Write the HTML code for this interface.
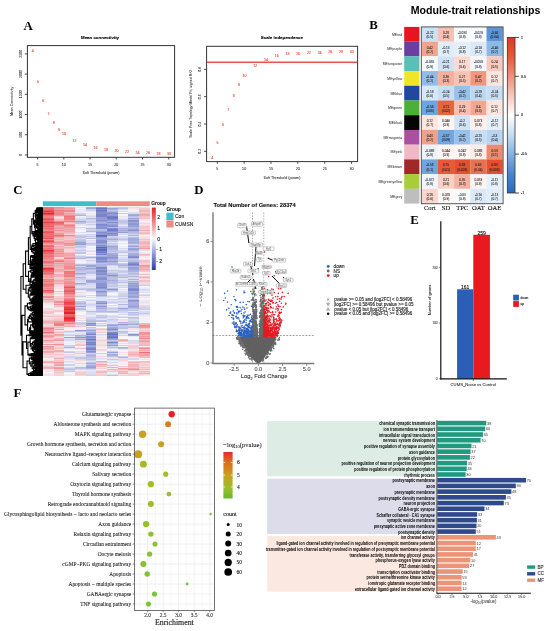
<!DOCTYPE html>
<html><head><meta charset="utf-8"><style>
html,body{margin:0;padding:0;background:#fff;}
body{width:550px;height:631px;overflow:hidden;position:relative;}
svg{position:absolute;left:0;top:0;will-change:transform;}
.s{font-family:"Liberation Sans", sans-serif;}
.r{font-family:"Liberation Serif", serif;}
</style></head><body>
<svg width="550" height="631" viewBox="0 0 550 631">
<text class="r" x="23.40" y="29.70" font-size="12.8" font-weight="bold">A</text>
<text class="r" x="369.20" y="28.90" font-size="12.8" font-weight="bold">B</text>
<text class="r" x="13.20" y="193.90" font-size="12.8" font-weight="bold">C</text>
<text class="r" x="194.20" y="194.20" font-size="12.8" font-weight="bold">D</text>
<text class="r" x="410.30" y="224.20" font-size="12.8" font-weight="bold">E</text>
<text class="r" x="13.60" y="396.70" font-size="12.8" font-weight="bold">F</text>
<rect x="27.4" y="45.6" width="147.2" height="111.70000000000002" fill="none" stroke="#333" stroke-width="1.0"/>
<line x1="37.60" y1="157.30" x2="37.60" y2="159.50" stroke="#222" stroke-width="0.8"/>
<text class="s" x="37.60" y="165.80" font-size="3.7" text-anchor="middle" fill="#222" stroke="#222" stroke-width="0.04">5</text>
<line x1="63.83" y1="157.30" x2="63.83" y2="159.50" stroke="#222" stroke-width="0.8"/>
<text class="s" x="63.83" y="165.80" font-size="3.7" text-anchor="middle" fill="#222" stroke="#222" stroke-width="0.04">10</text>
<line x1="90.05" y1="157.30" x2="90.05" y2="159.50" stroke="#222" stroke-width="0.8"/>
<text class="s" x="90.05" y="165.80" font-size="3.7" text-anchor="middle" fill="#222" stroke="#222" stroke-width="0.04">15</text>
<line x1="116.28" y1="157.30" x2="116.28" y2="159.50" stroke="#222" stroke-width="0.8"/>
<text class="s" x="116.28" y="165.80" font-size="3.7" text-anchor="middle" fill="#222" stroke="#222" stroke-width="0.04">20</text>
<line x1="142.50" y1="157.30" x2="142.50" y2="159.50" stroke="#222" stroke-width="0.8"/>
<text class="s" x="142.50" y="165.80" font-size="3.7" text-anchor="middle" fill="#222" stroke="#222" stroke-width="0.04">25</text>
<line x1="168.72" y1="157.30" x2="168.72" y2="159.50" stroke="#222" stroke-width="0.8"/>
<text class="s" x="168.72" y="165.80" font-size="3.7" text-anchor="middle" fill="#222" stroke="#222" stroke-width="0.04">30</text>
<line x1="27.40" y1="154.90" x2="24.80" y2="154.90" stroke="#222" stroke-width="0.8"/>
<text class="s" x="21.60" y="154.90" font-size="3.5" text-anchor="middle" fill="#222" transform="rotate(-90 21.60 154.90)" stroke="#222" stroke-width="0.04">0</text>
<line x1="27.40" y1="134.70" x2="24.80" y2="134.70" stroke="#222" stroke-width="0.8"/>
<text class="s" x="21.60" y="134.70" font-size="3.5" text-anchor="middle" fill="#222" transform="rotate(-90 21.60 134.70)" stroke="#222" stroke-width="0.04">500</text>
<line x1="27.40" y1="114.50" x2="24.80" y2="114.50" stroke="#222" stroke-width="0.8"/>
<text class="s" x="21.60" y="114.50" font-size="3.5" text-anchor="middle" fill="#222" transform="rotate(-90 21.60 114.50)" stroke="#222" stroke-width="0.04">1000</text>
<line x1="27.40" y1="94.30" x2="24.80" y2="94.30" stroke="#222" stroke-width="0.8"/>
<text class="s" x="21.60" y="94.30" font-size="3.5" text-anchor="middle" fill="#222" transform="rotate(-90 21.60 94.30)" stroke="#222" stroke-width="0.04">1500</text>
<line x1="27.40" y1="74.10" x2="24.80" y2="74.10" stroke="#222" stroke-width="0.8"/>
<text class="s" x="21.60" y="74.10" font-size="3.5" text-anchor="middle" fill="#222" transform="rotate(-90 21.60 74.10)" stroke="#222" stroke-width="0.04">2000</text>
<line x1="27.40" y1="53.90" x2="24.80" y2="53.90" stroke="#222" stroke-width="0.8"/>
<text class="s" x="21.60" y="53.90" font-size="3.5" text-anchor="middle" fill="#222" transform="rotate(-90 21.60 53.90)" stroke="#222" stroke-width="0.04">2500</text>
<text class="s" x="101.00" y="174.30" font-size="3.65" text-anchor="middle" fill="#222" stroke="#222" stroke-width="0.04">Soft Threshold (power)</text>
<text class="s" x="12.60" y="101.45" font-size="3.57" text-anchor="middle" fill="#222" transform="rotate(-90 12.60 101.45)" stroke="#222" stroke-width="0.04">Mean Connectivity</text>
<text class="s" x="100.00" y="38.50" font-size="4.4" text-anchor="middle" font-weight="bold" stroke="#000" stroke-width="0.12">Mean connectivity</text>
<text class="s" x="32.66" y="51.94" font-size="3.6" text-anchor="middle" fill="#ea5040" stroke="#ea5040" stroke-width="0.12">4</text>
<text class="s" x="37.90" y="82.57" font-size="3.6" text-anchor="middle" fill="#ea5040" stroke="#ea5040" stroke-width="0.12">5</text>
<text class="s" x="43.14" y="101.76" font-size="3.6" text-anchor="middle" fill="#ea5040" stroke="#ea5040" stroke-width="0.12">6</text>
<text class="s" x="48.39" y="114.52" font-size="3.6" text-anchor="middle" fill="#ea5040" stroke="#ea5040" stroke-width="0.12">7</text>
<text class="s" x="53.63" y="124.18" font-size="3.6" text-anchor="middle" fill="#ea5040" stroke="#ea5040" stroke-width="0.12">8</text>
<text class="s" x="58.88" y="130.64" font-size="3.6" text-anchor="middle" fill="#ea5040" stroke="#ea5040" stroke-width="0.12">9</text>
<text class="s" x="64.12" y="135.13" font-size="3.6" text-anchor="middle" fill="#ea5040" stroke="#ea5040" stroke-width="0.12">10</text>
<text class="s" x="74.61" y="141.99" font-size="3.6" text-anchor="middle" fill="#ea5040" stroke="#ea5040" stroke-width="0.12">12</text>
<text class="s" x="85.11" y="145.75" font-size="3.6" text-anchor="middle" fill="#ea5040" stroke="#ea5040" stroke-width="0.12">14</text>
<text class="s" x="95.59" y="148.82" font-size="3.6" text-anchor="middle" fill="#ea5040" stroke="#ea5040" stroke-width="0.12">16</text>
<text class="s" x="106.08" y="150.64" font-size="3.6" text-anchor="middle" fill="#ea5040" stroke="#ea5040" stroke-width="0.12">18</text>
<text class="s" x="116.58" y="152.01" font-size="3.6" text-anchor="middle" fill="#ea5040" stroke="#ea5040" stroke-width="0.12">20</text>
<text class="s" x="127.07" y="153.02" font-size="3.6" text-anchor="middle" fill="#ea5040" stroke="#ea5040" stroke-width="0.12">22</text>
<text class="s" x="137.56" y="153.71" font-size="3.6" text-anchor="middle" fill="#ea5040" stroke="#ea5040" stroke-width="0.12">24</text>
<text class="s" x="148.05" y="154.20" font-size="3.6" text-anchor="middle" fill="#ea5040" stroke="#ea5040" stroke-width="0.12">26</text>
<text class="s" x="158.54" y="154.68" font-size="3.6" text-anchor="middle" fill="#ea5040" stroke="#ea5040" stroke-width="0.12">28</text>
<text class="s" x="169.03" y="155.00" font-size="3.6" text-anchor="middle" fill="#ea5040" stroke="#ea5040" stroke-width="0.12">30</text>
<rect x="206.6" y="46.3" width="151.00000000000003" height="115.3" fill="none" stroke="#333" stroke-width="1.0"/>
<line x1="217.30" y1="161.60" x2="217.30" y2="163.80" stroke="#222" stroke-width="0.8"/>
<text class="s" x="217.30" y="170.10" font-size="3.7" text-anchor="middle" fill="#222" stroke="#222" stroke-width="0.04">5</text>
<line x1="244.15" y1="161.60" x2="244.15" y2="163.80" stroke="#222" stroke-width="0.8"/>
<text class="s" x="244.15" y="170.10" font-size="3.7" text-anchor="middle" fill="#222" stroke="#222" stroke-width="0.04">10</text>
<line x1="271.00" y1="161.60" x2="271.00" y2="163.80" stroke="#222" stroke-width="0.8"/>
<text class="s" x="271.00" y="170.10" font-size="3.7" text-anchor="middle" fill="#222" stroke="#222" stroke-width="0.04">15</text>
<line x1="297.85" y1="161.60" x2="297.85" y2="163.80" stroke="#222" stroke-width="0.8"/>
<text class="s" x="297.85" y="170.10" font-size="3.7" text-anchor="middle" fill="#222" stroke="#222" stroke-width="0.04">20</text>
<line x1="324.70" y1="161.60" x2="324.70" y2="163.80" stroke="#222" stroke-width="0.8"/>
<text class="s" x="324.70" y="170.10" font-size="3.7" text-anchor="middle" fill="#222" stroke="#222" stroke-width="0.04">25</text>
<line x1="351.55" y1="161.60" x2="351.55" y2="163.80" stroke="#222" stroke-width="0.8"/>
<text class="s" x="351.55" y="170.10" font-size="3.7" text-anchor="middle" fill="#222" stroke="#222" stroke-width="0.04">30</text>
<line x1="206.60" y1="151.30" x2="204.00" y2="151.30" stroke="#222" stroke-width="0.8"/>
<text class="s" x="200.80" y="151.30" font-size="3.5" text-anchor="middle" fill="#222" transform="rotate(-90 200.80 151.30)" stroke="#222" stroke-width="0.04">0.2</text>
<line x1="206.60" y1="124.00" x2="204.00" y2="124.00" stroke="#222" stroke-width="0.8"/>
<text class="s" x="200.80" y="124.00" font-size="3.5" text-anchor="middle" fill="#222" transform="rotate(-90 200.80 124.00)" stroke="#222" stroke-width="0.04">0.4</text>
<line x1="206.60" y1="96.70" x2="204.00" y2="96.70" stroke="#222" stroke-width="0.8"/>
<text class="s" x="200.80" y="96.70" font-size="3.5" text-anchor="middle" fill="#222" transform="rotate(-90 200.80 96.70)" stroke="#222" stroke-width="0.04">0.6</text>
<line x1="206.60" y1="69.40" x2="204.00" y2="69.40" stroke="#222" stroke-width="0.8"/>
<text class="s" x="200.80" y="69.40" font-size="3.5" text-anchor="middle" fill="#222" transform="rotate(-90 200.80 69.40)" stroke="#222" stroke-width="0.04">0.8</text>
<text class="s" x="282.10" y="178.60" font-size="3.65" text-anchor="middle" fill="#222" stroke="#222" stroke-width="0.04">Soft Threshold (power)</text>
<text class="s" x="192.00" y="103.95" font-size="3.57" text-anchor="middle" fill="#222" transform="rotate(-90 192.00 103.95)" stroke="#222" stroke-width="0.04">Scale Free Topology Model Fit, signed R^2</text>
<text class="s" x="281.90" y="38.50" font-size="4.4" text-anchor="middle" font-weight="bold" stroke="#000" stroke-width="0.12">Scale independence</text>
<line x1="207.10" y1="62.20" x2="357.10" y2="62.20" stroke="#f05050" stroke-width="1.5"/>
<text class="s" x="212.23" y="159.11" font-size="3.6" text-anchor="middle" fill="#ea5040" stroke="#ea5040" stroke-width="0.12">4</text>
<text class="s" x="217.60" y="144.36" font-size="3.6" text-anchor="middle" fill="#ea5040" stroke="#ea5040" stroke-width="0.12">5</text>
<text class="s" x="222.97" y="125.80" font-size="3.6" text-anchor="middle" fill="#ea5040" stroke="#ea5040" stroke-width="0.12">6</text>
<text class="s" x="228.34" y="111.19" font-size="3.6" text-anchor="middle" fill="#ea5040" stroke="#ea5040" stroke-width="0.12">7</text>
<text class="s" x="233.71" y="97.41" font-size="3.6" text-anchor="middle" fill="#ea5040" stroke="#ea5040" stroke-width="0.12">8</text>
<text class="s" x="239.08" y="86.35" font-size="3.6" text-anchor="middle" fill="#ea5040" stroke="#ea5040" stroke-width="0.12">9</text>
<text class="s" x="244.45" y="76.93" font-size="3.6" text-anchor="middle" fill="#ea5040" stroke="#ea5040" stroke-width="0.12">10</text>
<text class="s" x="255.19" y="66.70" font-size="3.6" text-anchor="middle" fill="#ea5040" stroke="#ea5040" stroke-width="0.12">12</text>
<text class="s" x="265.93" y="60.55" font-size="3.6" text-anchor="middle" fill="#ea5040" stroke="#ea5040" stroke-width="0.12">14</text>
<text class="s" x="276.67" y="57.00" font-size="3.6" text-anchor="middle" fill="#ea5040" stroke="#ea5040" stroke-width="0.12">16</text>
<text class="s" x="287.41" y="55.37" font-size="3.6" text-anchor="middle" fill="#ea5040" stroke="#ea5040" stroke-width="0.12">18</text>
<text class="s" x="298.15" y="54.68" font-size="3.6" text-anchor="middle" fill="#ea5040" stroke="#ea5040" stroke-width="0.12">20</text>
<text class="s" x="308.89" y="54.27" font-size="3.6" text-anchor="middle" fill="#ea5040" stroke="#ea5040" stroke-width="0.12">22</text>
<text class="s" x="319.63" y="53.59" font-size="3.6" text-anchor="middle" fill="#ea5040" stroke="#ea5040" stroke-width="0.12">24</text>
<text class="s" x="330.37" y="53.46" font-size="3.6" text-anchor="middle" fill="#ea5040" stroke="#ea5040" stroke-width="0.12">26</text>
<text class="s" x="341.11" y="53.46" font-size="3.6" text-anchor="middle" fill="#ea5040" stroke="#ea5040" stroke-width="0.12">28</text>
<text class="s" x="351.85" y="53.46" font-size="3.6" text-anchor="middle" fill="#ea5040" stroke="#ea5040" stroke-width="0.12">30</text>
<text class="s" x="410.80" y="13.90" font-size="10.6" font-weight="bold">Module-trait relationships</text>
<rect x="404.20" y="26.90" width="15.20" height="14.77" fill="#e8141e"/>
<rect x="421.70" y="26.90" width="16.25" height="14.77" fill="#cde1f4"/>
<rect x="437.90" y="26.90" width="16.25" height="14.77" fill="#f6c1b2"/>
<rect x="454.10" y="26.90" width="16.25" height="14.77" fill="#f7fbfd"/>
<rect x="470.30" y="26.90" width="16.25" height="14.77" fill="#f8fbfd"/>
<rect x="486.50" y="26.90" width="16.25" height="14.77" fill="#5d96d6"/>
<rect x="404.20" y="41.62" width="15.20" height="14.77" fill="#6b3fa0"/>
<rect x="421.70" y="41.62" width="16.25" height="14.77" fill="#f1a38d"/>
<rect x="437.90" y="41.62" width="16.25" height="14.77" fill="#e1edf8"/>
<rect x="454.10" y="41.62" width="16.25" height="14.77" fill="#e4eff9"/>
<rect x="470.30" y="41.62" width="16.25" height="14.77" fill="#dbe9f7"/>
<rect x="486.50" y="41.62" width="16.25" height="14.77" fill="#8db9e6"/>
<rect x="404.20" y="56.34" width="15.20" height="14.77" fill="#5bbfb8"/>
<rect x="421.70" y="56.34" width="16.25" height="14.77" fill="#f2f8fc"/>
<rect x="437.90" y="56.34" width="16.25" height="14.77" fill="#cfe2f4"/>
<rect x="454.10" y="56.34" width="16.25" height="14.77" fill="#fadad0"/>
<rect x="470.30" y="56.34" width="16.25" height="14.77" fill="#f2f7fc"/>
<rect x="486.50" y="56.34" width="16.25" height="14.77" fill="#f7cabd"/>
<rect x="404.20" y="71.06" width="15.20" height="14.77" fill="#f0e628"/>
<rect x="421.70" y="71.06" width="16.25" height="14.77" fill="#92bce7"/>
<rect x="437.90" y="71.06" width="16.25" height="14.77" fill="#f3b09d"/>
<rect x="454.10" y="71.06" width="16.25" height="14.77" fill="#f6c4b5"/>
<rect x="470.30" y="71.06" width="16.25" height="14.77" fill="#ef9880"/>
<rect x="486.50" y="71.06" width="16.25" height="14.77" fill="#fbe5de"/>
<rect x="404.20" y="85.78" width="15.20" height="14.77" fill="#1f48a0"/>
<rect x="421.70" y="85.78" width="16.25" height="14.77" fill="#d6e7f6"/>
<rect x="437.90" y="85.78" width="16.25" height="14.77" fill="#c8def3"/>
<rect x="454.10" y="85.78" width="16.25" height="14.77" fill="#98c0e8"/>
<rect x="470.30" y="85.78" width="16.25" height="14.77" fill="#bed8f0"/>
<rect x="486.50" y="85.78" width="16.25" height="14.77" fill="#c8def3"/>
<rect x="404.20" y="100.50" width="15.20" height="14.77" fill="#4daf3a"/>
<rect x="421.70" y="100.50" width="16.25" height="14.77" fill="#6fa4dd"/>
<rect x="437.90" y="100.50" width="16.25" height="14.77" fill="#e76341"/>
<rect x="454.10" y="100.50" width="16.25" height="14.77" fill="#f6bfaf"/>
<rect x="470.30" y="100.50" width="16.25" height="14.77" fill="#f2a792"/>
<rect x="486.50" y="100.50" width="16.25" height="14.77" fill="#fbe5de"/>
<rect x="404.20" y="115.22" width="15.20" height="14.77" fill="#050505"/>
<rect x="421.70" y="115.22" width="16.25" height="14.77" fill="#fbe5de"/>
<rect x="437.90" y="115.22" width="16.25" height="14.77" fill="#fef5f2"/>
<rect x="454.10" y="115.22" width="16.25" height="14.77" fill="#d1e4f5"/>
<rect x="470.30" y="115.22" width="16.25" height="14.77" fill="#fdefeb"/>
<rect x="486.50" y="115.22" width="16.25" height="14.77" fill="#e4eff9"/>
<rect x="404.20" y="129.94" width="15.20" height="14.77" fill="#a851a0"/>
<rect x="421.70" y="129.94" width="16.25" height="14.77" fill="#f1a08a"/>
<rect x="437.90" y="129.94" width="16.25" height="14.77" fill="#72a6de"/>
<rect x="454.10" y="129.94" width="16.25" height="14.77" fill="#9ac1e9"/>
<rect x="470.30" y="129.94" width="16.25" height="14.77" fill="#c6ddf2"/>
<rect x="486.50" y="129.94" width="16.25" height="14.77" fill="#b8d4ef"/>
<rect x="404.20" y="144.66" width="15.20" height="14.77" fill="#f2b8c6"/>
<rect x="421.70" y="144.66" width="16.25" height="14.77" fill="#ebf3fa"/>
<rect x="437.90" y="144.66" width="16.25" height="14.77" fill="#fef5f3"/>
<rect x="454.10" y="144.66" width="16.25" height="14.77" fill="#fef6f3"/>
<rect x="470.30" y="144.66" width="16.25" height="14.77" fill="#fcece7"/>
<rect x="486.50" y="144.66" width="16.25" height="14.77" fill="#ed8a70"/>
<rect x="404.20" y="159.38" width="15.20" height="14.77" fill="#a02828"/>
<rect x="421.70" y="159.38" width="16.25" height="14.77" fill="#6fa4dd"/>
<rect x="437.90" y="159.38" width="16.25" height="14.77" fill="#e65a37"/>
<rect x="454.10" y="159.38" width="16.25" height="14.77" fill="#e34f2f"/>
<rect x="470.30" y="159.38" width="16.25" height="14.77" fill="#e97051"/>
<rect x="486.50" y="159.38" width="16.25" height="14.77" fill="#e34f2f"/>
<rect x="404.20" y="174.10" width="15.20" height="14.77" fill="#a8cc3a"/>
<rect x="421.70" y="174.10" width="16.25" height="14.77" fill="#eff5fb"/>
<rect x="437.90" y="174.10" width="16.25" height="14.77" fill="#f8d1c5"/>
<rect x="454.10" y="174.10" width="16.25" height="14.77" fill="#f3b2a0"/>
<rect x="470.30" y="174.10" width="16.25" height="14.77" fill="#fdf3f0"/>
<rect x="486.50" y="174.10" width="16.25" height="14.77" fill="#e6f0f9"/>
<rect x="404.20" y="188.82" width="15.20" height="14.77" fill="#bebebe"/>
<rect x="421.70" y="188.82" width="16.25" height="14.77" fill="#f9d5cb"/>
<rect x="437.90" y="188.82" width="16.25" height="14.77" fill="#fef9f7"/>
<rect x="454.10" y="188.82" width="16.25" height="14.77" fill="#f8fbfd"/>
<rect x="470.30" y="188.82" width="16.25" height="14.77" fill="#dbe9f7"/>
<rect x="486.50" y="188.82" width="16.25" height="14.77" fill="#e1edf8"/>
<g class="s" font-size="4.15" fill="#1e1e1e" text-anchor="end" transform="scale(0.84 1)"><text x="478.81" y="35.66">MEred</text><text x="478.81" y="50.38">MEpurple</text><text x="478.81" y="65.10">MEturquoise</text><text x="478.81" y="79.82">MEyellow</text><text x="478.81" y="94.54">MEblue</text><text x="478.81" y="109.26">MEgreen</text><text x="478.81" y="123.98">MEblack</text><text x="478.81" y="138.70">MEmagenta</text><text x="478.81" y="153.42">MEpink</text><text x="478.81" y="168.14">MEbrown</text><text x="478.81" y="182.86">MEgreenyellow</text><text x="478.81" y="197.58">MEgrey</text></g>
<g class="s" font-size="4.1" fill="#1e1e1e" stroke="#1e1e1e" stroke-width="0.07" text-anchor="middle" transform="scale(0.78 1)"><text x="551.03" y="33.96">-0.22</text><text x="551.03" y="38.11">(0.5)</text><text x="571.79" y="33.96">0.28</text><text x="571.79" y="38.11">(0.4)</text><text x="592.56" y="33.96">-0.033</text><text x="592.56" y="38.11">(0.9)</text><text x="613.33" y="33.96">-0.029</text><text x="613.33" y="38.11">(0.9)</text><text x="634.10" y="33.96">-0.66</text><text x="634.10" y="38.11">(0.04)</text><text x="551.03" y="48.68">0.42</text><text x="551.03" y="52.83">(0.2)</text><text x="571.79" y="48.68">-0.13</text><text x="571.79" y="52.83">(0.7)</text><text x="592.56" y="48.68">-0.12</text><text x="592.56" y="52.83">(0.8)</text><text x="613.33" y="48.68">-0.16</text><text x="613.33" y="52.83">(0.7)</text><text x="634.10" y="48.68">-0.46</text><text x="634.10" y="52.83">(0.2)</text><text x="551.03" y="63.40">-0.055</text><text x="551.03" y="67.55">(0.9)</text><text x="571.79" y="63.40">-0.21</text><text x="571.79" y="67.55">(0.6)</text><text x="592.56" y="63.40">0.17</text><text x="592.56" y="67.55">(0.6)</text><text x="613.33" y="63.40">-0.058</text><text x="613.33" y="67.55">(0.9)</text><text x="634.10" y="63.40">0.24</text><text x="634.10" y="67.55">(0.5)</text><text x="551.03" y="78.12">-0.44</text><text x="551.03" y="82.27">(0.2)</text><text x="571.79" y="78.12">0.36</text><text x="571.79" y="82.27">(0.3)</text><text x="592.56" y="78.12">0.27</text><text x="592.56" y="82.27">(0.5)</text><text x="613.33" y="78.12">0.47</text><text x="613.33" y="82.27">(0.2)</text><text x="634.10" y="78.12">0.12</text><text x="634.10" y="82.27">(0.7)</text><text x="551.03" y="92.84">-0.18</text><text x="551.03" y="96.99">(0.6)</text><text x="571.79" y="92.84">-0.24</text><text x="571.79" y="96.99">(0.5)</text><text x="592.56" y="92.84">-0.42</text><text x="592.56" y="96.99">(0.2)</text><text x="613.33" y="92.84">-0.28</text><text x="613.33" y="96.99">(0.4)</text><text x="634.10" y="92.84">-0.24</text><text x="634.10" y="96.99">(0.5)</text><text x="551.03" y="107.56">-0.58</text><text x="551.03" y="111.71">(0.08)</text><text x="571.79" y="107.56">0.71</text><text x="571.79" y="111.71">(0.02)</text><text x="592.56" y="107.56">0.29</text><text x="592.56" y="111.71">(0.4)</text><text x="613.33" y="107.56">0.4</text><text x="613.33" y="111.71">(0.3)</text><text x="634.10" y="107.56">0.12</text><text x="634.10" y="111.71">(0.7)</text><text x="551.03" y="122.28">0.12</text><text x="551.03" y="126.43">(0.7)</text><text x="571.79" y="122.28">0.046</text><text x="571.79" y="126.43">(0.9)</text><text x="592.56" y="122.28">-0.2</text><text x="592.56" y="126.43">(0.6)</text><text x="613.33" y="122.28">0.073</text><text x="613.33" y="126.43">(0.8)</text><text x="634.10" y="122.28">-0.12</text><text x="634.10" y="126.43">(0.7)</text><text x="551.03" y="137.00">0.43</text><text x="551.03" y="141.15">(0.2)</text><text x="571.79" y="137.00">-0.57</text><text x="571.79" y="141.15">(0.09)</text><text x="592.56" y="137.00">-0.41</text><text x="592.56" y="141.15">(0.2)</text><text x="613.33" y="137.00">-0.25</text><text x="613.33" y="141.15">(0.5)</text><text x="634.10" y="137.00">-0.3</text><text x="634.10" y="141.15">(0.4)</text><text x="551.03" y="151.72">-0.088</text><text x="551.03" y="155.87">(0.8)</text><text x="571.79" y="151.72">0.044</text><text x="571.79" y="155.87">(0.9)</text><text x="592.56" y="151.72">0.042</text><text x="592.56" y="155.87">(0.9)</text><text x="613.33" y="151.72">0.088</text><text x="613.33" y="155.87">(0.8)</text><text x="634.10" y="151.72">0.53</text><text x="634.10" y="155.87">(0.1)</text><text x="551.03" y="166.44">-0.58</text><text x="551.03" y="170.59">(0.1)</text><text x="571.79" y="166.44">0.75</text><text x="571.79" y="170.59">(0.01)</text><text x="592.56" y="166.44">0.83</text><text x="592.56" y="170.59">(0.003)</text><text x="613.33" y="166.44">0.65</text><text x="613.33" y="170.59">(0.04)</text><text x="634.10" y="166.44">0.83</text><text x="634.10" y="170.59">(0.003)</text><text x="551.03" y="181.16">-0.072</text><text x="551.03" y="185.31">(0.8)</text><text x="571.79" y="181.16">0.21</text><text x="571.79" y="185.31">(0.6)</text><text x="592.56" y="181.16">0.35</text><text x="592.56" y="185.31">(0.3)</text><text x="613.33" y="181.16">0.053</text><text x="613.33" y="185.31">(0.9)</text><text x="634.10" y="181.16">-0.11</text><text x="634.10" y="185.31">(0.8)</text><text x="551.03" y="195.88">0.19</text><text x="551.03" y="200.03">(0.6)</text><text x="571.79" y="195.88">0.028</text><text x="571.79" y="200.03">(0.9)</text><text x="592.56" y="195.88">-0.03</text><text x="592.56" y="200.03">(0.9)</text><text x="613.33" y="195.88">-0.16</text><text x="613.33" y="200.03">(0.7)</text><text x="634.10" y="195.88">-0.13</text><text x="634.10" y="200.03">(0.7)</text></g>
<rect x="421.3" y="26.9" width="81.8" height="176.84" fill="none" stroke="#444" stroke-width="0.9"/>
<text class="r" x="429.80" y="209.80" font-size="6.6" text-anchor="middle" fill="#111" stroke="#111" stroke-width="0.12">Cort</text>
<text class="r" x="446.00" y="209.80" font-size="6.6" text-anchor="middle" fill="#111" stroke="#111" stroke-width="0.12">SD</text>
<text class="r" x="462.20" y="209.80" font-size="6.6" text-anchor="middle" fill="#111" stroke="#111" stroke-width="0.12">TPC</text>
<text class="r" x="478.40" y="209.80" font-size="6.6" text-anchor="middle" fill="#111" stroke="#111" stroke-width="0.12">OAT</text>
<text class="r" x="494.60" y="209.80" font-size="6.6" text-anchor="middle" fill="#111" stroke="#111" stroke-width="0.12">OAE</text>
<defs><linearGradient id="gB" x1="0" y1="0" x2="0" y2="1"><stop offset="0.000" stop-color="#de371e"/><stop offset="0.125" stop-color="#e65a37"/><stop offset="0.250" stop-color="#ee9178"/><stop offset="0.375" stop-color="#f7c8ba"/><stop offset="0.500" stop-color="#ffffff"/><stop offset="0.625" stop-color="#c6ddf2"/><stop offset="0.750" stop-color="#82b2e4"/><stop offset="0.875" stop-color="#4887ce"/><stop offset="1.000" stop-color="#2869bc"/></linearGradient></defs>
<rect x="507.3" y="37.4" width="7.7" height="155.6" fill="url(#gB)" stroke="#333" stroke-width="0.8"/>
<line x1="515.00" y1="37.40" x2="519.00" y2="37.40" stroke="#222" stroke-width="0.8"/>
<text class="s" x="521.00" y="38.60" font-size="3.5" fill="#222" stroke="#222" stroke-width="0.12">1</text>
<line x1="515.00" y1="76.30" x2="519.00" y2="76.30" stroke="#222" stroke-width="0.8"/>
<text class="s" x="521.00" y="77.50" font-size="3.5" fill="#222" stroke="#222" stroke-width="0.12">0.5</text>
<line x1="515.00" y1="115.20" x2="519.00" y2="115.20" stroke="#222" stroke-width="0.8"/>
<text class="s" x="521.00" y="116.40" font-size="3.5" fill="#222" stroke="#222" stroke-width="0.12">0</text>
<line x1="515.00" y1="154.10" x2="519.00" y2="154.10" stroke="#222" stroke-width="0.8"/>
<text class="s" x="521.00" y="155.30" font-size="3.5" fill="#222" stroke="#222" stroke-width="0.12">-0.5</text>
<line x1="515.00" y1="193.00" x2="519.00" y2="193.00" stroke="#222" stroke-width="0.8"/>
<text class="s" x="521.00" y="194.20" font-size="3.5" fill="#222" stroke="#222" stroke-width="0.12">-1</text>
<rect x="42.80" y="201.30" width="53.50" height="4.80" fill="#3fbdcb"/>
<rect x="96.30" y="201.30" width="53.50" height="4.80" fill="#f08a84"/>
<g shape-rendering="crispEdges"><rect x="42.80" y="207.30" width="10.75" height="1.05" fill="#ee777d"/><rect x="53.50" y="207.30" width="10.75" height="1.05" fill="#f08d92"/><rect x="64.20" y="207.30" width="10.75" height="1.05" fill="#f3afb4"/><rect x="74.90" y="207.30" width="10.75" height="1.05" fill="#e5e7f5"/><rect x="85.60" y="207.30" width="10.75" height="1.05" fill="#a7afdd"/><rect x="96.30" y="207.30" width="10.75" height="1.05" fill="#8d97d3"/><rect x="107.00" y="207.30" width="10.75" height="1.05" fill="#ccd0eb"/><rect x="117.70" y="207.30" width="10.75" height="1.05" fill="#c6cbe9"/><rect x="128.40" y="207.30" width="10.75" height="1.05" fill="#dee0f2"/><rect x="139.10" y="207.30" width="10.75" height="1.05" fill="#f6dfe3"/><rect x="42.80" y="208.29" width="10.75" height="1.05" fill="#ed6d73"/><rect x="53.50" y="208.29" width="10.75" height="1.05" fill="#f1989d"/><rect x="64.20" y="208.29" width="10.75" height="1.05" fill="#f1999e"/><rect x="74.90" y="208.29" width="10.75" height="1.05" fill="#f0f1f9"/><rect x="85.60" y="208.29" width="10.75" height="1.05" fill="#9ea6d9"/><rect x="96.30" y="208.29" width="10.75" height="1.05" fill="#6b77c1"/><rect x="107.00" y="208.29" width="10.75" height="1.05" fill="#9aa3d7"/><rect x="117.70" y="208.29" width="10.75" height="1.05" fill="#bbc1e4"/><rect x="128.40" y="208.29" width="10.75" height="1.05" fill="#f6e3e7"/><rect x="139.10" y="208.29" width="10.75" height="1.05" fill="#f5cacf"/><rect x="42.80" y="209.28" width="10.75" height="1.05" fill="#ed6a70"/><rect x="53.50" y="209.28" width="10.75" height="1.05" fill="#f1999e"/><rect x="64.20" y="209.28" width="10.75" height="1.05" fill="#f2a2a6"/><rect x="74.90" y="209.28" width="10.75" height="1.05" fill="#e8e9f6"/><rect x="85.60" y="209.28" width="10.75" height="1.05" fill="#cdd1eb"/><rect x="96.30" y="209.28" width="10.75" height="1.05" fill="#7f8bcb"/><rect x="107.00" y="209.28" width="10.75" height="1.05" fill="#acb3df"/><rect x="117.70" y="209.28" width="10.75" height="1.05" fill="#d3d6ee"/><rect x="128.40" y="209.28" width="10.75" height="1.05" fill="#f7eaef"/><rect x="139.10" y="209.28" width="10.75" height="1.05" fill="#f4c6cb"/><rect x="42.80" y="210.28" width="10.75" height="1.05" fill="#eb565d"/><rect x="53.50" y="210.28" width="10.75" height="1.05" fill="#ef7f85"/><rect x="64.20" y="210.28" width="10.75" height="1.05" fill="#f0898e"/><rect x="74.90" y="210.28" width="10.75" height="1.05" fill="#ebecf7"/><rect x="85.60" y="210.28" width="10.75" height="1.05" fill="#cdd1eb"/><rect x="96.30" y="210.28" width="10.75" height="1.05" fill="#6a77c0"/><rect x="107.00" y="210.28" width="10.75" height="1.05" fill="#c5c9e8"/><rect x="117.70" y="210.28" width="10.75" height="1.05" fill="#ecedf7"/><rect x="128.40" y="210.28" width="10.75" height="1.05" fill="#f4f5fb"/><rect x="139.10" y="210.28" width="10.75" height="1.05" fill="#f3b9bd"/><rect x="42.80" y="211.27" width="10.75" height="1.05" fill="#e93c43"/><rect x="53.50" y="211.27" width="10.75" height="1.05" fill="#f0878d"/><rect x="64.20" y="211.27" width="10.75" height="1.05" fill="#ef8489"/><rect x="74.90" y="211.27" width="10.75" height="1.05" fill="#e8e9f6"/><rect x="85.60" y="211.27" width="10.75" height="1.05" fill="#f6e2e6"/><rect x="96.30" y="211.27" width="10.75" height="1.05" fill="#7d88ca"/><rect x="107.00" y="211.27" width="10.75" height="1.05" fill="#acb3de"/><rect x="117.70" y="211.27" width="10.75" height="1.05" fill="#daddf0"/><rect x="128.40" y="211.27" width="10.75" height="1.05" fill="#f1f1f9"/><rect x="139.10" y="211.27" width="10.75" height="1.05" fill="#f3b6bb"/><rect x="42.80" y="212.26" width="10.75" height="1.05" fill="#eb5259"/><rect x="53.50" y="212.26" width="10.75" height="1.05" fill="#f0878c"/><rect x="64.20" y="212.26" width="10.75" height="1.05" fill="#f4bbc0"/><rect x="74.90" y="212.26" width="10.75" height="1.05" fill="#eeeff8"/><rect x="85.60" y="212.26" width="10.75" height="1.05" fill="#f7eff3"/><rect x="96.30" y="212.26" width="10.75" height="1.05" fill="#7f8acb"/><rect x="107.00" y="212.26" width="10.75" height="1.05" fill="#97a0d6"/><rect x="117.70" y="212.26" width="10.75" height="1.05" fill="#f4f5fb"/><rect x="128.40" y="212.26" width="10.75" height="1.05" fill="#dfe1f2"/><rect x="139.10" y="212.26" width="10.75" height="1.05" fill="#f5cbcf"/><rect x="42.80" y="213.25" width="10.75" height="1.05" fill="#e7252c"/><rect x="53.50" y="213.25" width="10.75" height="1.05" fill="#ef8085"/><rect x="64.20" y="213.25" width="10.75" height="1.05" fill="#f19a9f"/><rect x="74.90" y="213.25" width="10.75" height="1.05" fill="#cfd3ec"/><rect x="85.60" y="213.25" width="10.75" height="1.05" fill="#f7e6ea"/><rect x="96.30" y="213.25" width="10.75" height="1.05" fill="#8a95d1"/><rect x="107.00" y="213.25" width="10.75" height="1.05" fill="#7f8acb"/><rect x="117.70" y="213.25" width="10.75" height="1.05" fill="#c7cbe9"/><rect x="128.40" y="213.25" width="10.75" height="1.05" fill="#d8dbf0"/><rect x="139.10" y="213.25" width="10.75" height="1.05" fill="#f3bbbf"/><rect x="42.80" y="214.25" width="10.75" height="1.05" fill="#ea464d"/><rect x="53.50" y="214.25" width="10.75" height="1.05" fill="#ef858a"/><rect x="64.20" y="214.25" width="10.75" height="1.05" fill="#f3aeb3"/><rect x="74.90" y="214.25" width="10.75" height="1.05" fill="#c5cae8"/><rect x="85.60" y="214.25" width="10.75" height="1.05" fill="#f7ebef"/><rect x="96.30" y="214.25" width="10.75" height="1.05" fill="#737fc5"/><rect x="107.00" y="214.25" width="10.75" height="1.05" fill="#969fd6"/><rect x="117.70" y="214.25" width="10.75" height="1.05" fill="#f8f8fc"/><rect x="128.40" y="214.25" width="10.75" height="1.05" fill="#a5addc"/><rect x="139.10" y="214.25" width="10.75" height="1.05" fill="#f2a3a8"/><rect x="42.80" y="215.24" width="10.75" height="1.05" fill="#ee7177"/><rect x="53.50" y="215.24" width="10.75" height="1.05" fill="#f1979c"/><rect x="64.20" y="215.24" width="10.75" height="1.05" fill="#f0898e"/><rect x="74.90" y="215.24" width="10.75" height="1.05" fill="#adb4df"/><rect x="85.60" y="215.24" width="10.75" height="1.05" fill="#dfe1f2"/><rect x="96.30" y="215.24" width="10.75" height="1.05" fill="#7984c8"/><rect x="107.00" y="215.24" width="10.75" height="1.05" fill="#939cd5"/><rect x="117.70" y="215.24" width="10.75" height="1.05" fill="#f8f5f9"/><rect x="128.40" y="215.24" width="10.75" height="1.05" fill="#9da6d9"/><rect x="139.10" y="215.24" width="10.75" height="1.05" fill="#f2abaf"/><rect x="42.80" y="216.23" width="10.75" height="1.05" fill="#ef8085"/><rect x="53.50" y="216.23" width="10.75" height="1.05" fill="#f5cace"/><rect x="64.20" y="216.23" width="10.75" height="1.05" fill="#ee7378"/><rect x="74.90" y="216.23" width="10.75" height="1.05" fill="#eff0f9"/><rect x="85.60" y="216.23" width="10.75" height="1.05" fill="#d4d7ee"/><rect x="96.30" y="216.23" width="10.75" height="1.05" fill="#7985c8"/><rect x="107.00" y="216.23" width="10.75" height="1.05" fill="#7984c8"/><rect x="117.70" y="216.23" width="10.75" height="1.05" fill="#f6e0e4"/><rect x="128.40" y="216.23" width="10.75" height="1.05" fill="#bcc1e5"/><rect x="139.10" y="216.23" width="10.75" height="1.05" fill="#f4c0c4"/><rect x="42.80" y="217.22" width="10.75" height="1.05" fill="#ef8186"/><rect x="53.50" y="217.22" width="10.75" height="1.05" fill="#f7e4e8"/><rect x="64.20" y="217.22" width="10.75" height="1.05" fill="#ef8489"/><rect x="74.90" y="217.22" width="10.75" height="1.05" fill="#e7e8f5"/><rect x="85.60" y="217.22" width="10.75" height="1.05" fill="#dde0f2"/><rect x="96.30" y="217.22" width="10.75" height="1.05" fill="#939cd5"/><rect x="107.00" y="217.22" width="10.75" height="1.05" fill="#6976c0"/><rect x="117.70" y="217.22" width="10.75" height="1.05" fill="#ecedf7"/><rect x="128.40" y="217.22" width="10.75" height="1.05" fill="#c4c9e8"/><rect x="139.10" y="217.22" width="10.75" height="1.05" fill="#f4c7cb"/><rect x="42.80" y="218.22" width="10.75" height="1.05" fill="#ed666c"/><rect x="53.50" y="218.22" width="10.75" height="1.05" fill="#f5d5d9"/><rect x="64.20" y="218.22" width="10.75" height="1.05" fill="#ee767c"/><rect x="74.90" y="218.22" width="10.75" height="1.05" fill="#dee0f2"/><rect x="85.60" y="218.22" width="10.75" height="1.05" fill="#b3bae1"/><rect x="96.30" y="218.22" width="10.75" height="1.05" fill="#929cd4"/><rect x="107.00" y="218.22" width="10.75" height="1.05" fill="#717dc4"/><rect x="117.70" y="218.22" width="10.75" height="1.05" fill="#e4e6f4"/><rect x="128.40" y="218.22" width="10.75" height="1.05" fill="#9fa7d9"/><rect x="139.10" y="218.22" width="10.75" height="1.05" fill="#f4bfc3"/><rect x="42.80" y="219.21" width="10.75" height="1.05" fill="#ea4c53"/><rect x="53.50" y="219.21" width="10.75" height="1.05" fill="#f3b9bd"/><rect x="64.20" y="219.21" width="10.75" height="1.05" fill="#ef868c"/><rect x="74.90" y="219.21" width="10.75" height="1.05" fill="#d1d4ed"/><rect x="85.60" y="219.21" width="10.75" height="1.05" fill="#c9ceea"/><rect x="96.30" y="219.21" width="10.75" height="1.05" fill="#939dd5"/><rect x="107.00" y="219.21" width="10.75" height="1.05" fill="#808bcc"/><rect x="117.70" y="219.21" width="10.75" height="1.05" fill="#d6d9ef"/><rect x="128.40" y="219.21" width="10.75" height="1.05" fill="#aeb5df"/><rect x="139.10" y="219.21" width="10.75" height="1.05" fill="#f6e2e6"/><rect x="42.80" y="220.20" width="10.75" height="1.05" fill="#ee7177"/><rect x="53.50" y="220.20" width="10.75" height="1.05" fill="#f3b2b7"/><rect x="64.20" y="220.20" width="10.75" height="1.05" fill="#f1989c"/><rect x="74.90" y="220.20" width="10.75" height="1.05" fill="#ccd0eb"/><rect x="85.60" y="220.20" width="10.75" height="1.05" fill="#d9dbf0"/><rect x="96.30" y="220.20" width="10.75" height="1.05" fill="#858fce"/><rect x="107.00" y="220.20" width="10.75" height="1.05" fill="#939cd5"/><rect x="117.70" y="220.20" width="10.75" height="1.05" fill="#c2c7e7"/><rect x="128.40" y="220.20" width="10.75" height="1.05" fill="#8b95d1"/><rect x="139.10" y="220.20" width="10.75" height="1.05" fill="#f7e7ec"/><rect x="42.80" y="221.19" width="10.75" height="1.05" fill="#ec6067"/><rect x="53.50" y="221.19" width="10.75" height="1.05" fill="#f0888d"/><rect x="64.20" y="221.19" width="10.75" height="1.05" fill="#ef8085"/><rect x="74.90" y="221.19" width="10.75" height="1.05" fill="#a2aadb"/><rect x="85.60" y="221.19" width="10.75" height="1.05" fill="#c8cce9"/><rect x="96.30" y="221.19" width="10.75" height="1.05" fill="#959ed6"/><rect x="107.00" y="221.19" width="10.75" height="1.05" fill="#a7afdd"/><rect x="117.70" y="221.19" width="10.75" height="1.05" fill="#bdc3e5"/><rect x="128.40" y="221.19" width="10.75" height="1.05" fill="#8993d0"/><rect x="139.10" y="221.19" width="10.75" height="1.05" fill="#f0f1f9"/><rect x="42.80" y="222.19" width="10.75" height="1.05" fill="#e9444b"/><rect x="53.50" y="222.19" width="10.75" height="1.05" fill="#ec5b61"/><rect x="64.20" y="222.19" width="10.75" height="1.05" fill="#f3b4b9"/><rect x="74.90" y="222.19" width="10.75" height="1.05" fill="#bbc1e4"/><rect x="85.60" y="222.19" width="10.75" height="1.05" fill="#c9ceea"/><rect x="96.30" y="222.19" width="10.75" height="1.05" fill="#abb2de"/><rect x="107.00" y="222.19" width="10.75" height="1.05" fill="#848fce"/><rect x="117.70" y="222.19" width="10.75" height="1.05" fill="#bfc5e6"/><rect x="128.40" y="222.19" width="10.75" height="1.05" fill="#a0a8da"/><rect x="139.10" y="222.19" width="10.75" height="1.05" fill="#f7e6ea"/><rect x="42.80" y="223.18" width="10.75" height="1.05" fill="#ec6066"/><rect x="53.50" y="223.18" width="10.75" height="1.05" fill="#ed6b71"/><rect x="64.20" y="223.18" width="10.75" height="1.05" fill="#f5c9ce"/><rect x="74.90" y="223.18" width="10.75" height="1.05" fill="#c0c5e6"/><rect x="85.60" y="223.18" width="10.75" height="1.05" fill="#e0e2f3"/><rect x="96.30" y="223.18" width="10.75" height="1.05" fill="#9ea7d9"/><rect x="107.00" y="223.18" width="10.75" height="1.05" fill="#a2aada"/><rect x="117.70" y="223.18" width="10.75" height="1.05" fill="#c7cce9"/><rect x="128.40" y="223.18" width="10.75" height="1.05" fill="#9099d3"/><rect x="139.10" y="223.18" width="10.75" height="1.05" fill="#f5d4d8"/><rect x="42.80" y="224.17" width="10.75" height="1.05" fill="#ed686e"/><rect x="53.50" y="224.17" width="10.75" height="1.05" fill="#ee7a80"/><rect x="64.20" y="224.17" width="10.75" height="1.05" fill="#f19ca1"/><rect x="74.90" y="224.17" width="10.75" height="1.05" fill="#e4e6f4"/><rect x="85.60" y="224.17" width="10.75" height="1.05" fill="#cbcfea"/><rect x="96.30" y="224.17" width="10.75" height="1.05" fill="#7d88ca"/><rect x="107.00" y="224.17" width="10.75" height="1.05" fill="#98a1d7"/><rect x="117.70" y="224.17" width="10.75" height="1.05" fill="#d5d8ee"/><rect x="128.40" y="224.17" width="10.75" height="1.05" fill="#8c96d2"/><rect x="139.10" y="224.17" width="10.75" height="1.05" fill="#f7e5e9"/><rect x="42.80" y="225.16" width="10.75" height="1.05" fill="#ed7076"/><rect x="53.50" y="225.16" width="10.75" height="1.05" fill="#f1989d"/><rect x="64.20" y="225.16" width="10.75" height="1.05" fill="#ef7e84"/><rect x="74.90" y="225.16" width="10.75" height="1.05" fill="#e5e7f5"/><rect x="85.60" y="225.16" width="10.75" height="1.05" fill="#e1e3f3"/><rect x="96.30" y="225.16" width="10.75" height="1.05" fill="#818ccc"/><rect x="107.00" y="225.16" width="10.75" height="1.05" fill="#8e98d3"/><rect x="117.70" y="225.16" width="10.75" height="1.05" fill="#e5e7f5"/><rect x="128.40" y="225.16" width="10.75" height="1.05" fill="#9ba4d8"/><rect x="139.10" y="225.16" width="10.75" height="1.05" fill="#f6dade"/><rect x="42.80" y="226.15" width="10.75" height="1.05" fill="#ec5e64"/><rect x="53.50" y="226.15" width="10.75" height="1.05" fill="#f2a9ae"/><rect x="64.20" y="226.15" width="10.75" height="1.05" fill="#f08f94"/><rect x="74.90" y="226.15" width="10.75" height="1.05" fill="#f8f6fa"/><rect x="85.60" y="226.15" width="10.75" height="1.05" fill="#ecedf7"/><rect x="96.30" y="226.15" width="10.75" height="1.05" fill="#909ad4"/><rect x="107.00" y="226.15" width="10.75" height="1.05" fill="#818ccc"/><rect x="117.70" y="226.15" width="10.75" height="1.05" fill="#caceea"/><rect x="128.40" y="226.15" width="10.75" height="1.05" fill="#97a0d6"/><rect x="139.10" y="226.15" width="10.75" height="1.05" fill="#f4c1c5"/><rect x="42.80" y="227.15" width="10.75" height="1.05" fill="#ee7b80"/><rect x="53.50" y="227.15" width="10.75" height="1.05" fill="#f19ca1"/><rect x="64.20" y="227.15" width="10.75" height="1.05" fill="#f1969a"/><rect x="74.90" y="227.15" width="10.75" height="1.05" fill="#d4d7ee"/><rect x="85.60" y="227.15" width="10.75" height="1.05" fill="#e5e6f4"/><rect x="96.30" y="227.15" width="10.75" height="1.05" fill="#8892d0"/><rect x="107.00" y="227.15" width="10.75" height="1.05" fill="#bbc1e4"/><rect x="117.70" y="227.15" width="10.75" height="1.05" fill="#caceea"/><rect x="128.40" y="227.15" width="10.75" height="1.05" fill="#b0b7e0"/><rect x="139.10" y="227.15" width="10.75" height="1.05" fill="#f5cace"/><rect x="42.80" y="228.14" width="10.75" height="1.05" fill="#ed696f"/><rect x="53.50" y="228.14" width="10.75" height="1.05" fill="#f19ca1"/><rect x="64.20" y="228.14" width="10.75" height="1.05" fill="#f2a7ac"/><rect x="74.90" y="228.14" width="10.75" height="1.05" fill="#eaecf7"/><rect x="85.60" y="228.14" width="10.75" height="1.05" fill="#bac0e4"/><rect x="96.30" y="228.14" width="10.75" height="1.05" fill="#8590ce"/><rect x="107.00" y="228.14" width="10.75" height="1.05" fill="#808bcc"/><rect x="117.70" y="228.14" width="10.75" height="1.05" fill="#acb3de"/><rect x="128.40" y="228.14" width="10.75" height="1.05" fill="#adb4df"/><rect x="139.10" y="228.14" width="10.75" height="1.05" fill="#f4c8cc"/><rect x="42.80" y="229.13" width="10.75" height="1.05" fill="#ef7c81"/><rect x="53.50" y="229.13" width="10.75" height="1.05" fill="#f2a9ae"/><rect x="64.20" y="229.13" width="10.75" height="1.05" fill="#f19da2"/><rect x="74.90" y="229.13" width="10.75" height="1.05" fill="#ecedf7"/><rect x="85.60" y="229.13" width="10.75" height="1.05" fill="#d1d4ed"/><rect x="96.30" y="229.13" width="10.75" height="1.05" fill="#babfe4"/><rect x="107.00" y="229.13" width="10.75" height="1.05" fill="#7480c5"/><rect x="117.70" y="229.13" width="10.75" height="1.05" fill="#b4bbe2"/><rect x="128.40" y="229.13" width="10.75" height="1.05" fill="#959ed6"/><rect x="139.10" y="229.13" width="10.75" height="1.05" fill="#f5cfd3"/><rect x="42.80" y="230.12" width="10.75" height="1.05" fill="#f08b90"/><rect x="53.50" y="230.12" width="10.75" height="1.05" fill="#f1959a"/><rect x="64.20" y="230.12" width="10.75" height="1.05" fill="#f2aaaf"/><rect x="74.90" y="230.12" width="10.75" height="1.05" fill="#f7f7fc"/><rect x="85.60" y="230.12" width="10.75" height="1.05" fill="#ccd0eb"/><rect x="96.30" y="230.12" width="10.75" height="1.05" fill="#b2b9e1"/><rect x="107.00" y="230.12" width="10.75" height="1.05" fill="#6d79c2"/><rect x="117.70" y="230.12" width="10.75" height="1.05" fill="#a2aadb"/><rect x="128.40" y="230.12" width="10.75" height="1.05" fill="#8791cf"/><rect x="139.10" y="230.12" width="10.75" height="1.05" fill="#f2acb1"/><rect x="42.80" y="231.12" width="10.75" height="1.05" fill="#ec6268"/><rect x="53.50" y="231.12" width="10.75" height="1.05" fill="#f3b0b5"/><rect x="64.20" y="231.12" width="10.75" height="1.05" fill="#f1a0a4"/><rect x="74.90" y="231.12" width="10.75" height="1.05" fill="#f8f4f8"/><rect x="85.60" y="231.12" width="10.75" height="1.05" fill="#b2b9e1"/><rect x="96.30" y="231.12" width="10.75" height="1.05" fill="#9fa8da"/><rect x="107.00" y="231.12" width="10.75" height="1.05" fill="#8791cf"/><rect x="117.70" y="231.12" width="10.75" height="1.05" fill="#b0b7e0"/><rect x="128.40" y="231.12" width="10.75" height="1.05" fill="#acb3de"/><rect x="139.10" y="231.12" width="10.75" height="1.05" fill="#f5d4d9"/><rect x="42.80" y="232.11" width="10.75" height="1.05" fill="#eb545b"/><rect x="53.50" y="232.11" width="10.75" height="1.05" fill="#f3b3b7"/><rect x="64.20" y="232.11" width="10.75" height="1.05" fill="#f3b1b6"/><rect x="74.90" y="232.11" width="10.75" height="1.05" fill="#dde0f2"/><rect x="85.60" y="232.11" width="10.75" height="1.05" fill="#e0e3f3"/><rect x="96.30" y="232.11" width="10.75" height="1.05" fill="#838ece"/><rect x="107.00" y="232.11" width="10.75" height="1.05" fill="#99a2d7"/><rect x="117.70" y="232.11" width="10.75" height="1.05" fill="#939cd5"/><rect x="128.40" y="232.11" width="10.75" height="1.05" fill="#b2b9e1"/><rect x="139.10" y="232.11" width="10.75" height="1.05" fill="#f4bfc4"/><rect x="42.80" y="233.10" width="10.75" height="1.05" fill="#ed6b71"/><rect x="53.50" y="233.10" width="10.75" height="1.05" fill="#f1979c"/><rect x="64.20" y="233.10" width="10.75" height="1.05" fill="#f4bec3"/><rect x="74.90" y="233.10" width="10.75" height="1.05" fill="#f1f2f9"/><rect x="85.60" y="233.10" width="10.75" height="1.05" fill="#f4f4fa"/><rect x="96.30" y="233.10" width="10.75" height="1.05" fill="#8c96d2"/><rect x="107.00" y="233.10" width="10.75" height="1.05" fill="#7d88ca"/><rect x="117.70" y="233.10" width="10.75" height="1.05" fill="#dee1f2"/><rect x="128.40" y="233.10" width="10.75" height="1.05" fill="#bec3e5"/><rect x="139.10" y="233.10" width="10.75" height="1.05" fill="#f3b3b8"/><rect x="42.80" y="234.09" width="10.75" height="1.05" fill="#ee7278"/><rect x="53.50" y="234.09" width="10.75" height="1.05" fill="#f1979c"/><rect x="64.20" y="234.09" width="10.75" height="1.05" fill="#f5ccd1"/><rect x="74.90" y="234.09" width="10.75" height="1.05" fill="#e1e3f3"/><rect x="85.60" y="234.09" width="10.75" height="1.05" fill="#ccd0eb"/><rect x="96.30" y="234.09" width="10.75" height="1.05" fill="#919bd4"/><rect x="107.00" y="234.09" width="10.75" height="1.05" fill="#929bd4"/><rect x="117.70" y="234.09" width="10.75" height="1.05" fill="#d4d7ee"/><rect x="128.40" y="234.09" width="10.75" height="1.05" fill="#cfd2ec"/><rect x="139.10" y="234.09" width="10.75" height="1.05" fill="#f6dade"/><rect x="42.80" y="235.09" width="10.75" height="1.05" fill="#ed6f75"/><rect x="53.50" y="235.09" width="10.75" height="1.05" fill="#ed6c72"/><rect x="64.20" y="235.09" width="10.75" height="1.05" fill="#f08a8f"/><rect x="74.90" y="235.09" width="10.75" height="1.05" fill="#c8cde9"/><rect x="85.60" y="235.09" width="10.75" height="1.05" fill="#dee1f2"/><rect x="96.30" y="235.09" width="10.75" height="1.05" fill="#5a68b8"/><rect x="107.00" y="235.09" width="10.75" height="1.05" fill="#8d97d2"/><rect x="117.70" y="235.09" width="10.75" height="1.05" fill="#eff0f9"/><rect x="128.40" y="235.09" width="10.75" height="1.05" fill="#aeb5df"/><rect x="139.10" y="235.09" width="10.75" height="1.05" fill="#f8f3f7"/><rect x="42.80" y="236.08" width="10.75" height="1.05" fill="#ed666c"/><rect x="53.50" y="236.08" width="10.75" height="1.05" fill="#f08d92"/><rect x="64.20" y="236.08" width="10.75" height="1.05" fill="#f3afb4"/><rect x="74.90" y="236.08" width="10.75" height="1.05" fill="#bdc3e5"/><rect x="85.60" y="236.08" width="10.75" height="1.05" fill="#c1c6e6"/><rect x="96.30" y="236.08" width="10.75" height="1.05" fill="#6976c0"/><rect x="107.00" y="236.08" width="10.75" height="1.05" fill="#ced2ec"/><rect x="117.70" y="236.08" width="10.75" height="1.05" fill="#d9dbf0"/><rect x="128.40" y="236.08" width="10.75" height="1.05" fill="#d8dbf0"/><rect x="139.10" y="236.08" width="10.75" height="1.05" fill="#f7e7eb"/><rect x="42.80" y="237.07" width="10.75" height="1.05" fill="#ed6e74"/><rect x="53.50" y="237.07" width="10.75" height="1.05" fill="#f2aaaf"/><rect x="64.20" y="237.07" width="10.75" height="1.05" fill="#f5cace"/><rect x="74.90" y="237.07" width="10.75" height="1.05" fill="#c0c6e6"/><rect x="85.60" y="237.07" width="10.75" height="1.05" fill="#dfe1f2"/><rect x="96.30" y="237.07" width="10.75" height="1.05" fill="#939cd5"/><rect x="107.00" y="237.07" width="10.75" height="1.05" fill="#c7cbe9"/><rect x="117.70" y="237.07" width="10.75" height="1.05" fill="#dbddf1"/><rect x="128.40" y="237.07" width="10.75" height="1.05" fill="#b4bae1"/><rect x="139.10" y="237.07" width="10.75" height="1.05" fill="#f6e0e4"/><rect x="42.80" y="238.06" width="10.75" height="1.05" fill="#ea4f55"/><rect x="53.50" y="238.06" width="10.75" height="1.05" fill="#f4c1c5"/><rect x="64.20" y="238.06" width="10.75" height="1.05" fill="#f4bfc3"/><rect x="74.90" y="238.06" width="10.75" height="1.05" fill="#d8dbef"/><rect x="85.60" y="238.06" width="10.75" height="1.05" fill="#b7bde3"/><rect x="96.30" y="238.06" width="10.75" height="1.05" fill="#9fa7d9"/><rect x="107.00" y="238.06" width="10.75" height="1.05" fill="#bac0e4"/><rect x="117.70" y="238.06" width="10.75" height="1.05" fill="#c9ceea"/><rect x="128.40" y="238.06" width="10.75" height="1.05" fill="#a5addc"/><rect x="139.10" y="238.06" width="10.75" height="1.05" fill="#f6dbdf"/><rect x="42.80" y="239.06" width="10.75" height="1.05" fill="#f1959a"/><rect x="53.50" y="239.06" width="10.75" height="1.05" fill="#f3b5ba"/><rect x="64.20" y="239.06" width="10.75" height="1.05" fill="#f5cbcf"/><rect x="74.90" y="239.06" width="10.75" height="1.05" fill="#c4c9e8"/><rect x="85.60" y="239.06" width="10.75" height="1.05" fill="#f4f4fa"/><rect x="96.30" y="239.06" width="10.75" height="1.05" fill="#9da6d9"/><rect x="107.00" y="239.06" width="10.75" height="1.05" fill="#a1a9da"/><rect x="117.70" y="239.06" width="10.75" height="1.05" fill="#bec4e6"/><rect x="128.40" y="239.06" width="10.75" height="1.05" fill="#a1a9da"/><rect x="139.10" y="239.06" width="10.75" height="1.05" fill="#f4c0c5"/><rect x="42.80" y="240.05" width="10.75" height="1.05" fill="#ed666c"/><rect x="53.50" y="240.05" width="10.75" height="1.05" fill="#f4c6ca"/><rect x="64.20" y="240.05" width="10.75" height="1.05" fill="#f2adb1"/><rect x="74.90" y="240.05" width="10.75" height="1.05" fill="#bfc4e6"/><rect x="85.60" y="240.05" width="10.75" height="1.05" fill="#dadcf0"/><rect x="96.30" y="240.05" width="10.75" height="1.05" fill="#848fce"/><rect x="107.00" y="240.05" width="10.75" height="1.05" fill="#c6cbe9"/><rect x="117.70" y="240.05" width="10.75" height="1.05" fill="#d3d6ee"/><rect x="128.40" y="240.05" width="10.75" height="1.05" fill="#a3abdb"/><rect x="139.10" y="240.05" width="10.75" height="1.05" fill="#f5d0d4"/><rect x="42.80" y="241.04" width="10.75" height="1.05" fill="#ea4a51"/><rect x="53.50" y="241.04" width="10.75" height="1.05" fill="#f2a9ae"/><rect x="64.20" y="241.04" width="10.75" height="1.05" fill="#f3b2b6"/><rect x="74.90" y="241.04" width="10.75" height="1.05" fill="#b7bde3"/><rect x="85.60" y="241.04" width="10.75" height="1.05" fill="#e4e6f4"/><rect x="96.30" y="241.04" width="10.75" height="1.05" fill="#8994d1"/><rect x="107.00" y="241.04" width="10.75" height="1.05" fill="#c5cae8"/><rect x="117.70" y="241.04" width="10.75" height="1.05" fill="#ecedf7"/><rect x="128.40" y="241.04" width="10.75" height="1.05" fill="#aeb5df"/><rect x="139.10" y="241.04" width="10.75" height="1.05" fill="#f4bdc1"/><rect x="42.80" y="242.03" width="10.75" height="1.05" fill="#ed7076"/><rect x="53.50" y="242.03" width="10.75" height="1.05" fill="#f09297"/><rect x="64.20" y="242.03" width="10.75" height="1.05" fill="#f3afb4"/><rect x="74.90" y="242.03" width="10.75" height="1.05" fill="#9aa3d8"/><rect x="85.60" y="242.03" width="10.75" height="1.05" fill="#dddff1"/><rect x="96.30" y="242.03" width="10.75" height="1.05" fill="#7c87ca"/><rect x="107.00" y="242.03" width="10.75" height="1.05" fill="#dee1f2"/><rect x="117.70" y="242.03" width="10.75" height="1.05" fill="#f5f5fb"/><rect x="128.40" y="242.03" width="10.75" height="1.05" fill="#9ea6d9"/><rect x="139.10" y="242.03" width="10.75" height="1.05" fill="#f3b3b7"/><rect x="42.80" y="243.02" width="10.75" height="1.05" fill="#f09196"/><rect x="53.50" y="243.02" width="10.75" height="1.05" fill="#f2a2a7"/><rect x="64.20" y="243.02" width="10.75" height="1.05" fill="#f08e93"/><rect x="74.90" y="243.02" width="10.75" height="1.05" fill="#9ca5d8"/><rect x="85.60" y="243.02" width="10.75" height="1.05" fill="#c2c7e7"/><rect x="96.30" y="243.02" width="10.75" height="1.05" fill="#98a1d7"/><rect x="107.00" y="243.02" width="10.75" height="1.05" fill="#c9cdea"/><rect x="117.70" y="243.02" width="10.75" height="1.05" fill="#e5e7f5"/><rect x="128.40" y="243.02" width="10.75" height="1.05" fill="#a8b0dd"/><rect x="139.10" y="243.02" width="10.75" height="1.05" fill="#f3b0b5"/><rect x="42.80" y="244.02" width="10.75" height="1.05" fill="#f2a4a8"/><rect x="53.50" y="244.02" width="10.75" height="1.05" fill="#f2a7ac"/><rect x="64.20" y="244.02" width="10.75" height="1.05" fill="#f19ca1"/><rect x="74.90" y="244.02" width="10.75" height="1.05" fill="#969fd6"/><rect x="85.60" y="244.02" width="10.75" height="1.05" fill="#c8cce9"/><rect x="96.30" y="244.02" width="10.75" height="1.05" fill="#a3abdb"/><rect x="107.00" y="244.02" width="10.75" height="1.05" fill="#cbcfeb"/><rect x="117.70" y="244.02" width="10.75" height="1.05" fill="#f3f3fa"/><rect x="128.40" y="244.02" width="10.75" height="1.05" fill="#ccd0eb"/><rect x="139.10" y="244.02" width="10.75" height="1.05" fill="#f4c0c5"/><rect x="42.80" y="245.01" width="10.75" height="1.05" fill="#ee767b"/><rect x="53.50" y="245.01" width="10.75" height="1.05" fill="#f5d0d5"/><rect x="64.20" y="245.01" width="10.75" height="1.05" fill="#f1969b"/><rect x="74.90" y="245.01" width="10.75" height="1.05" fill="#caceea"/><rect x="85.60" y="245.01" width="10.75" height="1.05" fill="#d7daef"/><rect x="96.30" y="245.01" width="10.75" height="1.05" fill="#8691cf"/><rect x="107.00" y="245.01" width="10.75" height="1.05" fill="#bec4e6"/><rect x="117.70" y="245.01" width="10.75" height="1.05" fill="#f8f5f9"/><rect x="128.40" y="245.01" width="10.75" height="1.05" fill="#b5bce2"/><rect x="139.10" y="245.01" width="10.75" height="1.05" fill="#f4c5c9"/><rect x="42.80" y="246.00" width="10.75" height="1.05" fill="#ed676d"/><rect x="53.50" y="246.00" width="10.75" height="1.05" fill="#f2aeb2"/><rect x="64.20" y="246.00" width="10.75" height="1.05" fill="#f5d2d7"/><rect x="74.90" y="246.00" width="10.75" height="1.05" fill="#bec4e6"/><rect x="85.60" y="246.00" width="10.75" height="1.05" fill="#f8f2f6"/><rect x="96.30" y="246.00" width="10.75" height="1.05" fill="#8993d0"/><rect x="107.00" y="246.00" width="10.75" height="1.05" fill="#9aa3d7"/><rect x="117.70" y="246.00" width="10.75" height="1.05" fill="#eeeff8"/><rect x="128.40" y="246.00" width="10.75" height="1.05" fill="#99a2d7"/><rect x="139.10" y="246.00" width="10.75" height="1.05" fill="#f3afb4"/><rect x="42.80" y="246.99" width="10.75" height="1.05" fill="#ef8489"/><rect x="53.50" y="246.99" width="10.75" height="1.05" fill="#f3b9be"/><rect x="64.20" y="246.99" width="10.75" height="1.05" fill="#f3b2b6"/><rect x="74.90" y="246.99" width="10.75" height="1.05" fill="#c7cbe9"/><rect x="85.60" y="246.99" width="10.75" height="1.05" fill="#eff0f8"/><rect x="96.30" y="246.99" width="10.75" height="1.05" fill="#5866b7"/><rect x="107.00" y="246.99" width="10.75" height="1.05" fill="#aab1de"/><rect x="117.70" y="246.99" width="10.75" height="1.05" fill="#eff0f8"/><rect x="128.40" y="246.99" width="10.75" height="1.05" fill="#c3c8e8"/><rect x="139.10" y="246.99" width="10.75" height="1.05" fill="#f3b7bb"/><rect x="42.80" y="247.99" width="10.75" height="1.05" fill="#ee7278"/><rect x="53.50" y="247.99" width="10.75" height="1.05" fill="#f3b0b5"/><rect x="64.20" y="247.99" width="10.75" height="1.05" fill="#f4c4c9"/><rect x="74.90" y="247.99" width="10.75" height="1.05" fill="#e0e2f3"/><rect x="85.60" y="247.99" width="10.75" height="1.05" fill="#eaebf6"/><rect x="96.30" y="247.99" width="10.75" height="1.05" fill="#7480c6"/><rect x="107.00" y="247.99" width="10.75" height="1.05" fill="#abb2de"/><rect x="117.70" y="247.99" width="10.75" height="1.05" fill="#d9dcf0"/><rect x="128.40" y="247.99" width="10.75" height="1.05" fill="#9aa3d7"/><rect x="139.10" y="247.99" width="10.75" height="1.05" fill="#f19a9f"/><rect x="42.80" y="248.98" width="10.75" height="1.05" fill="#ee747a"/><rect x="53.50" y="248.98" width="10.75" height="1.05" fill="#f1979c"/><rect x="64.20" y="248.98" width="10.75" height="1.05" fill="#f5d5d9"/><rect x="74.90" y="248.98" width="10.75" height="1.05" fill="#d5d8ee"/><rect x="85.60" y="248.98" width="10.75" height="1.05" fill="#f5f6fb"/><rect x="96.30" y="248.98" width="10.75" height="1.05" fill="#5a68b8"/><rect x="107.00" y="248.98" width="10.75" height="1.05" fill="#b0b7e0"/><rect x="117.70" y="248.98" width="10.75" height="1.05" fill="#e8eaf6"/><rect x="128.40" y="248.98" width="10.75" height="1.05" fill="#939cd5"/><rect x="139.10" y="248.98" width="10.75" height="1.05" fill="#f5d2d7"/><rect x="42.80" y="249.97" width="10.75" height="1.05" fill="#e8383f"/><rect x="53.50" y="249.97" width="10.75" height="1.05" fill="#f1a0a5"/><rect x="64.20" y="249.97" width="10.75" height="1.05" fill="#f5d4d9"/><rect x="74.90" y="249.97" width="10.75" height="1.05" fill="#c5cae8"/><rect x="85.60" y="249.97" width="10.75" height="1.05" fill="#e3e5f4"/><rect x="96.30" y="249.97" width="10.75" height="1.05" fill="#5e6cba"/><rect x="107.00" y="249.97" width="10.75" height="1.05" fill="#bbc0e4"/><rect x="117.70" y="249.97" width="10.75" height="1.05" fill="#d1d4ed"/><rect x="128.40" y="249.97" width="10.75" height="1.05" fill="#aeb5df"/><rect x="139.10" y="249.97" width="10.75" height="1.05" fill="#f6dce1"/><rect x="42.80" y="250.96" width="10.75" height="1.05" fill="#eb5057"/><rect x="53.50" y="250.96" width="10.75" height="1.05" fill="#f1979b"/><rect x="64.20" y="250.96" width="10.75" height="1.05" fill="#f6d7db"/><rect x="74.90" y="250.96" width="10.75" height="1.05" fill="#d8dbf0"/><rect x="85.60" y="250.96" width="10.75" height="1.05" fill="#d9dcf0"/><rect x="96.30" y="250.96" width="10.75" height="1.05" fill="#7a86c9"/><rect x="107.00" y="250.96" width="10.75" height="1.05" fill="#bcc1e5"/><rect x="117.70" y="250.96" width="10.75" height="1.05" fill="#ccd0eb"/><rect x="128.40" y="250.96" width="10.75" height="1.05" fill="#b8bee3"/><rect x="139.10" y="250.96" width="10.75" height="1.05" fill="#f8f2f6"/><rect x="42.80" y="251.96" width="10.75" height="1.05" fill="#ed686e"/><rect x="53.50" y="251.96" width="10.75" height="1.05" fill="#f2a7ac"/><rect x="64.20" y="251.96" width="10.75" height="1.05" fill="#f4bdc2"/><rect x="74.90" y="251.96" width="10.75" height="1.05" fill="#c1c7e7"/><rect x="85.60" y="251.96" width="10.75" height="1.05" fill="#f8f6fa"/><rect x="96.30" y="251.96" width="10.75" height="1.05" fill="#6b77c1"/><rect x="107.00" y="251.96" width="10.75" height="1.05" fill="#c7cce9"/><rect x="117.70" y="251.96" width="10.75" height="1.05" fill="#c3c8e7"/><rect x="128.40" y="251.96" width="10.75" height="1.05" fill="#c5c9e8"/><rect x="139.10" y="251.96" width="10.75" height="1.05" fill="#e7e9f6"/><rect x="42.80" y="252.95" width="10.75" height="1.05" fill="#ec6168"/><rect x="53.50" y="252.95" width="10.75" height="1.05" fill="#f08c91"/><rect x="64.20" y="252.95" width="10.75" height="1.05" fill="#f2a4a8"/><rect x="74.90" y="252.95" width="10.75" height="1.05" fill="#bfc4e6"/><rect x="85.60" y="252.95" width="10.75" height="1.05" fill="#f7eaee"/><rect x="96.30" y="252.95" width="10.75" height="1.05" fill="#939cd5"/><rect x="107.00" y="252.95" width="10.75" height="1.05" fill="#a5addc"/><rect x="117.70" y="252.95" width="10.75" height="1.05" fill="#e1e3f3"/><rect x="128.40" y="252.95" width="10.75" height="1.05" fill="#a5addc"/><rect x="139.10" y="252.95" width="10.75" height="1.05" fill="#f6e2e6"/><rect x="42.80" y="253.94" width="10.75" height="1.05" fill="#ef858a"/><rect x="53.50" y="253.94" width="10.75" height="1.05" fill="#f2a3a8"/><rect x="64.20" y="253.94" width="10.75" height="1.05" fill="#f2a6aa"/><rect x="74.90" y="253.94" width="10.75" height="1.05" fill="#f8f6fa"/><rect x="85.60" y="253.94" width="10.75" height="1.05" fill="#f6dee2"/><rect x="96.30" y="253.94" width="10.75" height="1.05" fill="#7984c8"/><rect x="107.00" y="253.94" width="10.75" height="1.05" fill="#a2aadb"/><rect x="117.70" y="253.94" width="10.75" height="1.05" fill="#f1f2f9"/><rect x="128.40" y="253.94" width="10.75" height="1.05" fill="#a6aedc"/><rect x="139.10" y="253.94" width="10.75" height="1.05" fill="#f3b7bb"/><rect x="42.80" y="254.93" width="10.75" height="1.05" fill="#ee747a"/><rect x="53.50" y="254.93" width="10.75" height="1.05" fill="#f2a3a7"/><rect x="64.20" y="254.93" width="10.75" height="1.05" fill="#f2a6aa"/><rect x="74.90" y="254.93" width="10.75" height="1.05" fill="#daddf0"/><rect x="85.60" y="254.93" width="10.75" height="1.05" fill="#f8f5f9"/><rect x="96.30" y="254.93" width="10.75" height="1.05" fill="#afb6e0"/><rect x="107.00" y="254.93" width="10.75" height="1.05" fill="#9aa2d7"/><rect x="117.70" y="254.93" width="10.75" height="1.05" fill="#cdd1eb"/><rect x="128.40" y="254.93" width="10.75" height="1.05" fill="#9da6d9"/><rect x="139.10" y="254.93" width="10.75" height="1.05" fill="#f4c7cb"/><rect x="42.80" y="255.93" width="10.75" height="1.05" fill="#ed6f75"/><rect x="53.50" y="255.93" width="10.75" height="1.05" fill="#f1999e"/><rect x="64.20" y="255.93" width="10.75" height="1.05" fill="#f2adb2"/><rect x="74.90" y="255.93" width="10.75" height="1.05" fill="#c9cdea"/><rect x="85.60" y="255.93" width="10.75" height="1.05" fill="#d3d7ee"/><rect x="96.30" y="255.93" width="10.75" height="1.05" fill="#9ea7d9"/><rect x="107.00" y="255.93" width="10.75" height="1.05" fill="#9da6d9"/><rect x="117.70" y="255.93" width="10.75" height="1.05" fill="#e9eaf6"/><rect x="128.40" y="255.93" width="10.75" height="1.05" fill="#8892d0"/><rect x="139.10" y="255.93" width="10.75" height="1.05" fill="#f7e7eb"/><rect x="42.80" y="256.92" width="10.75" height="1.05" fill="#ef8489"/><rect x="53.50" y="256.92" width="10.75" height="1.05" fill="#f6e1e5"/><rect x="64.20" y="256.92" width="10.75" height="1.05" fill="#f19fa4"/><rect x="74.90" y="256.92" width="10.75" height="1.05" fill="#c2c7e7"/><rect x="85.60" y="256.92" width="10.75" height="1.05" fill="#a3abdb"/><rect x="96.30" y="256.92" width="10.75" height="1.05" fill="#818ccc"/><rect x="107.00" y="256.92" width="10.75" height="1.05" fill="#8892d0"/><rect x="117.70" y="256.92" width="10.75" height="1.05" fill="#dcdff1"/><rect x="128.40" y="256.92" width="10.75" height="1.05" fill="#7b86c9"/><rect x="139.10" y="256.92" width="10.75" height="1.05" fill="#f7e5e9"/><rect x="42.80" y="257.91" width="10.75" height="1.05" fill="#ef7d83"/><rect x="53.50" y="257.91" width="10.75" height="1.05" fill="#f5d4d8"/><rect x="64.20" y="257.91" width="10.75" height="1.05" fill="#ef7f85"/><rect x="74.90" y="257.91" width="10.75" height="1.05" fill="#b3bae1"/><rect x="85.60" y="257.91" width="10.75" height="1.05" fill="#d8dbf0"/><rect x="96.30" y="257.91" width="10.75" height="1.05" fill="#7a86c9"/><rect x="107.00" y="257.91" width="10.75" height="1.05" fill="#959ed5"/><rect x="117.70" y="257.91" width="10.75" height="1.05" fill="#d6d9ef"/><rect x="128.40" y="257.91" width="10.75" height="1.05" fill="#b4bae1"/><rect x="139.10" y="257.91" width="10.75" height="1.05" fill="#f8f6fa"/><rect x="42.80" y="258.90" width="10.75" height="1.05" fill="#f09095"/><rect x="53.50" y="258.90" width="10.75" height="1.05" fill="#f3afb3"/><rect x="64.20" y="258.90" width="10.75" height="1.05" fill="#f4bdc2"/><rect x="74.90" y="258.90" width="10.75" height="1.05" fill="#e7e8f5"/><rect x="85.60" y="258.90" width="10.75" height="1.05" fill="#e9eaf6"/><rect x="96.30" y="258.90" width="10.75" height="1.05" fill="#848fce"/><rect x="107.00" y="258.90" width="10.75" height="1.05" fill="#a3abdb"/><rect x="117.70" y="258.90" width="10.75" height="1.05" fill="#cdd1eb"/><rect x="128.40" y="258.90" width="10.75" height="1.05" fill="#c7cbe9"/><rect x="139.10" y="258.90" width="10.75" height="1.05" fill="#f7e5e9"/><rect x="42.80" y="259.89" width="10.75" height="1.05" fill="#f09196"/><rect x="53.50" y="259.89" width="10.75" height="1.05" fill="#f0888d"/><rect x="64.20" y="259.89" width="10.75" height="1.05" fill="#f2aaaf"/><rect x="74.90" y="259.89" width="10.75" height="1.05" fill="#f7ecf0"/><rect x="85.60" y="259.89" width="10.75" height="1.05" fill="#ccd0eb"/><rect x="96.30" y="259.89" width="10.75" height="1.05" fill="#8e98d3"/><rect x="107.00" y="259.89" width="10.75" height="1.05" fill="#acb3df"/><rect x="117.70" y="259.89" width="10.75" height="1.05" fill="#ccd0eb"/><rect x="128.40" y="259.89" width="10.75" height="1.05" fill="#b3b9e1"/><rect x="139.10" y="259.89" width="10.75" height="1.05" fill="#f4bfc4"/><rect x="42.80" y="260.89" width="10.75" height="1.05" fill="#ee7378"/><rect x="53.50" y="260.89" width="10.75" height="1.05" fill="#ee797e"/><rect x="64.20" y="260.89" width="10.75" height="1.05" fill="#f19fa4"/><rect x="74.90" y="260.89" width="10.75" height="1.05" fill="#eeeff8"/><rect x="85.60" y="260.89" width="10.75" height="1.05" fill="#e2e4f3"/><rect x="96.30" y="260.89" width="10.75" height="1.05" fill="#7f8bcb"/><rect x="107.00" y="260.89" width="10.75" height="1.05" fill="#8f99d3"/><rect x="117.70" y="260.89" width="10.75" height="1.05" fill="#c7cce9"/><rect x="128.40" y="260.89" width="10.75" height="1.05" fill="#b5bce2"/><rect x="139.10" y="260.89" width="10.75" height="1.05" fill="#f4bfc4"/><rect x="42.80" y="261.88" width="10.75" height="1.05" fill="#ed7076"/><rect x="53.50" y="261.88" width="10.75" height="1.05" fill="#f3b5ba"/><rect x="64.20" y="261.88" width="10.75" height="1.05" fill="#f2a9ad"/><rect x="74.90" y="261.88" width="10.75" height="1.05" fill="#f5f6fb"/><rect x="85.60" y="261.88" width="10.75" height="1.05" fill="#e7e9f6"/><rect x="96.30" y="261.88" width="10.75" height="1.05" fill="#9ea6d9"/><rect x="107.00" y="261.88" width="10.75" height="1.05" fill="#b0b6e0"/><rect x="117.70" y="261.88" width="10.75" height="1.05" fill="#f7edf1"/><rect x="128.40" y="261.88" width="10.75" height="1.05" fill="#97a0d6"/><rect x="139.10" y="261.88" width="10.75" height="1.05" fill="#f4c4c9"/><rect x="42.80" y="262.87" width="10.75" height="1.05" fill="#f0898e"/><rect x="53.50" y="262.87" width="10.75" height="1.05" fill="#f19ba0"/><rect x="64.20" y="262.87" width="10.75" height="1.05" fill="#f1969b"/><rect x="74.90" y="262.87" width="10.75" height="1.05" fill="#e8e9f6"/><rect x="85.60" y="262.87" width="10.75" height="1.05" fill="#dde0f2"/><rect x="96.30" y="262.87" width="10.75" height="1.05" fill="#bdc3e5"/><rect x="107.00" y="262.87" width="10.75" height="1.05" fill="#afb6e0"/><rect x="117.70" y="262.87" width="10.75" height="1.05" fill="#c6cbe9"/><rect x="128.40" y="262.87" width="10.75" height="1.05" fill="#858fce"/><rect x="139.10" y="262.87" width="10.75" height="1.05" fill="#f5d0d4"/><rect x="42.80" y="263.86" width="10.75" height="1.05" fill="#f1a0a4"/><rect x="53.50" y="263.86" width="10.75" height="1.05" fill="#f3b4b9"/><rect x="64.20" y="263.86" width="10.75" height="1.05" fill="#f19da2"/><rect x="74.90" y="263.86" width="10.75" height="1.05" fill="#bec3e5"/><rect x="85.60" y="263.86" width="10.75" height="1.05" fill="#bdc2e5"/><rect x="96.30" y="263.86" width="10.75" height="1.05" fill="#adb4df"/><rect x="107.00" y="263.86" width="10.75" height="1.05" fill="#afb5df"/><rect x="117.70" y="263.86" width="10.75" height="1.05" fill="#b5bbe2"/><rect x="128.40" y="263.86" width="10.75" height="1.05" fill="#727ec4"/><rect x="139.10" y="263.86" width="10.75" height="1.05" fill="#f5d1d5"/><rect x="42.80" y="264.86" width="10.75" height="1.05" fill="#ef8388"/><rect x="53.50" y="264.86" width="10.75" height="1.05" fill="#f2a7ac"/><rect x="64.20" y="264.86" width="10.75" height="1.05" fill="#f19a9f"/><rect x="74.90" y="264.86" width="10.75" height="1.05" fill="#a7aedc"/><rect x="85.60" y="264.86" width="10.75" height="1.05" fill="#9ca4d8"/><rect x="96.30" y="264.86" width="10.75" height="1.05" fill="#adb4df"/><rect x="107.00" y="264.86" width="10.75" height="1.05" fill="#ccd0eb"/><rect x="117.70" y="264.86" width="10.75" height="1.05" fill="#aeb5df"/><rect x="128.40" y="264.86" width="10.75" height="1.05" fill="#8d97d2"/><rect x="139.10" y="264.86" width="10.75" height="1.05" fill="#f09297"/><rect x="42.80" y="265.85" width="10.75" height="1.05" fill="#f2a0a5"/><rect x="53.50" y="265.85" width="10.75" height="1.05" fill="#f3b2b7"/><rect x="64.20" y="265.85" width="10.75" height="1.05" fill="#f0888d"/><rect x="74.90" y="265.85" width="10.75" height="1.05" fill="#d1d5ed"/><rect x="85.60" y="265.85" width="10.75" height="1.05" fill="#9aa3d8"/><rect x="96.30" y="265.85" width="10.75" height="1.05" fill="#a9b0dd"/><rect x="107.00" y="265.85" width="10.75" height="1.05" fill="#eaebf7"/><rect x="117.70" y="265.85" width="10.75" height="1.05" fill="#c2c7e7"/><rect x="128.40" y="265.85" width="10.75" height="1.05" fill="#a8b0dd"/><rect x="139.10" y="265.85" width="10.75" height="1.05" fill="#f2a5a9"/><rect x="42.80" y="266.84" width="10.75" height="1.05" fill="#ee787e"/><rect x="53.50" y="266.84" width="10.75" height="1.05" fill="#f3b1b6"/><rect x="64.20" y="266.84" width="10.75" height="1.05" fill="#f08b90"/><rect x="74.90" y="266.84" width="10.75" height="1.05" fill="#b1b8e1"/><rect x="85.60" y="266.84" width="10.75" height="1.05" fill="#bcc2e5"/><rect x="96.30" y="266.84" width="10.75" height="1.05" fill="#808bcc"/><rect x="107.00" y="266.84" width="10.75" height="1.05" fill="#e0e2f3"/><rect x="117.70" y="266.84" width="10.75" height="1.05" fill="#c6cbe9"/><rect x="128.40" y="266.84" width="10.75" height="1.05" fill="#98a1d7"/><rect x="139.10" y="266.84" width="10.75" height="1.05" fill="#f2acb1"/><rect x="42.80" y="267.83" width="10.75" height="1.05" fill="#e8343b"/><rect x="53.50" y="267.83" width="10.75" height="1.05" fill="#f4bdc2"/><rect x="64.20" y="267.83" width="10.75" height="1.05" fill="#ef858b"/><rect x="74.90" y="267.83" width="10.75" height="1.05" fill="#b0b6e0"/><rect x="85.60" y="267.83" width="10.75" height="1.05" fill="#9aa3d7"/><rect x="96.30" y="267.83" width="10.75" height="1.05" fill="#808bcc"/><rect x="107.00" y="267.83" width="10.75" height="1.05" fill="#e8eaf6"/><rect x="117.70" y="267.83" width="10.75" height="1.05" fill="#dee0f2"/><rect x="128.40" y="267.83" width="10.75" height="1.05" fill="#949ed5"/><rect x="139.10" y="267.83" width="10.75" height="1.05" fill="#f3babe"/><rect x="42.80" y="268.83" width="10.75" height="1.05" fill="#ea4b52"/><rect x="53.50" y="268.83" width="10.75" height="1.05" fill="#f2a5a9"/><rect x="64.20" y="268.83" width="10.75" height="1.05" fill="#f2a4a8"/><rect x="74.90" y="268.83" width="10.75" height="1.05" fill="#b1b7e0"/><rect x="85.60" y="268.83" width="10.75" height="1.05" fill="#b6bce2"/><rect x="96.30" y="268.83" width="10.75" height="1.05" fill="#99a2d7"/><rect x="107.00" y="268.83" width="10.75" height="1.05" fill="#e1e3f3"/><rect x="117.70" y="268.83" width="10.75" height="1.05" fill="#e1e4f3"/><rect x="128.40" y="268.83" width="10.75" height="1.05" fill="#9da5d9"/><rect x="139.10" y="268.83" width="10.75" height="1.05" fill="#f2a7ac"/><rect x="42.80" y="269.82" width="10.75" height="1.05" fill="#eb565d"/><rect x="53.50" y="269.82" width="10.75" height="1.05" fill="#f2a9ad"/><rect x="64.20" y="269.82" width="10.75" height="1.05" fill="#f3b2b7"/><rect x="74.90" y="269.82" width="10.75" height="1.05" fill="#bbc1e4"/><rect x="85.60" y="269.82" width="10.75" height="1.05" fill="#c6cbe9"/><rect x="96.30" y="269.82" width="10.75" height="1.05" fill="#7d88ca"/><rect x="107.00" y="269.82" width="10.75" height="1.05" fill="#c5c9e8"/><rect x="117.70" y="269.82" width="10.75" height="1.05" fill="#ced2ec"/><rect x="128.40" y="269.82" width="10.75" height="1.05" fill="#a9b1dd"/><rect x="139.10" y="269.82" width="10.75" height="1.05" fill="#f4bec2"/><rect x="42.80" y="270.81" width="10.75" height="1.05" fill="#ec6268"/><rect x="53.50" y="270.81" width="10.75" height="1.05" fill="#f3aeb3"/><rect x="64.20" y="270.81" width="10.75" height="1.05" fill="#ee767c"/><rect x="74.90" y="270.81" width="10.75" height="1.05" fill="#c2c7e7"/><rect x="85.60" y="270.81" width="10.75" height="1.05" fill="#bec3e5"/><rect x="96.30" y="270.81" width="10.75" height="1.05" fill="#7a86c9"/><rect x="107.00" y="270.81" width="10.75" height="1.05" fill="#d0d4ed"/><rect x="117.70" y="270.81" width="10.75" height="1.05" fill="#c4c9e8"/><rect x="128.40" y="270.81" width="10.75" height="1.05" fill="#aab1dd"/><rect x="139.10" y="270.81" width="10.75" height="1.05" fill="#f4c7cb"/><rect x="42.80" y="271.80" width="10.75" height="1.05" fill="#ee787e"/><rect x="53.50" y="271.80" width="10.75" height="1.05" fill="#f4c4c8"/><rect x="64.20" y="271.80" width="10.75" height="1.05" fill="#ef7c81"/><rect x="74.90" y="271.80" width="10.75" height="1.05" fill="#caceea"/><rect x="85.60" y="271.80" width="10.75" height="1.05" fill="#b8bee3"/><rect x="96.30" y="271.80" width="10.75" height="1.05" fill="#8993d0"/><rect x="107.00" y="271.80" width="10.75" height="1.05" fill="#caceea"/><rect x="117.70" y="271.80" width="10.75" height="1.05" fill="#cacfea"/><rect x="128.40" y="271.80" width="10.75" height="1.05" fill="#c0c6e6"/><rect x="139.10" y="271.80" width="10.75" height="1.05" fill="#f7f0f4"/><rect x="42.80" y="272.80" width="10.75" height="1.05" fill="#ed686e"/><rect x="53.50" y="272.80" width="10.75" height="1.05" fill="#f6dbdf"/><rect x="64.20" y="272.80" width="10.75" height="1.05" fill="#ee777c"/><rect x="74.90" y="272.80" width="10.75" height="1.05" fill="#9ca5d8"/><rect x="85.60" y="272.80" width="10.75" height="1.05" fill="#c3c7e7"/><rect x="96.30" y="272.80" width="10.75" height="1.05" fill="#8a94d1"/><rect x="107.00" y="272.80" width="10.75" height="1.05" fill="#b2b8e1"/><rect x="117.70" y="272.80" width="10.75" height="1.05" fill="#dee0f2"/><rect x="128.40" y="272.80" width="10.75" height="1.05" fill="#b2b8e1"/><rect x="139.10" y="272.80" width="10.75" height="1.05" fill="#f6dee2"/><rect x="42.80" y="273.79" width="10.75" height="1.05" fill="#ef8085"/><rect x="53.50" y="273.79" width="10.75" height="1.05" fill="#f2a7ac"/><rect x="64.20" y="273.79" width="10.75" height="1.05" fill="#f0878c"/><rect x="74.90" y="273.79" width="10.75" height="1.05" fill="#bac0e4"/><rect x="85.60" y="273.79" width="10.75" height="1.05" fill="#e1e3f3"/><rect x="96.30" y="273.79" width="10.75" height="1.05" fill="#828dcd"/><rect x="107.00" y="273.79" width="10.75" height="1.05" fill="#b1b8e0"/><rect x="117.70" y="273.79" width="10.75" height="1.05" fill="#cacfea"/><rect x="128.40" y="273.79" width="10.75" height="1.05" fill="#bec3e5"/><rect x="139.10" y="273.79" width="10.75" height="1.05" fill="#f4c4c8"/><rect x="42.80" y="274.78" width="10.75" height="1.05" fill="#f19da2"/><rect x="53.50" y="274.78" width="10.75" height="1.05" fill="#f3b3b7"/><rect x="64.20" y="274.78" width="10.75" height="1.05" fill="#ef7d82"/><rect x="74.90" y="274.78" width="10.75" height="1.05" fill="#cfd3ec"/><rect x="85.60" y="274.78" width="10.75" height="1.05" fill="#dee0f2"/><rect x="96.30" y="274.78" width="10.75" height="1.05" fill="#a4abdb"/><rect x="107.00" y="274.78" width="10.75" height="1.05" fill="#8590ce"/><rect x="117.70" y="274.78" width="10.75" height="1.05" fill="#bfc4e6"/><rect x="128.40" y="274.78" width="10.75" height="1.05" fill="#cdd1eb"/><rect x="139.10" y="274.78" width="10.75" height="1.05" fill="#f7e9ed"/><rect x="42.80" y="275.77" width="10.75" height="1.05" fill="#f19da2"/><rect x="53.50" y="275.77" width="10.75" height="1.05" fill="#f2adb1"/><rect x="64.20" y="275.77" width="10.75" height="1.05" fill="#ef8085"/><rect x="74.90" y="275.77" width="10.75" height="1.05" fill="#d9dcf0"/><rect x="85.60" y="275.77" width="10.75" height="1.05" fill="#e7e8f5"/><rect x="96.30" y="275.77" width="10.75" height="1.05" fill="#9da5d8"/><rect x="107.00" y="275.77" width="10.75" height="1.05" fill="#afb5df"/><rect x="117.70" y="275.77" width="10.75" height="1.05" fill="#c9ceea"/><rect x="128.40" y="275.77" width="10.75" height="1.05" fill="#b4bae2"/><rect x="139.10" y="275.77" width="10.75" height="1.05" fill="#f4c5ca"/><rect x="42.80" y="276.76" width="10.75" height="1.05" fill="#f19fa3"/><rect x="53.50" y="276.76" width="10.75" height="1.05" fill="#f5d5d9"/><rect x="64.20" y="276.76" width="10.75" height="1.05" fill="#f2a5aa"/><rect x="74.90" y="276.76" width="10.75" height="1.05" fill="#b0b7e0"/><rect x="85.60" y="276.76" width="10.75" height="1.05" fill="#e8eaf6"/><rect x="96.30" y="276.76" width="10.75" height="1.05" fill="#9099d3"/><rect x="107.00" y="276.76" width="10.75" height="1.05" fill="#b6bce2"/><rect x="117.70" y="276.76" width="10.75" height="1.05" fill="#b1b7e0"/><rect x="128.40" y="276.76" width="10.75" height="1.05" fill="#d2d6ed"/><rect x="139.10" y="276.76" width="10.75" height="1.05" fill="#f3b6bb"/><rect x="42.80" y="277.76" width="10.75" height="1.05" fill="#f3b0b5"/><rect x="53.50" y="277.76" width="10.75" height="1.05" fill="#f5ced2"/><rect x="64.20" y="277.76" width="10.75" height="1.05" fill="#f2a9ae"/><rect x="74.90" y="277.76" width="10.75" height="1.05" fill="#cbcfea"/><rect x="85.60" y="277.76" width="10.75" height="1.05" fill="#dde0f2"/><rect x="96.30" y="277.76" width="10.75" height="1.05" fill="#848fce"/><rect x="107.00" y="277.76" width="10.75" height="1.05" fill="#bbc1e4"/><rect x="117.70" y="277.76" width="10.75" height="1.05" fill="#e3e5f4"/><rect x="128.40" y="277.76" width="10.75" height="1.05" fill="#d9dcf0"/><rect x="139.10" y="277.76" width="10.75" height="1.05" fill="#f5d4d8"/><rect x="42.80" y="278.75" width="10.75" height="1.05" fill="#ef7d83"/><rect x="53.50" y="278.75" width="10.75" height="1.05" fill="#f4c4c8"/><rect x="64.20" y="278.75" width="10.75" height="1.05" fill="#f19499"/><rect x="74.90" y="278.75" width="10.75" height="1.05" fill="#caceea"/><rect x="85.60" y="278.75" width="10.75" height="1.05" fill="#cbcfea"/><rect x="96.30" y="278.75" width="10.75" height="1.05" fill="#8590ce"/><rect x="107.00" y="278.75" width="10.75" height="1.05" fill="#b9bee3"/><rect x="117.70" y="278.75" width="10.75" height="1.05" fill="#dde0f2"/><rect x="128.40" y="278.75" width="10.75" height="1.05" fill="#aab1de"/><rect x="139.10" y="278.75" width="10.75" height="1.05" fill="#f7e7eb"/><rect x="42.80" y="279.74" width="10.75" height="1.05" fill="#ef868b"/><rect x="53.50" y="279.74" width="10.75" height="1.05" fill="#f2a9ae"/><rect x="64.20" y="279.74" width="10.75" height="1.05" fill="#f2a9ae"/><rect x="74.90" y="279.74" width="10.75" height="1.05" fill="#d6d9ef"/><rect x="85.60" y="279.74" width="10.75" height="1.05" fill="#9da5d9"/><rect x="96.30" y="279.74" width="10.75" height="1.05" fill="#9ea6d9"/><rect x="107.00" y="279.74" width="10.75" height="1.05" fill="#a6addc"/><rect x="117.70" y="279.74" width="10.75" height="1.05" fill="#cbcfea"/><rect x="128.40" y="279.74" width="10.75" height="1.05" fill="#d7daef"/><rect x="139.10" y="279.74" width="10.75" height="1.05" fill="#f4bec3"/><rect x="42.80" y="280.73" width="10.75" height="1.05" fill="#ee7a7f"/><rect x="53.50" y="280.73" width="10.75" height="1.05" fill="#f2abb0"/><rect x="64.20" y="280.73" width="10.75" height="1.05" fill="#f1979c"/><rect x="74.90" y="280.73" width="10.75" height="1.05" fill="#d5d8ee"/><rect x="85.60" y="280.73" width="10.75" height="1.05" fill="#9ea6d9"/><rect x="96.30" y="280.73" width="10.75" height="1.05" fill="#9aa2d7"/><rect x="107.00" y="280.73" width="10.75" height="1.05" fill="#b4bae1"/><rect x="117.70" y="280.73" width="10.75" height="1.05" fill="#d4d7ee"/><rect x="128.40" y="280.73" width="10.75" height="1.05" fill="#a6aedc"/><rect x="139.10" y="280.73" width="10.75" height="1.05" fill="#f4c0c4"/><rect x="42.80" y="281.73" width="10.75" height="1.05" fill="#f19499"/><rect x="53.50" y="281.73" width="10.75" height="1.05" fill="#f3b8bd"/><rect x="64.20" y="281.73" width="10.75" height="1.05" fill="#f09196"/><rect x="74.90" y="281.73" width="10.75" height="1.05" fill="#e0e2f3"/><rect x="85.60" y="281.73" width="10.75" height="1.05" fill="#a9b0dd"/><rect x="96.30" y="281.73" width="10.75" height="1.05" fill="#9ba3d8"/><rect x="107.00" y="281.73" width="10.75" height="1.05" fill="#b8bee3"/><rect x="117.70" y="281.73" width="10.75" height="1.05" fill="#bcc2e5"/><rect x="128.40" y="281.73" width="10.75" height="1.05" fill="#b8bee3"/><rect x="139.10" y="281.73" width="10.75" height="1.05" fill="#f6d7db"/><rect x="42.80" y="282.72" width="10.75" height="1.05" fill="#ef8388"/><rect x="53.50" y="282.72" width="10.75" height="1.05" fill="#f2abb0"/><rect x="64.20" y="282.72" width="10.75" height="1.05" fill="#f08a8f"/><rect x="74.90" y="282.72" width="10.75" height="1.05" fill="#9da5d9"/><rect x="85.60" y="282.72" width="10.75" height="1.05" fill="#d4d7ee"/><rect x="96.30" y="282.72" width="10.75" height="1.05" fill="#8a95d1"/><rect x="107.00" y="282.72" width="10.75" height="1.05" fill="#bec3e5"/><rect x="117.70" y="282.72" width="10.75" height="1.05" fill="#e2e4f3"/><rect x="128.40" y="282.72" width="10.75" height="1.05" fill="#929bd4"/><rect x="139.10" y="282.72" width="10.75" height="1.05" fill="#f6d8dd"/><rect x="42.80" y="283.71" width="10.75" height="1.05" fill="#ee7177"/><rect x="53.50" y="283.71" width="10.75" height="1.05" fill="#f5cbcf"/><rect x="64.20" y="283.71" width="10.75" height="1.05" fill="#f19a9f"/><rect x="74.90" y="283.71" width="10.75" height="1.05" fill="#bfc4e6"/><rect x="85.60" y="283.71" width="10.75" height="1.05" fill="#d0d4ec"/><rect x="96.30" y="283.71" width="10.75" height="1.05" fill="#8b95d1"/><rect x="107.00" y="283.71" width="10.75" height="1.05" fill="#c7cbe9"/><rect x="117.70" y="283.71" width="10.75" height="1.05" fill="#e6e8f5"/><rect x="128.40" y="283.71" width="10.75" height="1.05" fill="#a2aada"/><rect x="139.10" y="283.71" width="10.75" height="1.05" fill="#dbddf1"/><rect x="42.80" y="284.70" width="10.75" height="1.05" fill="#ee757b"/><rect x="53.50" y="284.70" width="10.75" height="1.05" fill="#f6dce0"/><rect x="64.20" y="284.70" width="10.75" height="1.05" fill="#f08e93"/><rect x="74.90" y="284.70" width="10.75" height="1.05" fill="#d1d5ed"/><rect x="85.60" y="284.70" width="10.75" height="1.05" fill="#dfe1f2"/><rect x="96.30" y="284.70" width="10.75" height="1.05" fill="#8691cf"/><rect x="107.00" y="284.70" width="10.75" height="1.05" fill="#c6cae8"/><rect x="117.70" y="284.70" width="10.75" height="1.05" fill="#cfd2ec"/><rect x="128.40" y="284.70" width="10.75" height="1.05" fill="#99a2d7"/><rect x="139.10" y="284.70" width="10.75" height="1.05" fill="#c7cce9"/><rect x="42.80" y="285.70" width="10.75" height="1.05" fill="#ef8287"/><rect x="53.50" y="285.70" width="10.75" height="1.05" fill="#f6dadf"/><rect x="64.20" y="285.70" width="10.75" height="1.05" fill="#ee767b"/><rect x="74.90" y="285.70" width="10.75" height="1.05" fill="#e7e8f5"/><rect x="85.60" y="285.70" width="10.75" height="1.05" fill="#d4d8ee"/><rect x="96.30" y="285.70" width="10.75" height="1.05" fill="#8b96d2"/><rect x="107.00" y="285.70" width="10.75" height="1.05" fill="#c0c5e6"/><rect x="117.70" y="285.70" width="10.75" height="1.05" fill="#dee1f2"/><rect x="128.40" y="285.70" width="10.75" height="1.05" fill="#949dd5"/><rect x="139.10" y="285.70" width="10.75" height="1.05" fill="#f8f8fc"/><rect x="42.80" y="286.69" width="10.75" height="1.05" fill="#f1979c"/><rect x="53.50" y="286.69" width="10.75" height="1.05" fill="#e7e9f6"/><rect x="64.20" y="286.69" width="10.75" height="1.05" fill="#eb565d"/><rect x="74.90" y="286.69" width="10.75" height="1.05" fill="#dcdff1"/><rect x="85.60" y="286.69" width="10.75" height="1.05" fill="#f6dce1"/><rect x="96.30" y="286.69" width="10.75" height="1.05" fill="#7b86c9"/><rect x="107.00" y="286.69" width="10.75" height="1.05" fill="#d6d9ef"/><rect x="117.70" y="286.69" width="10.75" height="1.05" fill="#d1d5ed"/><rect x="128.40" y="286.69" width="10.75" height="1.05" fill="#9da5d9"/><rect x="139.10" y="286.69" width="10.75" height="1.05" fill="#f7edf2"/><rect x="42.80" y="287.68" width="10.75" height="1.05" fill="#f0898e"/><rect x="53.50" y="287.68" width="10.75" height="1.05" fill="#f6e0e4"/><rect x="64.20" y="287.68" width="10.75" height="1.05" fill="#ef7c82"/><rect x="74.90" y="287.68" width="10.75" height="1.05" fill="#c5cae8"/><rect x="85.60" y="287.68" width="10.75" height="1.05" fill="#c5cae8"/><rect x="96.30" y="287.68" width="10.75" height="1.05" fill="#8f99d3"/><rect x="107.00" y="287.68" width="10.75" height="1.05" fill="#b6bce2"/><rect x="117.70" y="287.68" width="10.75" height="1.05" fill="#f8f1f6"/><rect x="128.40" y="287.68" width="10.75" height="1.05" fill="#8791cf"/><rect x="139.10" y="287.68" width="10.75" height="1.05" fill="#e8eaf6"/><rect x="42.80" y="288.67" width="10.75" height="1.05" fill="#f1989d"/><rect x="53.50" y="288.67" width="10.75" height="1.05" fill="#f8f2f6"/><rect x="64.20" y="288.67" width="10.75" height="1.05" fill="#ee7479"/><rect x="74.90" y="288.67" width="10.75" height="1.05" fill="#b9bfe4"/><rect x="85.60" y="288.67" width="10.75" height="1.05" fill="#b5bbe2"/><rect x="96.30" y="288.67" width="10.75" height="1.05" fill="#a8b0dd"/><rect x="107.00" y="288.67" width="10.75" height="1.05" fill="#8b95d1"/><rect x="117.70" y="288.67" width="10.75" height="1.05" fill="#e2e4f3"/><rect x="128.40" y="288.67" width="10.75" height="1.05" fill="#7985c8"/><rect x="139.10" y="288.67" width="10.75" height="1.05" fill="#d5d8ee"/><rect x="42.80" y="289.67" width="10.75" height="1.05" fill="#ec5b61"/><rect x="53.50" y="289.67" width="10.75" height="1.05" fill="#f7edf1"/><rect x="64.20" y="289.67" width="10.75" height="1.05" fill="#ec6369"/><rect x="74.90" y="289.67" width="10.75" height="1.05" fill="#e6e7f5"/><rect x="85.60" y="289.67" width="10.75" height="1.05" fill="#c2c7e7"/><rect x="96.30" y="289.67" width="10.75" height="1.05" fill="#b2b9e1"/><rect x="107.00" y="289.67" width="10.75" height="1.05" fill="#b3b9e1"/><rect x="117.70" y="289.67" width="10.75" height="1.05" fill="#f3f4fa"/><rect x="128.40" y="289.67" width="10.75" height="1.05" fill="#828dcd"/><rect x="139.10" y="289.67" width="10.75" height="1.05" fill="#d9dcf0"/><rect x="42.80" y="290.66" width="10.75" height="1.05" fill="#ee777c"/><rect x="53.50" y="290.66" width="10.75" height="1.05" fill="#f4c6ca"/><rect x="64.20" y="290.66" width="10.75" height="1.05" fill="#eb5960"/><rect x="74.90" y="290.66" width="10.75" height="1.05" fill="#f4f4fa"/><rect x="85.60" y="290.66" width="10.75" height="1.05" fill="#d8dbf0"/><rect x="96.30" y="290.66" width="10.75" height="1.05" fill="#838ecd"/><rect x="107.00" y="290.66" width="10.75" height="1.05" fill="#c7cce9"/><rect x="117.70" y="290.66" width="10.75" height="1.05" fill="#dfe1f2"/><rect x="128.40" y="290.66" width="10.75" height="1.05" fill="#9ea6d9"/><rect x="139.10" y="290.66" width="10.75" height="1.05" fill="#ebecf7"/><rect x="42.80" y="291.65" width="10.75" height="1.05" fill="#ef7d82"/><rect x="53.50" y="291.65" width="10.75" height="1.05" fill="#f6e1e5"/><rect x="64.20" y="291.65" width="10.75" height="1.05" fill="#ee787e"/><rect x="74.90" y="291.65" width="10.75" height="1.05" fill="#f5d1d5"/><rect x="85.60" y="291.65" width="10.75" height="1.05" fill="#f0f0f9"/><rect x="96.30" y="291.65" width="10.75" height="1.05" fill="#a4acdc"/><rect x="107.00" y="291.65" width="10.75" height="1.05" fill="#e8eaf6"/><rect x="117.70" y="291.65" width="10.75" height="1.05" fill="#dcdef1"/><rect x="128.40" y="291.65" width="10.75" height="1.05" fill="#99a1d7"/><rect x="139.10" y="291.65" width="10.75" height="1.05" fill="#dcdef1"/><rect x="42.80" y="292.64" width="10.75" height="1.05" fill="#f2acb1"/><rect x="53.50" y="292.64" width="10.75" height="1.05" fill="#f6d9dd"/><rect x="64.20" y="292.64" width="10.75" height="1.05" fill="#ed7075"/><rect x="74.90" y="292.64" width="10.75" height="1.05" fill="#f7eaee"/><rect x="85.60" y="292.64" width="10.75" height="1.05" fill="#f3f3fa"/><rect x="96.30" y="292.64" width="10.75" height="1.05" fill="#aab1de"/><rect x="107.00" y="292.64" width="10.75" height="1.05" fill="#f8f5f9"/><rect x="117.70" y="292.64" width="10.75" height="1.05" fill="#d4d7ee"/><rect x="128.40" y="292.64" width="10.75" height="1.05" fill="#97a0d6"/><rect x="139.10" y="292.64" width="10.75" height="1.05" fill="#f8f7fb"/><rect x="42.80" y="293.63" width="10.75" height="1.05" fill="#f4bec3"/><rect x="53.50" y="293.63" width="10.75" height="1.05" fill="#f7e6ea"/><rect x="64.20" y="293.63" width="10.75" height="1.05" fill="#f08e93"/><rect x="74.90" y="293.63" width="10.75" height="1.05" fill="#eaebf7"/><rect x="85.60" y="293.63" width="10.75" height="1.05" fill="#f6f6fb"/><rect x="96.30" y="293.63" width="10.75" height="1.05" fill="#b1b8e1"/><rect x="107.00" y="293.63" width="10.75" height="1.05" fill="#f6f6fb"/><rect x="117.70" y="293.63" width="10.75" height="1.05" fill="#ccd0eb"/><rect x="128.40" y="293.63" width="10.75" height="1.05" fill="#a4acdb"/><rect x="139.10" y="293.63" width="10.75" height="1.05" fill="#dddff1"/><rect x="42.80" y="294.63" width="10.75" height="1.05" fill="#f4c0c5"/><rect x="53.50" y="294.63" width="10.75" height="1.05" fill="#f7edf1"/><rect x="64.20" y="294.63" width="10.75" height="1.05" fill="#f19ba0"/><rect x="74.90" y="294.63" width="10.75" height="1.05" fill="#e0e2f3"/><rect x="85.60" y="294.63" width="10.75" height="1.05" fill="#d5d8ee"/><rect x="96.30" y="294.63" width="10.75" height="1.05" fill="#a0a8da"/><rect x="107.00" y="294.63" width="10.75" height="1.05" fill="#eaebf7"/><rect x="117.70" y="294.63" width="10.75" height="1.05" fill="#cdd1eb"/><rect x="128.40" y="294.63" width="10.75" height="1.05" fill="#a6aedc"/><rect x="139.10" y="294.63" width="10.75" height="1.05" fill="#caceea"/><rect x="42.80" y="295.62" width="10.75" height="1.05" fill="#f08d92"/><rect x="53.50" y="295.62" width="10.75" height="1.05" fill="#f5d1d5"/><rect x="64.20" y="295.62" width="10.75" height="1.05" fill="#f08e93"/><rect x="74.90" y="295.62" width="10.75" height="1.05" fill="#c5cae8"/><rect x="85.60" y="295.62" width="10.75" height="1.05" fill="#f2f3fa"/><rect x="96.30" y="295.62" width="10.75" height="1.05" fill="#c3c8e7"/><rect x="107.00" y="295.62" width="10.75" height="1.05" fill="#d6d9ef"/><rect x="117.70" y="295.62" width="10.75" height="1.05" fill="#c4c9e8"/><rect x="128.40" y="295.62" width="10.75" height="1.05" fill="#959fd6"/><rect x="139.10" y="295.62" width="10.75" height="1.05" fill="#f7e9ed"/><rect x="42.80" y="296.61" width="10.75" height="1.05" fill="#f08f94"/><rect x="53.50" y="296.61" width="10.75" height="1.05" fill="#f5d2d7"/><rect x="64.20" y="296.61" width="10.75" height="1.05" fill="#f2abaf"/><rect x="74.90" y="296.61" width="10.75" height="1.05" fill="#e8eaf6"/><rect x="85.60" y="296.61" width="10.75" height="1.05" fill="#dcdff1"/><rect x="96.30" y="296.61" width="10.75" height="1.05" fill="#dfe2f2"/><rect x="107.00" y="296.61" width="10.75" height="1.05" fill="#e4e6f4"/><rect x="117.70" y="296.61" width="10.75" height="1.05" fill="#e2e4f4"/><rect x="128.40" y="296.61" width="10.75" height="1.05" fill="#9ca5d8"/><rect x="139.10" y="296.61" width="10.75" height="1.05" fill="#f6dee2"/><rect x="42.80" y="297.60" width="10.75" height="1.05" fill="#f4c0c5"/><rect x="53.50" y="297.60" width="10.75" height="1.05" fill="#f4c0c4"/><rect x="64.20" y="297.60" width="10.75" height="1.05" fill="#f0878c"/><rect x="74.90" y="297.60" width="10.75" height="1.05" fill="#f6f6fb"/><rect x="85.60" y="297.60" width="10.75" height="1.05" fill="#f8f3f7"/><rect x="96.30" y="297.60" width="10.75" height="1.05" fill="#e0e2f3"/><rect x="107.00" y="297.60" width="10.75" height="1.05" fill="#f0f1f9"/><rect x="117.70" y="297.60" width="10.75" height="1.05" fill="#c5c9e8"/><rect x="128.40" y="297.60" width="10.75" height="1.05" fill="#c4c9e8"/><rect x="139.10" y="297.60" width="10.75" height="1.05" fill="#f8f7fb"/><rect x="42.80" y="298.60" width="10.75" height="1.05" fill="#f1a0a4"/><rect x="53.50" y="298.60" width="10.75" height="1.05" fill="#f5cacf"/><rect x="64.20" y="298.60" width="10.75" height="1.05" fill="#ee787e"/><rect x="74.90" y="298.60" width="10.75" height="1.05" fill="#e2e4f3"/><rect x="85.60" y="298.60" width="10.75" height="1.05" fill="#e7e8f5"/><rect x="96.30" y="298.60" width="10.75" height="1.05" fill="#dfe1f2"/><rect x="107.00" y="298.60" width="10.75" height="1.05" fill="#d0d4ed"/><rect x="117.70" y="298.60" width="10.75" height="1.05" fill="#d5d8ee"/><rect x="128.40" y="298.60" width="10.75" height="1.05" fill="#b4bae2"/><rect x="139.10" y="298.60" width="10.75" height="1.05" fill="#f7f1f5"/><rect x="42.80" y="299.59" width="10.75" height="1.05" fill="#f4c3c7"/><rect x="53.50" y="299.59" width="10.75" height="1.05" fill="#f4c1c5"/><rect x="64.20" y="299.59" width="10.75" height="1.05" fill="#ed686e"/><rect x="74.90" y="299.59" width="10.75" height="1.05" fill="#f7edf1"/><rect x="85.60" y="299.59" width="10.75" height="1.05" fill="#ced2ec"/><rect x="96.30" y="299.59" width="10.75" height="1.05" fill="#dee0f2"/><rect x="107.00" y="299.59" width="10.75" height="1.05" fill="#e2e4f3"/><rect x="117.70" y="299.59" width="10.75" height="1.05" fill="#e2e4f3"/><rect x="128.40" y="299.59" width="10.75" height="1.05" fill="#8b95d1"/><rect x="139.10" y="299.59" width="10.75" height="1.05" fill="#f7e6ea"/><rect x="42.80" y="300.58" width="10.75" height="1.05" fill="#f3b8bc"/><rect x="53.50" y="300.58" width="10.75" height="1.05" fill="#f19498"/><rect x="64.20" y="300.58" width="10.75" height="1.05" fill="#ec5f65"/><rect x="74.90" y="300.58" width="10.75" height="1.05" fill="#c4c9e8"/><rect x="85.60" y="300.58" width="10.75" height="1.05" fill="#ecedf7"/><rect x="96.30" y="300.58" width="10.75" height="1.05" fill="#9da5d9"/><rect x="107.00" y="300.58" width="10.75" height="1.05" fill="#d7daef"/><rect x="117.70" y="300.58" width="10.75" height="1.05" fill="#cfd3ec"/><rect x="128.40" y="300.58" width="10.75" height="1.05" fill="#949dd5"/><rect x="139.10" y="300.58" width="10.75" height="1.05" fill="#e6e7f5"/><rect x="42.80" y="301.57" width="10.75" height="1.05" fill="#f5d2d6"/><rect x="53.50" y="301.57" width="10.75" height="1.05" fill="#f08f94"/><rect x="64.20" y="301.57" width="10.75" height="1.05" fill="#e94048"/><rect x="74.90" y="301.57" width="10.75" height="1.05" fill="#bec4e6"/><rect x="85.60" y="301.57" width="10.75" height="1.05" fill="#e9ebf6"/><rect x="96.30" y="301.57" width="10.75" height="1.05" fill="#9fa8da"/><rect x="107.00" y="301.57" width="10.75" height="1.05" fill="#caceea"/><rect x="117.70" y="301.57" width="10.75" height="1.05" fill="#d3d6ed"/><rect x="128.40" y="301.57" width="10.75" height="1.05" fill="#abb2de"/><rect x="139.10" y="301.57" width="10.75" height="1.05" fill="#e5e6f4"/><rect x="42.80" y="302.57" width="10.75" height="1.05" fill="#e6e7f5"/><rect x="53.50" y="302.57" width="10.75" height="1.05" fill="#f3bbc0"/><rect x="64.20" y="302.57" width="10.75" height="1.05" fill="#ea4d53"/><rect x="74.90" y="302.57" width="10.75" height="1.05" fill="#aeb5df"/><rect x="85.60" y="302.57" width="10.75" height="1.05" fill="#dee0f2"/><rect x="96.30" y="302.57" width="10.75" height="1.05" fill="#838ece"/><rect x="107.00" y="302.57" width="10.75" height="1.05" fill="#dbdef1"/><rect x="117.70" y="302.57" width="10.75" height="1.05" fill="#e7e8f5"/><rect x="128.40" y="302.57" width="10.75" height="1.05" fill="#a6addc"/><rect x="139.10" y="302.57" width="10.75" height="1.05" fill="#e9eaf6"/><rect x="42.80" y="303.56" width="10.75" height="1.05" fill="#f7e9ed"/><rect x="53.50" y="303.56" width="10.75" height="1.05" fill="#f09196"/><rect x="64.20" y="303.56" width="10.75" height="1.05" fill="#ea4c53"/><rect x="74.90" y="303.56" width="10.75" height="1.05" fill="#c1c6e7"/><rect x="85.60" y="303.56" width="10.75" height="1.05" fill="#cfd3ec"/><rect x="96.30" y="303.56" width="10.75" height="1.05" fill="#bcc2e5"/><rect x="107.00" y="303.56" width="10.75" height="1.05" fill="#f8f6fa"/><rect x="117.70" y="303.56" width="10.75" height="1.05" fill="#b2b8e1"/><rect x="128.40" y="303.56" width="10.75" height="1.05" fill="#a6aedc"/><rect x="139.10" y="303.56" width="10.75" height="1.05" fill="#f7eef2"/><rect x="42.80" y="304.55" width="10.75" height="1.05" fill="#f7eef2"/><rect x="53.50" y="304.55" width="10.75" height="1.05" fill="#f4c2c7"/><rect x="64.20" y="304.55" width="10.75" height="1.05" fill="#ee757b"/><rect x="74.90" y="304.55" width="10.75" height="1.05" fill="#c7cbe9"/><rect x="85.60" y="304.55" width="10.75" height="1.05" fill="#d3d6ee"/><rect x="96.30" y="304.55" width="10.75" height="1.05" fill="#afb6e0"/><rect x="107.00" y="304.55" width="10.75" height="1.05" fill="#dcdff1"/><rect x="117.70" y="304.55" width="10.75" height="1.05" fill="#dddff1"/><rect x="128.40" y="304.55" width="10.75" height="1.05" fill="#a3abdb"/><rect x="139.10" y="304.55" width="10.75" height="1.05" fill="#f5d2d6"/><rect x="42.80" y="305.54" width="10.75" height="1.05" fill="#f6f6fb"/><rect x="53.50" y="305.54" width="10.75" height="1.05" fill="#f4bec3"/><rect x="64.20" y="305.54" width="10.75" height="1.05" fill="#eb555c"/><rect x="74.90" y="305.54" width="10.75" height="1.05" fill="#9ea6d9"/><rect x="85.60" y="305.54" width="10.75" height="1.05" fill="#e5e7f5"/><rect x="96.30" y="305.54" width="10.75" height="1.05" fill="#8f98d3"/><rect x="107.00" y="305.54" width="10.75" height="1.05" fill="#f7ecf0"/><rect x="117.70" y="305.54" width="10.75" height="1.05" fill="#daddf0"/><rect x="128.40" y="305.54" width="10.75" height="1.05" fill="#99a2d7"/><rect x="139.10" y="305.54" width="10.75" height="1.05" fill="#d9dcf0"/><rect x="42.80" y="306.54" width="10.75" height="1.05" fill="#eeeff8"/><rect x="53.50" y="306.54" width="10.75" height="1.05" fill="#f6dde1"/><rect x="64.20" y="306.54" width="10.75" height="1.05" fill="#e93a42"/><rect x="74.90" y="306.54" width="10.75" height="1.05" fill="#d0d4ec"/><rect x="85.60" y="306.54" width="10.75" height="1.05" fill="#e5e7f5"/><rect x="96.30" y="306.54" width="10.75" height="1.05" fill="#b2b8e1"/><rect x="107.00" y="306.54" width="10.75" height="1.05" fill="#d5d8ee"/><rect x="117.70" y="306.54" width="10.75" height="1.05" fill="#d2d6ed"/><rect x="128.40" y="306.54" width="10.75" height="1.05" fill="#a2aadb"/><rect x="139.10" y="306.54" width="10.75" height="1.05" fill="#ced2ec"/><rect x="42.80" y="307.53" width="10.75" height="1.05" fill="#f6dde1"/><rect x="53.50" y="307.53" width="10.75" height="1.05" fill="#f7ecf0"/><rect x="64.20" y="307.53" width="10.75" height="1.05" fill="#e93c43"/><rect x="74.90" y="307.53" width="10.75" height="1.05" fill="#bdc3e5"/><rect x="85.60" y="307.53" width="10.75" height="1.05" fill="#f7eff3"/><rect x="96.30" y="307.53" width="10.75" height="1.05" fill="#a4abdb"/><rect x="107.00" y="307.53" width="10.75" height="1.05" fill="#c8cce9"/><rect x="117.70" y="307.53" width="10.75" height="1.05" fill="#9ca4d8"/><rect x="128.40" y="307.53" width="10.75" height="1.05" fill="#b8bee3"/><rect x="139.10" y="307.53" width="10.75" height="1.05" fill="#cbcfea"/><rect x="42.80" y="308.52" width="10.75" height="1.05" fill="#f6d9dd"/><rect x="53.50" y="308.52" width="10.75" height="1.05" fill="#f6dfe4"/><rect x="64.20" y="308.52" width="10.75" height="1.05" fill="#e72a31"/><rect x="74.90" y="308.52" width="10.75" height="1.05" fill="#afb6e0"/><rect x="85.60" y="308.52" width="10.75" height="1.05" fill="#e9eaf6"/><rect x="96.30" y="308.52" width="10.75" height="1.05" fill="#c3c8e8"/><rect x="107.00" y="308.52" width="10.75" height="1.05" fill="#ced2ec"/><rect x="117.70" y="308.52" width="10.75" height="1.05" fill="#bcc2e5"/><rect x="128.40" y="308.52" width="10.75" height="1.05" fill="#c9ceea"/><rect x="139.10" y="308.52" width="10.75" height="1.05" fill="#c9cdea"/><rect x="42.80" y="309.51" width="10.75" height="1.05" fill="#f6d9dd"/><rect x="53.50" y="309.51" width="10.75" height="1.05" fill="#f5ccd1"/><rect x="64.20" y="309.51" width="10.75" height="1.05" fill="#ea4950"/><rect x="74.90" y="309.51" width="10.75" height="1.05" fill="#dde0f2"/><rect x="85.60" y="309.51" width="10.75" height="1.05" fill="#e3e5f4"/><rect x="96.30" y="309.51" width="10.75" height="1.05" fill="#bac0e4"/><rect x="107.00" y="309.51" width="10.75" height="1.05" fill="#d8dbf0"/><rect x="117.70" y="309.51" width="10.75" height="1.05" fill="#c1c6e6"/><rect x="128.40" y="309.51" width="10.75" height="1.05" fill="#bcc2e5"/><rect x="139.10" y="309.51" width="10.75" height="1.05" fill="#ebedf7"/><rect x="42.80" y="310.50" width="10.75" height="1.05" fill="#f4c7cb"/><rect x="53.50" y="310.50" width="10.75" height="1.05" fill="#f4c4c9"/><rect x="64.20" y="310.50" width="10.75" height="1.05" fill="#e9434a"/><rect x="74.90" y="310.50" width="10.75" height="1.05" fill="#ebecf7"/><rect x="85.60" y="310.50" width="10.75" height="1.05" fill="#b8bee3"/><rect x="96.30" y="310.50" width="10.75" height="1.05" fill="#b3b9e1"/><rect x="107.00" y="310.50" width="10.75" height="1.05" fill="#b2b9e1"/><rect x="117.70" y="310.50" width="10.75" height="1.05" fill="#cdd1eb"/><rect x="128.40" y="310.50" width="10.75" height="1.05" fill="#e8eaf6"/><rect x="139.10" y="310.50" width="10.75" height="1.05" fill="#d8dbf0"/><rect x="42.80" y="311.50" width="10.75" height="1.05" fill="#f4bfc3"/><rect x="53.50" y="311.50" width="10.75" height="1.05" fill="#f6dee2"/><rect x="64.20" y="311.50" width="10.75" height="1.05" fill="#e8333b"/><rect x="74.90" y="311.50" width="10.75" height="1.05" fill="#d8dbf0"/><rect x="85.60" y="311.50" width="10.75" height="1.05" fill="#dfe2f2"/><rect x="96.30" y="311.50" width="10.75" height="1.05" fill="#efeff8"/><rect x="107.00" y="311.50" width="10.75" height="1.05" fill="#c7cbe9"/><rect x="117.70" y="311.50" width="10.75" height="1.05" fill="#e1e3f3"/><rect x="128.40" y="311.50" width="10.75" height="1.05" fill="#c6cae8"/><rect x="139.10" y="311.50" width="10.75" height="1.05" fill="#e7e8f5"/><rect x="42.80" y="312.49" width="10.75" height="1.05" fill="#f4c3c8"/><rect x="53.50" y="312.49" width="10.75" height="1.05" fill="#f7e7eb"/><rect x="64.20" y="312.49" width="10.75" height="1.05" fill="#e62229"/><rect x="74.90" y="312.49" width="10.75" height="1.05" fill="#f8f8fc"/><rect x="85.60" y="312.49" width="10.75" height="1.05" fill="#d7daef"/><rect x="96.30" y="312.49" width="10.75" height="1.05" fill="#ccd0eb"/><rect x="107.00" y="312.49" width="10.75" height="1.05" fill="#c5c9e8"/><rect x="117.70" y="312.49" width="10.75" height="1.05" fill="#d1d5ed"/><rect x="128.40" y="312.49" width="10.75" height="1.05" fill="#b4bbe2"/><rect x="139.10" y="312.49" width="10.75" height="1.05" fill="#d8dbef"/><rect x="42.80" y="313.48" width="10.75" height="1.05" fill="#f4c9cd"/><rect x="53.50" y="313.48" width="10.75" height="1.05" fill="#f8f6fa"/><rect x="64.20" y="313.48" width="10.75" height="1.05" fill="#e61f27"/><rect x="74.90" y="313.48" width="10.75" height="1.05" fill="#f8f2f6"/><rect x="85.60" y="313.48" width="10.75" height="1.05" fill="#d6d9ef"/><rect x="96.30" y="313.48" width="10.75" height="1.05" fill="#f2f2fa"/><rect x="107.00" y="313.48" width="10.75" height="1.05" fill="#f5f5fb"/><rect x="117.70" y="313.48" width="10.75" height="1.05" fill="#e9eaf6"/><rect x="128.40" y="313.48" width="10.75" height="1.05" fill="#cfd3ec"/><rect x="139.10" y="313.48" width="10.75" height="1.05" fill="#c2c7e7"/><rect x="42.80" y="314.47" width="10.75" height="1.05" fill="#f6e1e5"/><rect x="53.50" y="314.47" width="10.75" height="1.05" fill="#f6e2e6"/><rect x="64.20" y="314.47" width="10.75" height="1.05" fill="#ed696f"/><rect x="74.90" y="314.47" width="10.75" height="1.05" fill="#f8f8fc"/><rect x="85.60" y="314.47" width="10.75" height="1.05" fill="#e0e2f3"/><rect x="96.30" y="314.47" width="10.75" height="1.05" fill="#e9eaf6"/><rect x="107.00" y="314.47" width="10.75" height="1.05" fill="#f3f4fa"/><rect x="117.70" y="314.47" width="10.75" height="1.05" fill="#d6d9ef"/><rect x="128.40" y="314.47" width="10.75" height="1.05" fill="#bac0e4"/><rect x="139.10" y="314.47" width="10.75" height="1.05" fill="#dbdef1"/><rect x="42.80" y="315.47" width="10.75" height="1.05" fill="#f5d5d9"/><rect x="53.50" y="315.47" width="10.75" height="1.05" fill="#f6d8dc"/><rect x="64.20" y="315.47" width="10.75" height="1.05" fill="#ec6369"/><rect x="74.90" y="315.47" width="10.75" height="1.05" fill="#f6e0e4"/><rect x="85.60" y="315.47" width="10.75" height="1.05" fill="#ebecf7"/><rect x="96.30" y="315.47" width="10.75" height="1.05" fill="#c6cbe9"/><rect x="107.00" y="315.47" width="10.75" height="1.05" fill="#e0e2f3"/><rect x="117.70" y="315.47" width="10.75" height="1.05" fill="#f3f3fa"/><rect x="128.40" y="315.47" width="10.75" height="1.05" fill="#ced2ec"/><rect x="139.10" y="315.47" width="10.75" height="1.05" fill="#e8eaf6"/><rect x="42.80" y="316.46" width="10.75" height="1.05" fill="#f4c1c5"/><rect x="53.50" y="316.46" width="10.75" height="1.05" fill="#f4c2c7"/><rect x="64.20" y="316.46" width="10.75" height="1.05" fill="#eb5960"/><rect x="74.90" y="316.46" width="10.75" height="1.05" fill="#f7e5e9"/><rect x="85.60" y="316.46" width="10.75" height="1.05" fill="#e5e7f5"/><rect x="96.30" y="316.46" width="10.75" height="1.05" fill="#c8cce9"/><rect x="107.00" y="316.46" width="10.75" height="1.05" fill="#d4d7ee"/><rect x="117.70" y="316.46" width="10.75" height="1.05" fill="#e0e2f3"/><rect x="128.40" y="316.46" width="10.75" height="1.05" fill="#ebecf7"/><rect x="139.10" y="316.46" width="10.75" height="1.05" fill="#e8eaf6"/><rect x="42.80" y="317.45" width="10.75" height="1.05" fill="#f6e0e4"/><rect x="53.50" y="317.45" width="10.75" height="1.05" fill="#f5d6da"/><rect x="64.20" y="317.45" width="10.75" height="1.05" fill="#e8383f"/><rect x="74.90" y="317.45" width="10.75" height="1.05" fill="#eaebf6"/><rect x="85.60" y="317.45" width="10.75" height="1.05" fill="#d3d7ee"/><rect x="96.30" y="317.45" width="10.75" height="1.05" fill="#bcc2e5"/><rect x="107.00" y="317.45" width="10.75" height="1.05" fill="#d8dbf0"/><rect x="117.70" y="317.45" width="10.75" height="1.05" fill="#c6cbe9"/><rect x="128.40" y="317.45" width="10.75" height="1.05" fill="#b5bce2"/><rect x="139.10" y="317.45" width="10.75" height="1.05" fill="#f8f4f8"/><rect x="42.80" y="318.44" width="10.75" height="1.05" fill="#f6dade"/><rect x="53.50" y="318.44" width="10.75" height="1.05" fill="#f5cfd4"/><rect x="64.20" y="318.44" width="10.75" height="1.05" fill="#e62129"/><rect x="74.90" y="318.44" width="10.75" height="1.05" fill="#f7e4e8"/><rect x="85.60" y="318.44" width="10.75" height="1.05" fill="#d1d4ed"/><rect x="96.30" y="318.44" width="10.75" height="1.05" fill="#d7daef"/><rect x="107.00" y="318.44" width="10.75" height="1.05" fill="#e3e5f4"/><rect x="117.70" y="318.44" width="10.75" height="1.05" fill="#f5f5fb"/><rect x="128.40" y="318.44" width="10.75" height="1.05" fill="#c9ceea"/><rect x="139.10" y="318.44" width="10.75" height="1.05" fill="#f7ebef"/><rect x="42.80" y="319.44" width="10.75" height="1.05" fill="#f5d0d4"/><rect x="53.50" y="319.44" width="10.75" height="1.05" fill="#f4c1c5"/><rect x="64.20" y="319.44" width="10.75" height="1.05" fill="#e8343b"/><rect x="74.90" y="319.44" width="10.75" height="1.05" fill="#f8f5f9"/><rect x="85.60" y="319.44" width="10.75" height="1.05" fill="#c7cbe9"/><rect x="96.30" y="319.44" width="10.75" height="1.05" fill="#e3e5f4"/><rect x="107.00" y="319.44" width="10.75" height="1.05" fill="#c7cbe9"/><rect x="117.70" y="319.44" width="10.75" height="1.05" fill="#e2e4f3"/><rect x="128.40" y="319.44" width="10.75" height="1.05" fill="#d5d8ee"/><rect x="139.10" y="319.44" width="10.75" height="1.05" fill="#f7f0f4"/><rect x="42.80" y="320.43" width="10.75" height="1.05" fill="#f4c3c8"/><rect x="53.50" y="320.43" width="10.75" height="1.05" fill="#f4bec2"/><rect x="64.20" y="320.43" width="10.75" height="1.05" fill="#e93e45"/><rect x="74.90" y="320.43" width="10.75" height="1.05" fill="#dddff1"/><rect x="85.60" y="320.43" width="10.75" height="1.05" fill="#bec3e5"/><rect x="96.30" y="320.43" width="10.75" height="1.05" fill="#bec3e5"/><rect x="107.00" y="320.43" width="10.75" height="1.05" fill="#d2d5ed"/><rect x="117.70" y="320.43" width="10.75" height="1.05" fill="#f6e1e5"/><rect x="128.40" y="320.43" width="10.75" height="1.05" fill="#d6d9ef"/><rect x="139.10" y="320.43" width="10.75" height="1.05" fill="#f5f5fb"/><rect x="42.80" y="321.42" width="10.75" height="1.05" fill="#f3b2b7"/><rect x="53.50" y="321.42" width="10.75" height="1.05" fill="#f19fa3"/><rect x="64.20" y="321.42" width="10.75" height="1.05" fill="#ec6269"/><rect x="74.90" y="321.42" width="10.75" height="1.05" fill="#f5f5fb"/><rect x="85.60" y="321.42" width="10.75" height="1.05" fill="#afb6e0"/><rect x="96.30" y="321.42" width="10.75" height="1.05" fill="#b9bfe4"/><rect x="107.00" y="321.42" width="10.75" height="1.05" fill="#dfe1f2"/><rect x="117.70" y="321.42" width="10.75" height="1.05" fill="#f7e8ec"/><rect x="128.40" y="321.42" width="10.75" height="1.05" fill="#c1c6e7"/><rect x="139.10" y="321.42" width="10.75" height="1.05" fill="#eeeff8"/><rect x="42.80" y="322.41" width="10.75" height="1.05" fill="#f3b0b5"/><rect x="53.50" y="322.41" width="10.75" height="1.05" fill="#f1989d"/><rect x="64.20" y="322.41" width="10.75" height="1.05" fill="#f19ca1"/><rect x="74.90" y="322.41" width="10.75" height="1.05" fill="#cbcfeb"/><rect x="85.60" y="322.41" width="10.75" height="1.05" fill="#c5cae8"/><rect x="96.30" y="322.41" width="10.75" height="1.05" fill="#f4f4fa"/><rect x="107.00" y="322.41" width="10.75" height="1.05" fill="#d5d8ee"/><rect x="117.70" y="322.41" width="10.75" height="1.05" fill="#a7aedc"/><rect x="128.40" y="322.41" width="10.75" height="1.05" fill="#ced1eb"/><rect x="139.10" y="322.41" width="10.75" height="1.05" fill="#f8f5f9"/><rect x="42.80" y="323.41" width="10.75" height="1.05" fill="#f4bdc2"/><rect x="53.50" y="323.41" width="10.75" height="1.05" fill="#f0878c"/><rect x="64.20" y="323.41" width="10.75" height="1.05" fill="#ef8186"/><rect x="74.90" y="323.41" width="10.75" height="1.05" fill="#c5cae8"/><rect x="85.60" y="323.41" width="10.75" height="1.05" fill="#818ccc"/><rect x="96.30" y="323.41" width="10.75" height="1.05" fill="#d0d3ec"/><rect x="107.00" y="323.41" width="10.75" height="1.05" fill="#e6e7f5"/><rect x="117.70" y="323.41" width="10.75" height="1.05" fill="#cdd1eb"/><rect x="128.40" y="323.41" width="10.75" height="1.05" fill="#b2b9e1"/><rect x="139.10" y="323.41" width="10.75" height="1.05" fill="#f3b6bb"/><rect x="42.80" y="324.40" width="10.75" height="1.05" fill="#f5d5d9"/><rect x="53.50" y="324.40" width="10.75" height="1.05" fill="#ee7b81"/><rect x="64.20" y="324.40" width="10.75" height="1.05" fill="#f3b1b6"/><rect x="74.90" y="324.40" width="10.75" height="1.05" fill="#cbcfeb"/><rect x="85.60" y="324.40" width="10.75" height="1.05" fill="#a1a9da"/><rect x="96.30" y="324.40" width="10.75" height="1.05" fill="#e6e8f5"/><rect x="107.00" y="324.40" width="10.75" height="1.05" fill="#a6aedc"/><rect x="117.70" y="324.40" width="10.75" height="1.05" fill="#8d97d2"/><rect x="128.40" y="324.40" width="10.75" height="1.05" fill="#a7aedc"/><rect x="139.10" y="324.40" width="10.75" height="1.05" fill="#f3b2b7"/><rect x="42.80" y="325.39" width="10.75" height="1.05" fill="#f5d5da"/><rect x="53.50" y="325.39" width="10.75" height="1.05" fill="#ef7c82"/><rect x="64.20" y="325.39" width="10.75" height="1.05" fill="#f3babf"/><rect x="74.90" y="325.39" width="10.75" height="1.05" fill="#f6dade"/><rect x="85.60" y="325.39" width="10.75" height="1.05" fill="#8d97d2"/><rect x="96.30" y="325.39" width="10.75" height="1.05" fill="#bec4e6"/><rect x="107.00" y="325.39" width="10.75" height="1.05" fill="#9ca4d8"/><rect x="117.70" y="325.39" width="10.75" height="1.05" fill="#c0c5e6"/><rect x="128.40" y="325.39" width="10.75" height="1.05" fill="#d3d7ee"/><rect x="139.10" y="325.39" width="10.75" height="1.05" fill="#f08b90"/><rect x="42.80" y="326.38" width="10.75" height="1.05" fill="#f5cbcf"/><rect x="53.50" y="326.38" width="10.75" height="1.05" fill="#f5ccd0"/><rect x="64.20" y="326.38" width="10.75" height="1.05" fill="#f2a4a9"/><rect x="74.90" y="326.38" width="10.75" height="1.05" fill="#f4c0c5"/><rect x="85.60" y="326.38" width="10.75" height="1.05" fill="#f4f4fa"/><rect x="96.30" y="326.38" width="10.75" height="1.05" fill="#e3e5f4"/><rect x="107.00" y="326.38" width="10.75" height="1.05" fill="#b5bbe2"/><rect x="117.70" y="326.38" width="10.75" height="1.05" fill="#c8cce9"/><rect x="128.40" y="326.38" width="10.75" height="1.05" fill="#c1c6e7"/><rect x="139.10" y="326.38" width="10.75" height="1.05" fill="#f19499"/><rect x="42.80" y="327.37" width="10.75" height="1.05" fill="#f2a6ab"/><rect x="53.50" y="327.37" width="10.75" height="1.05" fill="#f3b9be"/><rect x="64.20" y="327.37" width="10.75" height="1.05" fill="#eeeff8"/><rect x="74.90" y="327.37" width="10.75" height="1.05" fill="#f0f1f9"/><rect x="85.60" y="327.37" width="10.75" height="1.05" fill="#c0c5e6"/><rect x="96.30" y="327.37" width="10.75" height="1.05" fill="#f8f8fc"/><rect x="107.00" y="327.37" width="10.75" height="1.05" fill="#a2aada"/><rect x="117.70" y="327.37" width="10.75" height="1.05" fill="#c0c5e6"/><rect x="128.40" y="327.37" width="10.75" height="1.05" fill="#bcc1e5"/><rect x="139.10" y="327.37" width="10.75" height="1.05" fill="#f19ba0"/><rect x="42.80" y="328.37" width="10.75" height="1.05" fill="#ef7f84"/><rect x="53.50" y="328.37" width="10.75" height="1.05" fill="#f6d7db"/><rect x="64.20" y="328.37" width="10.75" height="1.05" fill="#f0f1f9"/><rect x="74.90" y="328.37" width="10.75" height="1.05" fill="#f7eff3"/><rect x="85.60" y="328.37" width="10.75" height="1.05" fill="#d9dcf0"/><rect x="96.30" y="328.37" width="10.75" height="1.05" fill="#f5d1d6"/><rect x="107.00" y="328.37" width="10.75" height="1.05" fill="#9aa3d8"/><rect x="117.70" y="328.37" width="10.75" height="1.05" fill="#bac0e4"/><rect x="128.40" y="328.37" width="10.75" height="1.05" fill="#f6dfe4"/><rect x="139.10" y="328.37" width="10.75" height="1.05" fill="#f4c4c8"/><rect x="42.80" y="329.36" width="10.75" height="1.05" fill="#f1989d"/><rect x="53.50" y="329.36" width="10.75" height="1.05" fill="#f2a3a8"/><rect x="64.20" y="329.36" width="10.75" height="1.05" fill="#f8f6fa"/><rect x="74.90" y="329.36" width="10.75" height="1.05" fill="#f7eef2"/><rect x="85.60" y="329.36" width="10.75" height="1.05" fill="#bac0e4"/><rect x="96.30" y="329.36" width="10.75" height="1.05" fill="#f4c1c6"/><rect x="107.00" y="329.36" width="10.75" height="1.05" fill="#818ccc"/><rect x="117.70" y="329.36" width="10.75" height="1.05" fill="#e0e2f3"/><rect x="128.40" y="329.36" width="10.75" height="1.05" fill="#f6e3e8"/><rect x="139.10" y="329.36" width="10.75" height="1.05" fill="#f6d8dc"/><rect x="42.80" y="330.35" width="10.75" height="1.05" fill="#f19da2"/><rect x="53.50" y="330.35" width="10.75" height="1.05" fill="#f7e8ec"/><rect x="64.20" y="330.35" width="10.75" height="1.05" fill="#f7e5e9"/><rect x="74.90" y="330.35" width="10.75" height="1.05" fill="#8c96d2"/><rect x="85.60" y="330.35" width="10.75" height="1.05" fill="#9ba3d8"/><rect x="96.30" y="330.35" width="10.75" height="1.05" fill="#f6dee2"/><rect x="107.00" y="330.35" width="10.75" height="1.05" fill="#a5addc"/><rect x="117.70" y="330.35" width="10.75" height="1.05" fill="#eaecf7"/><rect x="128.40" y="330.35" width="10.75" height="1.05" fill="#f5f5fb"/><rect x="139.10" y="330.35" width="10.75" height="1.05" fill="#f5cbcf"/><rect x="42.80" y="331.34" width="10.75" height="1.05" fill="#f2a9ad"/><rect x="53.50" y="331.34" width="10.75" height="1.05" fill="#f5d2d6"/><rect x="64.20" y="331.34" width="10.75" height="1.05" fill="#c5cae8"/><rect x="74.90" y="331.34" width="10.75" height="1.05" fill="#bbc1e4"/><rect x="85.60" y="331.34" width="10.75" height="1.05" fill="#b8bee3"/><rect x="96.30" y="331.34" width="10.75" height="1.05" fill="#f0f0f9"/><rect x="107.00" y="331.34" width="10.75" height="1.05" fill="#b6bde3"/><rect x="117.70" y="331.34" width="10.75" height="1.05" fill="#b6bce2"/><rect x="128.40" y="331.34" width="10.75" height="1.05" fill="#daddf0"/><rect x="139.10" y="331.34" width="10.75" height="1.05" fill="#f5cdd1"/><rect x="42.80" y="332.34" width="10.75" height="1.05" fill="#ed6e74"/><rect x="53.50" y="332.34" width="10.75" height="1.05" fill="#f3babf"/><rect x="64.20" y="332.34" width="10.75" height="1.05" fill="#d8dbef"/><rect x="74.90" y="332.34" width="10.75" height="1.05" fill="#edeef8"/><rect x="85.60" y="332.34" width="10.75" height="1.05" fill="#a1a9da"/><rect x="96.30" y="332.34" width="10.75" height="1.05" fill="#f5cacf"/><rect x="107.00" y="332.34" width="10.75" height="1.05" fill="#818ccc"/><rect x="117.70" y="332.34" width="10.75" height="1.05" fill="#c7cce9"/><rect x="128.40" y="332.34" width="10.75" height="1.05" fill="#f6f6fb"/><rect x="139.10" y="332.34" width="10.75" height="1.05" fill="#f1979c"/><rect x="42.80" y="333.33" width="10.75" height="1.05" fill="#f2a4a8"/><rect x="53.50" y="333.33" width="10.75" height="1.05" fill="#f6dee2"/><rect x="64.20" y="333.33" width="10.75" height="1.05" fill="#f5f5fb"/><rect x="74.90" y="333.33" width="10.75" height="1.05" fill="#d9dcf0"/><rect x="85.60" y="333.33" width="10.75" height="1.05" fill="#939cd5"/><rect x="96.30" y="333.33" width="10.75" height="1.05" fill="#f8f6fa"/><rect x="107.00" y="333.33" width="10.75" height="1.05" fill="#707dc4"/><rect x="117.70" y="333.33" width="10.75" height="1.05" fill="#caceea"/><rect x="128.40" y="333.33" width="10.75" height="1.05" fill="#d4d7ee"/><rect x="139.10" y="333.33" width="10.75" height="1.05" fill="#f09095"/><rect x="42.80" y="334.32" width="10.75" height="1.05" fill="#f4c3c8"/><rect x="53.50" y="334.32" width="10.75" height="1.05" fill="#f19fa4"/><rect x="64.20" y="334.32" width="10.75" height="1.05" fill="#d3d6ee"/><rect x="74.90" y="334.32" width="10.75" height="1.05" fill="#dde0f2"/><rect x="85.60" y="334.32" width="10.75" height="1.05" fill="#7783c7"/><rect x="96.30" y="334.32" width="10.75" height="1.05" fill="#d0d4ec"/><rect x="107.00" y="334.32" width="10.75" height="1.05" fill="#6471bd"/><rect x="117.70" y="334.32" width="10.75" height="1.05" fill="#eaebf7"/><rect x="128.40" y="334.32" width="10.75" height="1.05" fill="#8993d0"/><rect x="139.10" y="334.32" width="10.75" height="1.05" fill="#f19ea3"/><rect x="42.80" y="335.31" width="10.75" height="1.05" fill="#f19ea3"/><rect x="53.50" y="335.31" width="10.75" height="1.05" fill="#f2a8ad"/><rect x="64.20" y="335.31" width="10.75" height="1.05" fill="#ccd0eb"/><rect x="74.90" y="335.31" width="10.75" height="1.05" fill="#abb2de"/><rect x="85.60" y="335.31" width="10.75" height="1.05" fill="#b8bee3"/><rect x="96.30" y="335.31" width="10.75" height="1.05" fill="#f7e5e9"/><rect x="107.00" y="335.31" width="10.75" height="1.05" fill="#7f8acb"/><rect x="117.70" y="335.31" width="10.75" height="1.05" fill="#cfd3ec"/><rect x="128.40" y="335.31" width="10.75" height="1.05" fill="#9ea7d9"/><rect x="139.10" y="335.31" width="10.75" height="1.05" fill="#f2aeb2"/><rect x="42.80" y="336.31" width="10.75" height="1.05" fill="#f19499"/><rect x="53.50" y="336.31" width="10.75" height="1.05" fill="#f5ced2"/><rect x="64.20" y="336.31" width="10.75" height="1.05" fill="#f0f1f9"/><rect x="74.90" y="336.31" width="10.75" height="1.05" fill="#bbc0e4"/><rect x="85.60" y="336.31" width="10.75" height="1.05" fill="#848fce"/><rect x="96.30" y="336.31" width="10.75" height="1.05" fill="#f7eef2"/><rect x="107.00" y="336.31" width="10.75" height="1.05" fill="#717dc4"/><rect x="117.70" y="336.31" width="10.75" height="1.05" fill="#f8f6fa"/><rect x="128.40" y="336.31" width="10.75" height="1.05" fill="#e6e7f5"/><rect x="139.10" y="336.31" width="10.75" height="1.05" fill="#f19ca1"/><rect x="42.80" y="337.30" width="10.75" height="1.05" fill="#f3afb4"/><rect x="53.50" y="337.30" width="10.75" height="1.05" fill="#f6dfe4"/><rect x="64.20" y="337.30" width="10.75" height="1.05" fill="#949ed5"/><rect x="74.90" y="337.30" width="10.75" height="1.05" fill="#8993d0"/><rect x="85.60" y="337.30" width="10.75" height="1.05" fill="#8690cf"/><rect x="96.30" y="337.30" width="10.75" height="1.05" fill="#f6e2e6"/><rect x="107.00" y="337.30" width="10.75" height="1.05" fill="#6875bf"/><rect x="117.70" y="337.30" width="10.75" height="1.05" fill="#f8f6fa"/><rect x="128.40" y="337.30" width="10.75" height="1.05" fill="#f6f7fb"/><rect x="139.10" y="337.30" width="10.75" height="1.05" fill="#f2a8ad"/><rect x="42.80" y="338.29" width="10.75" height="1.05" fill="#f4c3c8"/><rect x="53.50" y="338.29" width="10.75" height="1.05" fill="#f3b4b9"/><rect x="64.20" y="338.29" width="10.75" height="1.05" fill="#e1e3f3"/><rect x="74.90" y="338.29" width="10.75" height="1.05" fill="#bdc2e5"/><rect x="85.60" y="338.29" width="10.75" height="1.05" fill="#919bd4"/><rect x="96.30" y="338.29" width="10.75" height="1.05" fill="#f7eff3"/><rect x="107.00" y="338.29" width="10.75" height="1.05" fill="#8892d0"/><rect x="117.70" y="338.29" width="10.75" height="1.05" fill="#f8f7fb"/><rect x="128.40" y="338.29" width="10.75" height="1.05" fill="#f8f2f6"/><rect x="139.10" y="338.29" width="10.75" height="1.05" fill="#f0888d"/><rect x="42.80" y="339.28" width="10.75" height="1.05" fill="#f5cdd1"/><rect x="53.50" y="339.28" width="10.75" height="1.05" fill="#f2acb0"/><rect x="64.20" y="339.28" width="10.75" height="1.05" fill="#d8dbef"/><rect x="74.90" y="339.28" width="10.75" height="1.05" fill="#a1a9da"/><rect x="85.60" y="339.28" width="10.75" height="1.05" fill="#6c78c1"/><rect x="96.30" y="339.28" width="10.75" height="1.05" fill="#f6d8dd"/><rect x="107.00" y="339.28" width="10.75" height="1.05" fill="#9ca4d8"/><rect x="117.70" y="339.28" width="10.75" height="1.05" fill="#f3b7bc"/><rect x="128.40" y="339.28" width="10.75" height="1.05" fill="#f8f2f6"/><rect x="139.10" y="339.28" width="10.75" height="1.05" fill="#f4c0c4"/><rect x="42.80" y="340.28" width="10.75" height="1.05" fill="#f19a9f"/><rect x="53.50" y="340.28" width="10.75" height="1.05" fill="#f1989d"/><rect x="64.20" y="340.28" width="10.75" height="1.05" fill="#d5d9ef"/><rect x="74.90" y="340.28" width="10.75" height="1.05" fill="#e1e3f3"/><rect x="85.60" y="340.28" width="10.75" height="1.05" fill="#8893d0"/><rect x="96.30" y="340.28" width="10.75" height="1.05" fill="#f5d3d7"/><rect x="107.00" y="340.28" width="10.75" height="1.05" fill="#c5c9e8"/><rect x="117.70" y="340.28" width="10.75" height="1.05" fill="#f2a1a5"/><rect x="128.40" y="340.28" width="10.75" height="1.05" fill="#d2d5ed"/><rect x="139.10" y="340.28" width="10.75" height="1.05" fill="#f2a8ac"/><rect x="42.80" y="341.27" width="10.75" height="1.05" fill="#f4bec2"/><rect x="53.50" y="341.27" width="10.75" height="1.05" fill="#f6e1e5"/><rect x="64.20" y="341.27" width="10.75" height="1.05" fill="#f1f1f9"/><rect x="74.90" y="341.27" width="10.75" height="1.05" fill="#f5d1d5"/><rect x="85.60" y="341.27" width="10.75" height="1.05" fill="#97a0d6"/><rect x="96.30" y="341.27" width="10.75" height="1.05" fill="#e3e5f4"/><rect x="107.00" y="341.27" width="10.75" height="1.05" fill="#acb3de"/><rect x="117.70" y="341.27" width="10.75" height="1.05" fill="#f4c6cb"/><rect x="128.40" y="341.27" width="10.75" height="1.05" fill="#dcdff1"/><rect x="139.10" y="341.27" width="10.75" height="1.05" fill="#f1989c"/><rect x="42.80" y="342.26" width="10.75" height="1.05" fill="#f4c1c5"/><rect x="53.50" y="342.26" width="10.75" height="1.05" fill="#f5ced2"/><rect x="64.20" y="342.26" width="10.75" height="1.05" fill="#f0f0f9"/><rect x="74.90" y="342.26" width="10.75" height="1.05" fill="#f6d7db"/><rect x="85.60" y="342.26" width="10.75" height="1.05" fill="#7884c8"/><rect x="96.30" y="342.26" width="10.75" height="1.05" fill="#f6e2e6"/><rect x="107.00" y="342.26" width="10.75" height="1.05" fill="#7b86c9"/><rect x="117.70" y="342.26" width="10.75" height="1.05" fill="#f8f6fa"/><rect x="128.40" y="342.26" width="10.75" height="1.05" fill="#d4d7ee"/><rect x="139.10" y="342.26" width="10.75" height="1.05" fill="#f3babe"/><rect x="42.80" y="343.25" width="10.75" height="1.05" fill="#f6e0e4"/><rect x="53.50" y="343.25" width="10.75" height="1.05" fill="#f5ccd0"/><rect x="64.20" y="343.25" width="10.75" height="1.05" fill="#edeef8"/><rect x="74.90" y="343.25" width="10.75" height="1.05" fill="#f6e0e4"/><rect x="85.60" y="343.25" width="10.75" height="1.05" fill="#828ccd"/><rect x="96.30" y="343.25" width="10.75" height="1.05" fill="#f7e4e8"/><rect x="107.00" y="343.25" width="10.75" height="1.05" fill="#a7aedc"/><rect x="117.70" y="343.25" width="10.75" height="1.05" fill="#e0e3f3"/><rect x="128.40" y="343.25" width="10.75" height="1.05" fill="#dcdff1"/><rect x="139.10" y="343.25" width="10.75" height="1.05" fill="#f4bfc4"/><rect x="42.80" y="344.24" width="10.75" height="1.05" fill="#f1999e"/><rect x="53.50" y="344.24" width="10.75" height="1.05" fill="#f09095"/><rect x="64.20" y="344.24" width="10.75" height="1.05" fill="#f7f0f4"/><rect x="74.90" y="344.24" width="10.75" height="1.05" fill="#f4c7cc"/><rect x="85.60" y="344.24" width="10.75" height="1.05" fill="#7480c5"/><rect x="96.30" y="344.24" width="10.75" height="1.05" fill="#f6dfe3"/><rect x="107.00" y="344.24" width="10.75" height="1.05" fill="#b6bce2"/><rect x="117.70" y="344.24" width="10.75" height="1.05" fill="#f6f6fb"/><rect x="128.40" y="344.24" width="10.75" height="1.05" fill="#f6e4e8"/><rect x="139.10" y="344.24" width="10.75" height="1.05" fill="#f3bbbf"/><rect x="42.80" y="345.24" width="10.75" height="1.05" fill="#f6e1e5"/><rect x="53.50" y="345.24" width="10.75" height="1.05" fill="#f4c4c8"/><rect x="64.20" y="345.24" width="10.75" height="1.05" fill="#ccd0eb"/><rect x="74.90" y="345.24" width="10.75" height="1.05" fill="#f4c1c6"/><rect x="85.60" y="345.24" width="10.75" height="1.05" fill="#99a2d7"/><rect x="96.30" y="345.24" width="10.75" height="1.05" fill="#f5d4d8"/><rect x="107.00" y="345.24" width="10.75" height="1.05" fill="#909ad4"/><rect x="117.70" y="345.24" width="10.75" height="1.05" fill="#ccd0eb"/><rect x="128.40" y="345.24" width="10.75" height="1.05" fill="#f5d2d7"/><rect x="139.10" y="345.24" width="10.75" height="1.05" fill="#f3b7bb"/><rect x="42.80" y="346.23" width="10.75" height="1.05" fill="#f1979c"/><rect x="53.50" y="346.23" width="10.75" height="1.05" fill="#f6d7db"/><rect x="64.20" y="346.23" width="10.75" height="1.05" fill="#ccd0eb"/><rect x="74.90" y="346.23" width="10.75" height="1.05" fill="#f7eff3"/><rect x="85.60" y="346.23" width="10.75" height="1.05" fill="#a2aadb"/><rect x="96.30" y="346.23" width="10.75" height="1.05" fill="#f7e8ed"/><rect x="107.00" y="346.23" width="10.75" height="1.05" fill="#d1d5ed"/><rect x="117.70" y="346.23" width="10.75" height="1.05" fill="#f4f5fb"/><rect x="128.40" y="346.23" width="10.75" height="1.05" fill="#f4c7cb"/><rect x="139.10" y="346.23" width="10.75" height="1.05" fill="#f7eef2"/><rect x="42.80" y="347.22" width="10.75" height="1.05" fill="#f2acb1"/><rect x="53.50" y="347.22" width="10.75" height="1.05" fill="#f5d2d7"/><rect x="64.20" y="347.22" width="10.75" height="1.05" fill="#b3b9e1"/><rect x="74.90" y="347.22" width="10.75" height="1.05" fill="#f7e7eb"/><rect x="85.60" y="347.22" width="10.75" height="1.05" fill="#8892d0"/><rect x="96.30" y="347.22" width="10.75" height="1.05" fill="#f7e6ea"/><rect x="107.00" y="347.22" width="10.75" height="1.05" fill="#b5bbe2"/><rect x="117.70" y="347.22" width="10.75" height="1.05" fill="#a8b0dd"/><rect x="128.40" y="347.22" width="10.75" height="1.05" fill="#f5cacf"/><rect x="139.10" y="347.22" width="10.75" height="1.05" fill="#f3aeb3"/><rect x="42.80" y="348.21" width="10.75" height="1.05" fill="#f2a2a7"/><rect x="53.50" y="348.21" width="10.75" height="1.05" fill="#f4bec2"/><rect x="64.20" y="348.21" width="10.75" height="1.05" fill="#dcdef1"/><rect x="74.90" y="348.21" width="10.75" height="1.05" fill="#f4c1c5"/><rect x="85.60" y="348.21" width="10.75" height="1.05" fill="#7a85c8"/><rect x="96.30" y="348.21" width="10.75" height="1.05" fill="#f8f8fc"/><rect x="107.00" y="348.21" width="10.75" height="1.05" fill="#d8dbf0"/><rect x="117.70" y="348.21" width="10.75" height="1.05" fill="#b7bde3"/><rect x="128.40" y="348.21" width="10.75" height="1.05" fill="#f5d0d4"/><rect x="139.10" y="348.21" width="10.75" height="1.05" fill="#f0888d"/><rect x="42.80" y="349.21" width="10.75" height="1.05" fill="#f3b2b7"/><rect x="53.50" y="349.21" width="10.75" height="1.05" fill="#ecedf7"/><rect x="64.20" y="349.21" width="10.75" height="1.05" fill="#f8f3f7"/><rect x="74.90" y="349.21" width="10.75" height="1.05" fill="#e9ebf6"/><rect x="85.60" y="349.21" width="10.75" height="1.05" fill="#7783c7"/><rect x="96.30" y="349.21" width="10.75" height="1.05" fill="#f5d1d5"/><rect x="107.00" y="349.21" width="10.75" height="1.05" fill="#f7eff3"/><rect x="117.70" y="349.21" width="10.75" height="1.05" fill="#e5e7f5"/><rect x="128.40" y="349.21" width="10.75" height="1.05" fill="#e5e6f4"/><rect x="139.10" y="349.21" width="10.75" height="1.05" fill="#f4c0c4"/><rect x="42.80" y="350.20" width="10.75" height="1.05" fill="#f4c5c9"/><rect x="53.50" y="350.20" width="10.75" height="1.05" fill="#f2a8ad"/><rect x="64.20" y="350.20" width="10.75" height="1.05" fill="#f8f3f7"/><rect x="74.90" y="350.20" width="10.75" height="1.05" fill="#f8f7fb"/><rect x="85.60" y="350.20" width="10.75" height="1.05" fill="#98a1d7"/><rect x="96.30" y="350.20" width="10.75" height="1.05" fill="#f6dbdf"/><rect x="107.00" y="350.20" width="10.75" height="1.05" fill="#eaebf7"/><rect x="117.70" y="350.20" width="10.75" height="1.05" fill="#f7f7fc"/><rect x="128.40" y="350.20" width="10.75" height="1.05" fill="#f7e4e8"/><rect x="139.10" y="350.20" width="10.75" height="1.05" fill="#f2a7ab"/><rect x="42.80" y="351.19" width="10.75" height="1.05" fill="#f2a4a9"/><rect x="53.50" y="351.19" width="10.75" height="1.05" fill="#f2a8ac"/><rect x="64.20" y="351.19" width="10.75" height="1.05" fill="#d2d6ed"/><rect x="74.90" y="351.19" width="10.75" height="1.05" fill="#f5d5d9"/><rect x="85.60" y="351.19" width="10.75" height="1.05" fill="#848fce"/><rect x="96.30" y="351.19" width="10.75" height="1.05" fill="#f7ebef"/><rect x="107.00" y="351.19" width="10.75" height="1.05" fill="#c7cce9"/><rect x="117.70" y="351.19" width="10.75" height="1.05" fill="#f8f3f7"/><rect x="128.40" y="351.19" width="10.75" height="1.05" fill="#f5ccd1"/><rect x="139.10" y="351.19" width="10.75" height="1.05" fill="#f4c1c5"/><rect x="42.80" y="352.18" width="10.75" height="1.05" fill="#f2abb0"/><rect x="53.50" y="352.18" width="10.75" height="1.05" fill="#f5cfd4"/><rect x="64.20" y="352.18" width="10.75" height="1.05" fill="#c3c8e7"/><rect x="74.90" y="352.18" width="10.75" height="1.05" fill="#f6dfe3"/><rect x="85.60" y="352.18" width="10.75" height="1.05" fill="#949dd5"/><rect x="96.30" y="352.18" width="10.75" height="1.05" fill="#f6f6fb"/><rect x="107.00" y="352.18" width="10.75" height="1.05" fill="#9ba4d8"/><rect x="117.70" y="352.18" width="10.75" height="1.05" fill="#f6dbe0"/><rect x="128.40" y="352.18" width="10.75" height="1.05" fill="#f3babf"/><rect x="139.10" y="352.18" width="10.75" height="1.05" fill="#ed6e74"/><rect x="42.80" y="353.18" width="10.75" height="1.05" fill="#f5cbcf"/><rect x="53.50" y="353.18" width="10.75" height="1.05" fill="#f6e2e6"/><rect x="64.20" y="353.18" width="10.75" height="1.05" fill="#f7edf1"/><rect x="74.90" y="353.18" width="10.75" height="1.05" fill="#ccd0eb"/><rect x="85.60" y="353.18" width="10.75" height="1.05" fill="#d3d6ee"/><rect x="96.30" y="353.18" width="10.75" height="1.05" fill="#caceea"/><rect x="107.00" y="353.18" width="10.75" height="1.05" fill="#cbd0eb"/><rect x="117.70" y="353.18" width="10.75" height="1.05" fill="#f8f4f8"/><rect x="128.40" y="353.18" width="10.75" height="1.05" fill="#f4c1c5"/><rect x="139.10" y="353.18" width="10.75" height="1.05" fill="#f2a8ad"/><rect x="42.80" y="354.17" width="10.75" height="1.05" fill="#f5c9ce"/><rect x="53.50" y="354.17" width="10.75" height="1.05" fill="#f4c7cc"/><rect x="64.20" y="354.17" width="10.75" height="1.05" fill="#f5d3d8"/><rect x="74.90" y="354.17" width="10.75" height="1.05" fill="#ecedf7"/><rect x="85.60" y="354.17" width="10.75" height="1.05" fill="#babfe4"/><rect x="96.30" y="354.17" width="10.75" height="1.05" fill="#f4f4fa"/><rect x="107.00" y="354.17" width="10.75" height="1.05" fill="#a5addc"/><rect x="117.70" y="354.17" width="10.75" height="1.05" fill="#f7ebef"/><rect x="128.40" y="354.17" width="10.75" height="1.05" fill="#f2adb2"/><rect x="139.10" y="354.17" width="10.75" height="1.05" fill="#f1a0a5"/><rect x="42.80" y="355.16" width="10.75" height="1.05" fill="#f6dbe0"/><rect x="53.50" y="355.16" width="10.75" height="1.05" fill="#f6d7db"/><rect x="64.20" y="355.16" width="10.75" height="1.05" fill="#e2e4f4"/><rect x="74.90" y="355.16" width="10.75" height="1.05" fill="#f6e3e7"/><rect x="85.60" y="355.16" width="10.75" height="1.05" fill="#a7aedc"/><rect x="96.30" y="355.16" width="10.75" height="1.05" fill="#eff0f8"/><rect x="107.00" y="355.16" width="10.75" height="1.05" fill="#a6aedc"/><rect x="117.70" y="355.16" width="10.75" height="1.05" fill="#f8f2f6"/><rect x="128.40" y="355.16" width="10.75" height="1.05" fill="#f4c3c8"/><rect x="139.10" y="355.16" width="10.75" height="1.05" fill="#f2a2a7"/><rect x="42.80" y="356.15" width="10.75" height="1.05" fill="#f5d0d5"/><rect x="53.50" y="356.15" width="10.75" height="1.05" fill="#f6dbdf"/><rect x="64.20" y="356.15" width="10.75" height="1.05" fill="#d2d5ed"/><rect x="74.90" y="356.15" width="10.75" height="1.05" fill="#dbdef1"/><rect x="85.60" y="356.15" width="10.75" height="1.05" fill="#b9bfe4"/><rect x="96.30" y="356.15" width="10.75" height="1.05" fill="#f6d6db"/><rect x="107.00" y="356.15" width="10.75" height="1.05" fill="#c0c5e6"/><rect x="117.70" y="356.15" width="10.75" height="1.05" fill="#cbcfea"/><rect x="128.40" y="356.15" width="10.75" height="1.05" fill="#f4c5c9"/><rect x="139.10" y="356.15" width="10.75" height="1.05" fill="#f3b9be"/><rect x="42.80" y="357.15" width="10.75" height="1.05" fill="#f5d0d5"/><rect x="53.50" y="357.15" width="10.75" height="1.05" fill="#f5cdd2"/><rect x="64.20" y="357.15" width="10.75" height="1.05" fill="#ced2ec"/><rect x="74.90" y="357.15" width="10.75" height="1.05" fill="#c2c7e7"/><rect x="85.60" y="357.15" width="10.75" height="1.05" fill="#b4bae2"/><rect x="96.30" y="357.15" width="10.75" height="1.05" fill="#f0f1f9"/><rect x="107.00" y="357.15" width="10.75" height="1.05" fill="#dee0f2"/><rect x="117.70" y="357.15" width="10.75" height="1.05" fill="#aeb5df"/><rect x="128.40" y="357.15" width="10.75" height="1.05" fill="#ecedf7"/><rect x="139.10" y="357.15" width="10.75" height="1.05" fill="#f3babe"/><rect x="42.80" y="358.14" width="10.75" height="1.05" fill="#f8f2f6"/><rect x="53.50" y="358.14" width="10.75" height="1.05" fill="#f2abb0"/><rect x="64.20" y="358.14" width="10.75" height="1.05" fill="#dee0f2"/><rect x="74.90" y="358.14" width="10.75" height="1.05" fill="#bfc4e6"/><rect x="85.60" y="358.14" width="10.75" height="1.05" fill="#c6cbe9"/><rect x="96.30" y="358.14" width="10.75" height="1.05" fill="#d8dbef"/><rect x="107.00" y="358.14" width="10.75" height="1.05" fill="#f6e3e7"/><rect x="117.70" y="358.14" width="10.75" height="1.05" fill="#dddff1"/><rect x="128.40" y="358.14" width="10.75" height="1.05" fill="#d5d9ef"/><rect x="139.10" y="358.14" width="10.75" height="1.05" fill="#f7f0f4"/><rect x="42.80" y="359.13" width="10.75" height="1.05" fill="#eeeff8"/><rect x="53.50" y="359.13" width="10.75" height="1.05" fill="#f5d4d8"/><rect x="64.20" y="359.13" width="10.75" height="1.05" fill="#e1e3f3"/><rect x="74.90" y="359.13" width="10.75" height="1.05" fill="#d4d8ee"/><rect x="85.60" y="359.13" width="10.75" height="1.05" fill="#b8bee3"/><rect x="96.30" y="359.13" width="10.75" height="1.05" fill="#f7e4e8"/><rect x="107.00" y="359.13" width="10.75" height="1.05" fill="#c2c7e7"/><rect x="117.70" y="359.13" width="10.75" height="1.05" fill="#d9dcf0"/><rect x="128.40" y="359.13" width="10.75" height="1.05" fill="#d6d9ef"/><rect x="139.10" y="359.13" width="10.75" height="1.05" fill="#f7e5e9"/><rect x="42.80" y="360.12" width="10.75" height="1.05" fill="#f6e0e5"/><rect x="53.50" y="360.12" width="10.75" height="1.05" fill="#f4c4c8"/><rect x="64.20" y="360.12" width="10.75" height="1.05" fill="#f8f2f6"/><rect x="74.90" y="360.12" width="10.75" height="1.05" fill="#f6dade"/><rect x="85.60" y="360.12" width="10.75" height="1.05" fill="#d0d3ec"/><rect x="96.30" y="360.12" width="10.75" height="1.05" fill="#f7f0f4"/><rect x="107.00" y="360.12" width="10.75" height="1.05" fill="#e1e3f3"/><rect x="117.70" y="360.12" width="10.75" height="1.05" fill="#f5d3d8"/><rect x="128.40" y="360.12" width="10.75" height="1.05" fill="#f4f4fa"/><rect x="139.10" y="360.12" width="10.75" height="1.05" fill="#f8f7fb"/><rect x="42.80" y="361.11" width="10.75" height="1.05" fill="#f3bbbf"/><rect x="53.50" y="361.11" width="10.75" height="1.05" fill="#f4c6ca"/><rect x="64.20" y="361.11" width="10.75" height="1.05" fill="#d6d9ef"/><rect x="74.90" y="361.11" width="10.75" height="1.05" fill="#f7e6ea"/><rect x="85.60" y="361.11" width="10.75" height="1.05" fill="#dee0f2"/><rect x="96.30" y="361.11" width="10.75" height="1.05" fill="#f2a3a7"/><rect x="107.00" y="361.11" width="10.75" height="1.05" fill="#f7f0f4"/><rect x="117.70" y="361.11" width="10.75" height="1.05" fill="#f6e3e8"/><rect x="128.40" y="361.11" width="10.75" height="1.05" fill="#f4c7cb"/><rect x="139.10" y="361.11" width="10.75" height="1.05" fill="#f4bfc3"/><rect x="42.80" y="362.11" width="10.75" height="1.05" fill="#f2a6aa"/><rect x="53.50" y="362.11" width="10.75" height="1.05" fill="#f1989d"/><rect x="64.20" y="362.11" width="10.75" height="1.05" fill="#e8e9f6"/><rect x="74.90" y="362.11" width="10.75" height="1.05" fill="#f8f3f7"/><rect x="85.60" y="362.11" width="10.75" height="1.05" fill="#bfc5e6"/><rect x="96.30" y="362.11" width="10.75" height="1.05" fill="#f4c8cc"/><rect x="107.00" y="362.11" width="10.75" height="1.05" fill="#d3d7ee"/><rect x="117.70" y="362.11" width="10.75" height="1.05" fill="#f8f2f6"/><rect x="128.40" y="362.11" width="10.75" height="1.05" fill="#f3b2b7"/><rect x="139.10" y="362.11" width="10.75" height="1.05" fill="#f4c1c6"/><rect x="42.80" y="363.10" width="10.75" height="1.05" fill="#f6dadf"/><rect x="53.50" y="363.10" width="10.75" height="1.05" fill="#f3b4b9"/><rect x="64.20" y="363.10" width="10.75" height="1.05" fill="#f7ecf0"/><rect x="74.90" y="363.10" width="10.75" height="1.05" fill="#f4c8cc"/><rect x="85.60" y="363.10" width="10.75" height="1.05" fill="#a4abdb"/><rect x="96.30" y="363.10" width="10.75" height="1.05" fill="#f6dce0"/><rect x="107.00" y="363.10" width="10.75" height="1.05" fill="#f7edf1"/><rect x="117.70" y="363.10" width="10.75" height="1.05" fill="#ebecf7"/><rect x="128.40" y="363.10" width="10.75" height="1.05" fill="#f5cfd3"/><rect x="139.10" y="363.10" width="10.75" height="1.05" fill="#f5d6da"/><rect x="42.80" y="364.09" width="10.75" height="1.05" fill="#f7e5e9"/><rect x="53.50" y="364.09" width="10.75" height="1.05" fill="#f3afb4"/><rect x="64.20" y="364.09" width="10.75" height="1.05" fill="#cdd1eb"/><rect x="74.90" y="364.09" width="10.75" height="1.05" fill="#f8f3f7"/><rect x="85.60" y="364.09" width="10.75" height="1.05" fill="#bec3e5"/><rect x="96.30" y="364.09" width="10.75" height="1.05" fill="#f2a2a7"/><rect x="107.00" y="364.09" width="10.75" height="1.05" fill="#f7e5e9"/><rect x="117.70" y="364.09" width="10.75" height="1.05" fill="#f1f2f9"/><rect x="128.40" y="364.09" width="10.75" height="1.05" fill="#f3aeb3"/><rect x="139.10" y="364.09" width="10.75" height="1.05" fill="#f5d1d6"/><rect x="42.80" y="365.08" width="10.75" height="1.05" fill="#f6dce0"/><rect x="53.50" y="365.08" width="10.75" height="1.05" fill="#f19ba0"/><rect x="64.20" y="365.08" width="10.75" height="1.05" fill="#cfd3ec"/><rect x="74.90" y="365.08" width="10.75" height="1.05" fill="#f7e5e9"/><rect x="85.60" y="365.08" width="10.75" height="1.05" fill="#adb4df"/><rect x="96.30" y="365.08" width="10.75" height="1.05" fill="#f4c3c7"/><rect x="107.00" y="365.08" width="10.75" height="1.05" fill="#c8cce9"/><rect x="117.70" y="365.08" width="10.75" height="1.05" fill="#f8f5f9"/><rect x="128.40" y="365.08" width="10.75" height="1.05" fill="#f3b6ba"/><rect x="139.10" y="365.08" width="10.75" height="1.05" fill="#f5d0d5"/><rect x="42.80" y="366.08" width="10.75" height="1.05" fill="#f4c7cb"/><rect x="53.50" y="366.08" width="10.75" height="1.05" fill="#f5d5d9"/><rect x="64.20" y="366.08" width="10.75" height="1.05" fill="#f0f1f9"/><rect x="74.90" y="366.08" width="10.75" height="1.05" fill="#e7e9f6"/><rect x="85.60" y="366.08" width="10.75" height="1.05" fill="#9ba4d8"/><rect x="96.30" y="366.08" width="10.75" height="1.05" fill="#f3bbbf"/><rect x="107.00" y="366.08" width="10.75" height="1.05" fill="#f7ecf1"/><rect x="117.70" y="366.08" width="10.75" height="1.05" fill="#f4c6ca"/><rect x="128.40" y="366.08" width="10.75" height="1.05" fill="#f3b4b9"/><rect x="139.10" y="366.08" width="10.75" height="1.05" fill="#f6d7db"/><rect x="42.80" y="367.07" width="10.75" height="1.05" fill="#f2adb2"/><rect x="53.50" y="367.07" width="10.75" height="1.05" fill="#f2a2a7"/><rect x="64.20" y="367.07" width="10.75" height="1.05" fill="#dddff1"/><rect x="74.90" y="367.07" width="10.75" height="1.05" fill="#b9bfe4"/><rect x="85.60" y="367.07" width="10.75" height="1.05" fill="#9aa3d7"/><rect x="96.30" y="367.07" width="10.75" height="1.05" fill="#f7e4e9"/><rect x="107.00" y="367.07" width="10.75" height="1.05" fill="#b9bfe4"/><rect x="117.70" y="367.07" width="10.75" height="1.05" fill="#f7e8ed"/><rect x="128.40" y="367.07" width="10.75" height="1.05" fill="#f4c1c6"/><rect x="139.10" y="367.07" width="10.75" height="1.05" fill="#f4c6ca"/><rect x="42.80" y="368.06" width="10.75" height="1.05" fill="#f3b2b7"/><rect x="53.50" y="368.06" width="10.75" height="1.05" fill="#f1979c"/><rect x="64.20" y="368.06" width="10.75" height="1.05" fill="#c7cce9"/><rect x="74.90" y="368.06" width="10.75" height="1.05" fill="#bfc4e6"/><rect x="85.60" y="368.06" width="10.75" height="1.05" fill="#afb6e0"/><rect x="96.30" y="368.06" width="10.75" height="1.05" fill="#f5cfd4"/><rect x="107.00" y="368.06" width="10.75" height="1.05" fill="#eaebf7"/><rect x="117.70" y="368.06" width="10.75" height="1.05" fill="#f19ea3"/><rect x="128.40" y="368.06" width="10.75" height="1.05" fill="#f2a5aa"/><rect x="139.10" y="368.06" width="10.75" height="1.05" fill="#f5d3d7"/><rect x="42.80" y="369.05" width="10.75" height="1.05" fill="#f6e0e4"/><rect x="53.50" y="369.05" width="10.75" height="1.05" fill="#f4c3c7"/><rect x="64.20" y="369.05" width="10.75" height="1.05" fill="#b8bee3"/><rect x="74.90" y="369.05" width="10.75" height="1.05" fill="#d4d7ee"/><rect x="85.60" y="369.05" width="10.75" height="1.05" fill="#d2d5ed"/><rect x="96.30" y="369.05" width="10.75" height="1.05" fill="#f8f7fb"/><rect x="107.00" y="369.05" width="10.75" height="1.05" fill="#f3b6bb"/><rect x="117.70" y="369.05" width="10.75" height="1.05" fill="#f3b2b7"/><rect x="128.40" y="369.05" width="10.75" height="1.05" fill="#f08c91"/><rect x="139.10" y="369.05" width="10.75" height="1.05" fill="#f3bbbf"/><rect x="42.80" y="370.05" width="10.75" height="1.05" fill="#f7edf1"/><rect x="53.50" y="370.05" width="10.75" height="1.05" fill="#f3b9bd"/><rect x="64.20" y="370.05" width="10.75" height="1.05" fill="#d5d8ee"/><rect x="74.90" y="370.05" width="10.75" height="1.05" fill="#f7ecf0"/><rect x="85.60" y="370.05" width="10.75" height="1.05" fill="#e7e8f5"/><rect x="96.30" y="370.05" width="10.75" height="1.05" fill="#f5d3d7"/><rect x="107.00" y="370.05" width="10.75" height="1.05" fill="#f5d1d5"/><rect x="117.70" y="370.05" width="10.75" height="1.05" fill="#f5d5d9"/><rect x="128.40" y="370.05" width="10.75" height="1.05" fill="#f5c9ce"/><rect x="139.10" y="370.05" width="10.75" height="1.05" fill="#f6dfe3"/><rect x="42.80" y="371.04" width="10.75" height="1.05" fill="#e5e6f4"/><rect x="53.50" y="371.04" width="10.75" height="1.05" fill="#f5d0d4"/><rect x="64.20" y="371.04" width="10.75" height="1.05" fill="#c3c8e7"/><rect x="74.90" y="371.04" width="10.75" height="1.05" fill="#f5d6da"/><rect x="85.60" y="371.04" width="10.75" height="1.05" fill="#dfe1f2"/><rect x="96.30" y="371.04" width="10.75" height="1.05" fill="#f4bbc0"/><rect x="107.00" y="371.04" width="10.75" height="1.05" fill="#f4c6cb"/><rect x="117.70" y="371.04" width="10.75" height="1.05" fill="#f3b2b7"/><rect x="128.40" y="371.04" width="10.75" height="1.05" fill="#f6dade"/><rect x="139.10" y="371.04" width="10.75" height="1.05" fill="#f3b9be"/><rect x="42.80" y="372.03" width="10.75" height="1.05" fill="#f7f8fc"/><rect x="53.50" y="372.03" width="10.75" height="1.05" fill="#f4c4c9"/><rect x="64.20" y="372.03" width="10.75" height="1.05" fill="#f7eff3"/><rect x="74.90" y="372.03" width="10.75" height="1.05" fill="#f5cbd0"/><rect x="85.60" y="372.03" width="10.75" height="1.05" fill="#d9dcf0"/><rect x="96.30" y="372.03" width="10.75" height="1.05" fill="#f4bcc0"/><rect x="107.00" y="372.03" width="10.75" height="1.05" fill="#f7ecf0"/><rect x="117.70" y="372.03" width="10.75" height="1.05" fill="#f4c4c8"/><rect x="128.40" y="372.03" width="10.75" height="1.05" fill="#f7e6ea"/><rect x="139.10" y="372.03" width="10.75" height="1.05" fill="#f5cace"/><rect x="42.80" y="373.02" width="10.75" height="1.05" fill="#f7e9ed"/><rect x="53.50" y="373.02" width="10.75" height="1.05" fill="#d9dcf0"/><rect x="64.20" y="373.02" width="10.75" height="1.05" fill="#f8f1f6"/><rect x="74.90" y="373.02" width="10.75" height="1.05" fill="#f5cbcf"/><rect x="85.60" y="373.02" width="10.75" height="1.05" fill="#dbddf1"/><rect x="96.30" y="373.02" width="10.75" height="1.05" fill="#f5d0d4"/><rect x="107.00" y="373.02" width="10.75" height="1.05" fill="#f7e9ed"/><rect x="117.70" y="373.02" width="10.75" height="1.05" fill="#f2adb2"/><rect x="128.40" y="373.02" width="10.75" height="1.05" fill="#f5d1d5"/><rect x="139.10" y="373.02" width="10.75" height="1.05" fill="#f3b1b6"/><rect x="42.80" y="374.02" width="10.75" height="1.05" fill="#f6e1e5"/><rect x="53.50" y="374.02" width="10.75" height="1.05" fill="#f5d4d8"/><rect x="64.20" y="374.02" width="10.75" height="1.05" fill="#f2f2fa"/><rect x="74.90" y="374.02" width="10.75" height="1.05" fill="#f4c7cc"/><rect x="85.60" y="374.02" width="10.75" height="1.05" fill="#d5d8ee"/><rect x="96.30" y="374.02" width="10.75" height="1.05" fill="#f5d1d5"/><rect x="107.00" y="374.02" width="10.75" height="1.05" fill="#dfe2f2"/><rect x="117.70" y="374.02" width="10.75" height="1.05" fill="#f6e1e5"/><rect x="128.40" y="374.02" width="10.75" height="1.05" fill="#f5cbd0"/><rect x="139.10" y="374.02" width="10.75" height="1.05" fill="#f5d5d9"/><rect x="42.80" y="375.01" width="10.75" height="1.05" fill="#e7e9f6"/><rect x="53.50" y="375.01" width="10.75" height="1.05" fill="#f5d1d6"/><rect x="64.20" y="375.01" width="10.75" height="1.05" fill="#e8eaf6"/><rect x="74.90" y="375.01" width="10.75" height="1.05" fill="#f5d5da"/><rect x="85.60" y="375.01" width="10.75" height="1.05" fill="#cdd1eb"/><rect x="96.30" y="375.01" width="10.75" height="1.05" fill="#f4c8cd"/><rect x="107.00" y="375.01" width="10.75" height="1.05" fill="#bac0e4"/><rect x="117.70" y="375.01" width="10.75" height="1.05" fill="#f5d2d7"/><rect x="128.40" y="375.01" width="10.75" height="1.05" fill="#f5cfd4"/><rect x="139.10" y="375.01" width="10.75" height="1.05" fill="#f7edf1"/></g>
<path d="M38.8 207.60L42.8 207.60L42.8 375.70L35.8 375.70Z" fill="#000"/>
<path d="M42.80 207.80H37.11V208.79H42.80M42.80 209.78H37.01V210.77H42.80M37.11 208.29H36.74V210.28H37.01M36.74 209.28H36.23V211.77H42.80M42.80 213.75H38.07V214.74H42.80M38.07 214.25H37.61V215.74H42.80M37.61 214.99H37.09V216.73H42.80M42.80 212.76H36.23V215.86H37.09M42.80 217.72H36.70V218.71H42.80M36.23 214.31H35.55V218.22H36.70M36.23 210.53H35.20V216.26H35.55M42.80 220.70H36.25V221.69H42.80M36.25 221.19H35.69V222.68H42.80M42.80 219.70H35.08V221.94H35.69M42.80 225.66H38.37V226.65H42.80M38.37 226.15H37.80V227.64H42.80M42.80 228.64H38.28V229.63H42.80M37.80 226.90H37.45V229.13H38.28M42.80 224.67H36.54V228.02H37.45M42.80 223.67H35.91V226.34H36.54M35.91 225.01H35.27V230.62H42.80M35.08 220.82H34.50V227.81H35.27M35.20 213.39H33.40V224.32H34.50M42.80 233.60H35.64V234.59H42.80M42.80 232.61H34.64V234.09H35.64M42.80 235.58H35.41V236.57H42.80M42.80 239.55H38.42V240.54H42.80M38.42 240.05H37.73V241.54H42.80M42.80 238.56H37.34V240.79H37.73M42.80 237.57H36.59V239.68H37.34M36.59 238.62H35.47V242.53H42.80M35.41 236.08H34.91V240.57H35.47M34.64 233.35H34.13V238.33H34.91M42.80 231.61H33.00V235.84H34.13M33.40 218.86H31.80V233.73H33.00M42.80 245.51H35.86V246.50H42.80M42.80 244.51H35.34V246.00H35.86M35.34 245.26H34.03V247.49H42.80M42.80 243.52H32.93V246.37H34.03M42.80 248.48H32.35V249.48H42.80M32.93 244.95H31.91V248.98H32.35M42.80 251.46H35.36V252.45H42.80M42.80 253.44H34.48V254.44H42.80M35.36 251.96H34.02V253.94H34.48M42.80 250.47H32.84V252.95H34.02M31.91 246.96H31.50V251.71H32.84M31.80 226.29H30.20V249.34H31.50M42.80 256.42H32.45V257.41H42.80M42.80 255.43H31.32V256.92H32.45M42.80 258.41H33.74V259.40H42.80M33.74 258.90H32.77V260.39H42.80M42.80 261.38H33.69V262.38H42.80M33.69 261.88H32.45V263.37H42.80M32.77 259.65H32.07V262.62H32.45M42.80 265.35H33.95V266.35H42.80M42.80 264.36H32.50V265.85H33.95M32.07 261.14H31.65V265.10H32.50M31.65 263.12H31.18V267.34H42.80M31.32 256.17H30.45V265.23H31.18M30.45 260.70H30.00V268.33H42.80M30.20 237.81H28.40V264.52H30.00M42.80 270.31H33.57V271.31H42.80M42.80 269.32H32.01V270.81H33.57M32.01 270.07H30.68V272.30H42.80M42.80 274.28H32.91V275.28H42.80M42.80 273.29H32.06V274.78H32.91M42.80 276.27H31.93V277.26H42.80M32.06 274.04H31.54V276.76H31.93M42.80 278.25H35.57V279.25H42.80M42.80 280.24H35.98V281.23H42.80M35.57 278.75H34.93V280.73H35.98M34.93 279.74H33.70V282.22H42.80M33.70 280.98H32.50V283.22H42.80M31.54 275.40H31.03V282.10H32.50M31.03 278.75H29.93V284.21H42.80M30.68 271.18H28.50V281.48H29.93M28.40 251.16H25.60V276.33H28.50M42.80 286.19H31.26V287.18H42.80M31.26 286.69H30.21V288.18H42.80M42.80 290.16H32.81V291.15H42.80M42.80 289.17H32.19V290.66H32.81M32.19 289.91H30.84V292.15H42.80M30.21 287.43H29.14V291.03H30.84M42.80 293.14H31.39V294.13H42.80M31.39 293.63H30.79V295.12H42.80M42.80 296.12H35.23V297.11H42.80M35.23 296.61H33.89V298.10H42.80M33.89 297.36H32.96V299.09H42.80M32.96 298.22H32.20V300.09H42.80M32.20 299.15H30.92V301.08H42.80M30.79 294.38H29.85V300.12H30.92M29.14 289.23H28.32V297.25H29.85M42.80 285.20H26.00V293.24H28.32M25.60 263.75H23.20V289.22H26.00M42.80 302.07H30.99V303.06H42.80M30.99 302.57H29.44V304.05H42.80M42.80 305.05H33.12V306.04H42.80M33.12 305.54H32.18V307.03H42.80M32.18 306.29H30.41V308.02H42.80M42.80 310.01H31.01V311.00H42.80M42.80 309.02H29.97V310.50H31.01M30.41 307.16H28.25V309.76H29.97M29.44 303.31H27.39V308.46H28.25M42.80 311.99H33.79V312.99H42.80M42.80 313.98H34.19V314.97H42.80M34.19 314.47H33.50V315.96H42.80M33.79 312.49H32.32V315.22H33.50M32.32 313.85H30.88V316.96H42.80M42.80 319.93H32.65V320.92H42.80M42.80 318.94H31.97V320.43H32.65M42.80 317.95H31.38V319.68H31.97M30.88 315.40H29.60V318.82H31.38M29.60 317.11H28.31V321.92H42.80M42.80 322.91H33.05V323.90H42.80M42.80 325.89H35.21V326.88H42.80M42.80 327.87H34.97V328.86H42.80M34.97 328.37H34.44V329.86H42.80M35.21 326.38H34.10V329.11H34.44M42.80 324.89H33.08V327.75H34.10M33.05 323.41H32.59V326.32H33.08M32.59 324.86H30.68V330.85H42.80M42.80 332.83H30.89V333.82H42.80M42.80 331.84H30.02V333.33H30.89M30.68 327.86H29.53V332.58H30.02M28.31 319.51H27.60V330.22H29.53M27.39 305.88H25.00V324.87H27.60M42.80 334.82H28.91V335.81H42.80M42.80 336.80H32.20V337.79H42.80M32.20 337.30H31.29V338.79H42.80M42.80 339.78H35.66V340.77H42.80M35.66 340.28H35.02V341.76H42.80M42.80 342.76H34.40V343.75H42.80M35.02 341.02H33.92V343.25H34.40M33.92 342.14H32.56V344.74H42.80M42.80 346.73H34.34V347.72H42.80M34.34 347.22H33.69V348.71H42.80M42.80 345.73H33.30V347.97H33.69M42.80 350.69H35.81V351.69H42.80M35.81 351.19H34.54V352.68H42.80M42.80 349.70H33.71V351.94H34.54M33.30 346.85H32.54V350.82H33.71M32.56 343.44H31.18V348.83H32.54M31.29 338.04H30.21V346.14H31.18M42.80 353.67H31.21V354.66H42.80M31.21 354.17H29.20V355.66H42.80M30.21 342.09H27.89V354.91H29.20M28.91 335.31H26.50V348.50H27.89M42.80 356.65H33.15V357.64H42.80M42.80 358.63H32.12V359.63H42.80M33.15 357.15H31.36V359.13H32.12M42.80 360.62H33.66V361.61H42.80M33.66 361.11H32.73V362.60H42.80M42.80 365.58H35.87V366.57H42.80M42.80 364.59H34.81V366.08H35.87M42.80 368.56H35.61V369.55H42.80M42.80 367.56H34.66V369.05H35.61M34.81 365.33H33.84V368.31H34.66M33.84 366.82H33.50V370.54H42.80M42.80 363.60H32.21V368.68H33.50M32.73 361.86H30.83V366.14H32.21M31.36 358.14H29.38V364.00H30.83M42.80 371.53H32.77V372.53H42.80M32.77 372.03H31.19V373.52H42.80M31.19 372.77H30.12V374.51H42.80M30.12 373.64H28.46V375.50H42.80M29.38 361.07H27.00V374.57H28.46M26.50 341.91H23.00V367.82H27.00M25.00 315.38H22.00V354.86H23.00M23.20 276.48H20.90V335.12H22.00" fill="none" stroke="#000" stroke-width="1.1"/>
<defs><linearGradient id="gC" x1="0" y1="0" x2="0" y2="1"><stop offset="0.000" stop-color="#e61e26"/><stop offset="0.250" stop-color="#f08c91"/><stop offset="0.500" stop-color="#f8f8fc"/><stop offset="0.750" stop-color="#8c96d2"/><stop offset="1.000" stop-color="#2c3ea0"/></linearGradient></defs>
<rect x="151.80" y="207.60" width="4.00" height="62.40" fill="url(#gC)"/>
<text class="s" x="151.30" y="205.30" font-size="4.8" font-weight="bold" fill="#222" stroke="#222" stroke-width="0.12">Group</text>
<text class="s" x="157.30" y="218.80" font-size="5.2" fill="#222" stroke="#222" stroke-width="0.12">2</text>
<text class="s" x="157.30" y="229.60" font-size="5.2" fill="#222" stroke="#222" stroke-width="0.12">1</text>
<text class="s" x="157.30" y="240.50" font-size="5.2" fill="#222" stroke="#222" stroke-width="0.12">0</text>
<text class="s" x="156.20" y="251.40" font-size="5.2" fill="#222" stroke="#222" stroke-width="0.12">- 1</text>
<text class="s" x="156.20" y="262.60" font-size="5.2" fill="#222" stroke="#222" stroke-width="0.12">- 2</text>
<text class="s" x="166.40" y="210.80" font-size="4.8" font-weight="bold" fill="#222" stroke="#222" stroke-width="0.12">Group</text>
<rect x="166.40" y="212.70" width="7.20" height="7.30" fill="#3fbdcb"/>
<rect x="166.40" y="220.40" width="7.20" height="7.10" fill="#f08a84"/>
<text class="s" x="175.00" y="218.20" font-size="5.0" fill="#222" stroke="#222" stroke-width="0.12">Con</text>
<text class="s" x="175.00" y="225.80" font-size="5.0" fill="#222" stroke="#222" stroke-width="0.12">CUMSN</text>
<text class="s" x="213.40" y="206.80" font-size="5.75" font-weight="bold" fill="#111" stroke="#111" stroke-width="0.12">Total Number of Genes: 28374</text>
<line x1="213.00" y1="212.30" x2="213.00" y2="364.10" stroke="#7a7a7a" stroke-width="1.4"/>
<line x1="212.30" y1="363.50" x2="314.30" y2="363.50" stroke="#7a7a7a" stroke-width="1.4"/>
<line x1="210.60" y1="362.90" x2="213.00" y2="362.90" stroke="#7a7a7a" stroke-width="0.9"/>
<text class="s" x="209.40" y="364.90" font-size="5.6" text-anchor="end" fill="#555" stroke="#555" stroke-width="0.12">0</text>
<line x1="210.60" y1="322.40" x2="213.00" y2="322.40" stroke="#7a7a7a" stroke-width="0.9"/>
<text class="s" x="209.40" y="324.40" font-size="5.6" text-anchor="end" fill="#555" stroke="#555" stroke-width="0.12">2</text>
<line x1="210.60" y1="281.90" x2="213.00" y2="281.90" stroke="#7a7a7a" stroke-width="0.9"/>
<text class="s" x="209.40" y="283.90" font-size="5.6" text-anchor="end" fill="#555" stroke="#555" stroke-width="0.12">4</text>
<line x1="210.60" y1="241.40" x2="213.00" y2="241.40" stroke="#7a7a7a" stroke-width="0.9"/>
<text class="s" x="209.40" y="243.40" font-size="5.6" text-anchor="end" fill="#555" stroke="#555" stroke-width="0.12">6</text>
<line x1="234.10" y1="363.50" x2="234.10" y2="365.80" stroke="#7a7a7a" stroke-width="0.9"/>
<text class="s" x="234.10" y="371.30" font-size="5.6" text-anchor="middle" fill="#555" stroke="#555" stroke-width="0.12">-2.5</text>
<line x1="258.30" y1="363.50" x2="258.30" y2="365.80" stroke="#7a7a7a" stroke-width="0.9"/>
<text class="s" x="258.30" y="371.30" font-size="5.6" text-anchor="middle" fill="#555" stroke="#555" stroke-width="0.12">0.0</text>
<line x1="282.50" y1="363.50" x2="282.50" y2="365.80" stroke="#7a7a7a" stroke-width="0.9"/>
<text class="s" x="282.50" y="371.30" font-size="5.6" text-anchor="middle" fill="#555" stroke="#555" stroke-width="0.12">2.5</text>
<line x1="306.70" y1="363.50" x2="306.70" y2="365.80" stroke="#7a7a7a" stroke-width="0.9"/>
<text class="s" x="306.70" y="371.30" font-size="5.6" text-anchor="middle" fill="#555" stroke="#555" stroke-width="0.12">5.0</text>
<text class="s" x="264.2" y="378.4" font-size="5.8" text-anchor="middle" fill="#333" stroke="#333" stroke-width="0.1">Log<tspan font-size="3.9" dy="1.3">2</tspan><tspan dy="-1.3"> Fold Change</tspan></text>
<clipPath id="clipYL"><rect x="199.4" y="200" width="10" height="150"/></clipPath>
<g clip-path="url(#clipYL)"><text class="s" x="201.9" y="286.5" font-size="5.8" text-anchor="middle" fill="#333" transform="rotate(-90 201.9 286.5)">− Log<tspan font-size="3.9" dy="1.3">10</tspan><tspan dy="-1.3"> P-value</tspan></text></g>
<path d="M257.14 362.90 L256.20 362.39 L255.55 361.89 L254.99 361.38 L254.47 360.88 L253.98 360.37 L253.52 359.86 L253.08 359.36 L252.65 358.85 L252.24 358.34 L251.83 357.84 L251.44 357.33 L251.06 356.82 L250.68 356.32 L250.31 355.81 L249.95 355.31 L249.59 354.80 L249.24 354.29 L248.89 353.79 L248.55 353.28 L248.22 352.77 L247.88 352.27 L247.56 351.76 L247.23 351.26 L246.91 350.75 L246.59 350.24 L246.28 349.74 L245.97 349.23 L245.66 348.72 L245.35 348.22 L245.05 347.71 L244.75 347.21 L244.45 346.70 L244.15 346.19 L243.86 345.69 L243.56 345.18 L243.27 344.67 L242.99 344.17 L242.70 343.66 L242.42 343.16 L242.13 342.65 L241.85 342.14 L241.58 341.64 L241.30 341.13 L241.02 340.62 L240.75 340.12 L240.48 339.61 L240.21 339.11 L239.94 338.60 L239.67 338.09 L239.40 337.59 L239.14 337.08 L238.87 336.57 L238.86 336.55 L276.96 336.55 L276.95 336.57 L276.69 337.08 L276.43 337.59 L276.18 338.09 L275.92 338.60 L275.65 339.11 L275.39 339.61 L275.13 340.12 L274.86 340.62 L274.60 341.13 L274.33 341.64 L274.06 342.14 L273.79 342.65 L273.51 343.16 L273.24 343.66 L272.96 344.17 L272.68 344.67 L272.40 345.18 L272.12 345.69 L271.84 346.19 L271.55 346.70 L271.26 347.21 L270.97 347.71 L270.68 348.22 L270.38 348.72 L270.08 349.23 L269.78 349.74 L269.47 350.24 L269.17 350.75 L268.86 351.26 L268.54 351.76 L268.22 352.27 L267.90 352.77 L267.58 353.28 L267.25 353.79 L266.91 354.29 L266.57 354.80 L266.23 355.31 L265.88 355.81 L265.52 356.32 L265.15 356.82 L264.78 357.33 L264.40 357.84 L264.01 358.34 L263.61 358.85 L263.20 359.36 L262.77 359.86 L262.32 360.37 L261.85 360.88 L261.35 361.38 L260.80 361.89 L260.18 362.39 L259.27 362.90Z" fill="#606060"/>
<g fill="#6a6a6a"><circle cx="248.2" cy="355.1" r="0.8"/><circle cx="242.1" cy="345.7" r="0.8"/><circle cx="262.2" cy="360.6" r="0.8"/><circle cx="237.7" cy="336.7" r="0.8"/><circle cx="240.3" cy="340.5" r="0.8"/><circle cx="273.0" cy="345.4" r="0.8"/><circle cx="271.0" cy="348.2" r="0.8"/><circle cx="241.5" cy="342.5" r="0.8"/><circle cx="247.4" cy="353.6" r="0.8"/><circle cx="274.9" cy="343.4" r="0.8"/><circle cx="275.8" cy="343.5" r="0.8"/><circle cx="271.5" cy="350.1" r="0.8"/><circle cx="239.6" cy="339.5" r="0.8"/><circle cx="238.4" cy="337.4" r="0.8"/><circle cx="242.1" cy="345.6" r="0.8"/><circle cx="247.9" cy="352.3" r="0.8"/><circle cx="273.2" cy="346.7" r="0.8"/><circle cx="278.8" cy="340.1" r="0.8"/><circle cx="240.3" cy="344.6" r="0.8"/><circle cx="236.6" cy="338.9" r="0.8"/><circle cx="241.5" cy="343.5" r="0.8"/><circle cx="247.0" cy="354.0" r="0.8"/><circle cx="277.8" cy="340.1" r="0.8"/><circle cx="245.4" cy="350.9" r="0.8"/><circle cx="267.6" cy="353.7" r="0.8"/><circle cx="243.6" cy="345.9" r="0.8"/><circle cx="239.0" cy="343.4" r="0.8"/><circle cx="273.8" cy="348.6" r="0.8"/><circle cx="248.2" cy="353.4" r="0.8"/><circle cx="250.2" cy="356.1" r="0.8"/><circle cx="240.7" cy="346.0" r="0.8"/><circle cx="268.5" cy="353.2" r="0.8"/><circle cx="238.1" cy="339.1" r="0.8"/><circle cx="243.1" cy="345.2" r="0.8"/><circle cx="242.9" cy="347.3" r="0.8"/><circle cx="270.1" cy="350.4" r="0.8"/><circle cx="247.7" cy="355.1" r="0.8"/><circle cx="244.7" cy="347.5" r="0.8"/><circle cx="244.5" cy="350.8" r="0.8"/><circle cx="243.5" cy="345.5" r="0.8"/><circle cx="243.1" cy="345.6" r="0.8"/><circle cx="274.7" cy="343.7" r="0.8"/><circle cx="251.9" cy="360.3" r="0.8"/><circle cx="245.6" cy="354.8" r="0.8"/><circle cx="243.3" cy="346.5" r="0.8"/><circle cx="246.5" cy="351.9" r="0.8"/><circle cx="248.7" cy="353.6" r="0.8"/><circle cx="271.8" cy="347.0" r="0.8"/><circle cx="248.2" cy="353.3" r="0.8"/><circle cx="249.5" cy="356.3" r="0.8"/><circle cx="242.2" cy="343.9" r="0.8"/><circle cx="239.6" cy="340.6" r="0.8"/><circle cx="239.4" cy="340.1" r="0.8"/><circle cx="238.2" cy="339.4" r="0.8"/><circle cx="248.9" cy="355.4" r="0.8"/><circle cx="274.7" cy="341.3" r="0.8"/><circle cx="249.9" cy="356.4" r="0.8"/><circle cx="239.0" cy="341.3" r="0.8"/><circle cx="251.4" cy="357.7" r="0.8"/><circle cx="246.7" cy="352.5" r="0.8"/><circle cx="246.0" cy="350.7" r="0.8"/><circle cx="262.4" cy="360.8" r="0.8"/><circle cx="279.4" cy="339.5" r="0.8"/><circle cx="238.1" cy="338.3" r="0.8"/><circle cx="274.8" cy="342.8" r="0.8"/><circle cx="247.1" cy="353.9" r="0.8"/><circle cx="248.8" cy="355.3" r="0.8"/><circle cx="240.6" cy="341.2" r="0.8"/><circle cx="279.0" cy="338.9" r="0.8"/><circle cx="238.4" cy="339.0" r="0.8"/><circle cx="262.8" cy="360.6" r="0.8"/><circle cx="242.0" cy="344.8" r="0.8"/><circle cx="270.3" cy="350.8" r="0.8"/><circle cx="267.6" cy="354.7" r="0.8"/><circle cx="270.7" cy="349.3" r="0.8"/><circle cx="271.8" cy="347.9" r="0.8"/><circle cx="268.0" cy="356.7" r="0.8"/><circle cx="239.7" cy="340.9" r="0.8"/><circle cx="273.5" cy="345.6" r="0.8"/><circle cx="248.9" cy="354.3" r="0.8"/><circle cx="246.8" cy="350.6" r="0.8"/><circle cx="253.1" cy="359.5" r="0.8"/><circle cx="248.5" cy="357.8" r="0.8"/><circle cx="252.1" cy="358.8" r="0.8"/><circle cx="247.0" cy="353.2" r="0.8"/><circle cx="242.4" cy="346.6" r="0.8"/><circle cx="249.0" cy="356.2" r="0.8"/><circle cx="241.0" cy="343.5" r="0.8"/><circle cx="251.1" cy="358.9" r="0.8"/><circle cx="240.0" cy="341.9" r="0.8"/><circle cx="239.9" cy="341.4" r="0.8"/><circle cx="271.0" cy="348.8" r="0.8"/><circle cx="270.5" cy="350.7" r="0.8"/><circle cx="271.2" cy="347.9" r="0.8"/><circle cx="249.7" cy="359.1" r="0.8"/><circle cx="238.1" cy="338.1" r="0.8"/><circle cx="275.8" cy="339.1" r="0.8"/><circle cx="266.3" cy="357.9" r="0.8"/><circle cx="273.3" cy="344.8" r="0.8"/><circle cx="239.9" cy="343.0" r="0.8"/><circle cx="251.3" cy="358.4" r="0.8"/><circle cx="241.8" cy="342.1" r="0.8"/><circle cx="251.7" cy="358.6" r="0.8"/><circle cx="263.1" cy="360.3" r="0.8"/><circle cx="265.9" cy="357.9" r="0.8"/><circle cx="236.5" cy="337.7" r="0.8"/><circle cx="241.3" cy="341.5" r="0.8"/><circle cx="240.5" cy="343.5" r="0.8"/><circle cx="275.2" cy="342.7" r="0.8"/><circle cx="271.9" cy="347.2" r="0.8"/><circle cx="249.7" cy="355.0" r="0.8"/><circle cx="239.7" cy="342.6" r="0.8"/><circle cx="246.6" cy="351.9" r="0.8"/><circle cx="251.2" cy="358.9" r="0.8"/><circle cx="239.2" cy="337.2" r="0.8"/><circle cx="274.0" cy="344.1" r="0.8"/><circle cx="240.7" cy="344.5" r="0.8"/><circle cx="239.9" cy="339.1" r="0.8"/><circle cx="265.7" cy="358.5" r="0.8"/><circle cx="270.6" cy="350.1" r="0.8"/><circle cx="250.0" cy="356.4" r="0.8"/><circle cx="246.3" cy="353.2" r="0.8"/><circle cx="273.8" cy="344.1" r="0.8"/><circle cx="271.7" cy="350.8" r="0.8"/><circle cx="244.4" cy="346.7" r="0.8"/><circle cx="245.6" cy="349.2" r="0.8"/><circle cx="249.6" cy="356.7" r="0.8"/><circle cx="267.4" cy="357.4" r="0.8"/><circle cx="242.7" cy="349.2" r="0.8"/><circle cx="240.5" cy="340.9" r="0.8"/><circle cx="271.2" cy="349.2" r="0.8"/><circle cx="275.0" cy="343.0" r="0.8"/><circle cx="245.9" cy="349.5" r="0.8"/><circle cx="275.6" cy="344.5" r="0.8"/><circle cx="240.3" cy="340.1" r="0.8"/><circle cx="266.8" cy="356.3" r="0.8"/><circle cx="275.3" cy="340.0" r="0.8"/><circle cx="245.1" cy="353.3" r="0.8"/><circle cx="239.7" cy="343.2" r="0.8"/><circle cx="247.1" cy="353.8" r="0.8"/><circle cx="273.1" cy="346.8" r="0.8"/><circle cx="246.5" cy="350.3" r="0.8"/><circle cx="248.6" cy="355.8" r="0.8"/><circle cx="244.5" cy="347.6" r="0.8"/><circle cx="269.7" cy="354.2" r="0.8"/><circle cx="237.7" cy="338.8" r="0.8"/><circle cx="239.2" cy="338.0" r="0.8"/><circle cx="270.2" cy="353.7" r="0.8"/><circle cx="272.8" cy="345.0" r="0.8"/><circle cx="279.4" cy="337.5" r="0.8"/><circle cx="243.5" cy="347.8" r="0.8"/><circle cx="273.4" cy="343.4" r="0.8"/><circle cx="243.2" cy="347.1" r="0.8"/><circle cx="267.3" cy="356.5" r="0.8"/><circle cx="242.6" cy="344.9" r="0.8"/><circle cx="268.3" cy="352.8" r="0.8"/><circle cx="243.1" cy="346.4" r="0.8"/><circle cx="247.0" cy="353.3" r="0.8"/><circle cx="263.4" cy="359.2" r="0.8"/><circle cx="240.1" cy="342.9" r="0.8"/><circle cx="259.6" cy="331.2" r="0.8"/><circle cx="261.9" cy="334.0" r="0.8"/><circle cx="263.5" cy="331.7" r="0.8"/><circle cx="262.6" cy="286.6" r="0.8"/><circle cx="262.1" cy="311.1" r="0.8"/><circle cx="253.9" cy="333.7" r="0.8"/><circle cx="256.0" cy="322.3" r="0.8"/><circle cx="262.6" cy="332.9" r="0.8"/><circle cx="254.3" cy="328.0" r="0.8"/><circle cx="263.2" cy="333.8" r="0.8"/><circle cx="254.3" cy="323.0" r="0.8"/><circle cx="261.3" cy="332.7" r="0.8"/><circle cx="263.5" cy="330.6" r="0.8"/><circle cx="261.8" cy="285.2" r="0.8"/><circle cx="262.8" cy="295.8" r="0.8"/><circle cx="263.6" cy="316.6" r="0.8"/><circle cx="254.1" cy="317.6" r="0.8"/><circle cx="256.3" cy="314.2" r="0.8"/><circle cx="254.5" cy="312.3" r="0.8"/><circle cx="260.6" cy="323.8" r="0.8"/><circle cx="256.6" cy="310.3" r="0.8"/><circle cx="260.1" cy="324.6" r="0.8"/><circle cx="256.5" cy="330.8" r="0.8"/><circle cx="256.6" cy="309.5" r="0.8"/><circle cx="254.6" cy="320.0" r="0.8"/><circle cx="261.0" cy="336.2" r="0.8"/><circle cx="256.1" cy="301.4" r="0.8"/><circle cx="253.6" cy="305.1" r="0.8"/><circle cx="264.0" cy="313.4" r="0.8"/><circle cx="253.2" cy="332.6" r="0.8"/><circle cx="254.7" cy="326.7" r="0.8"/><circle cx="255.2" cy="334.6" r="0.8"/><circle cx="254.8" cy="304.4" r="0.8"/><circle cx="254.5" cy="325.5" r="0.8"/><circle cx="261.1" cy="327.1" r="0.8"/><circle cx="261.7" cy="325.8" r="0.8"/><circle cx="253.7" cy="326.1" r="0.8"/><circle cx="261.7" cy="328.7" r="0.8"/><circle cx="260.6" cy="328.8" r="0.8"/><circle cx="255.9" cy="336.5" r="0.8"/><circle cx="262.1" cy="328.6" r="0.8"/><circle cx="256.3" cy="333.6" r="0.8"/><circle cx="254.1" cy="327.7" r="0.8"/><circle cx="255.0" cy="334.0" r="0.8"/><circle cx="255.2" cy="333.0" r="0.8"/><circle cx="253.8" cy="330.0" r="0.8"/><circle cx="259.4" cy="335.7" r="0.8"/><circle cx="255.8" cy="324.9" r="0.8"/><circle cx="256.3" cy="328.1" r="0.8"/><circle cx="263.6" cy="319.8" r="0.8"/><circle cx="261.0" cy="321.0" r="0.8"/><circle cx="263.2" cy="309.9" r="0.8"/><circle cx="259.6" cy="325.0" r="0.8"/><circle cx="261.1" cy="329.5" r="0.8"/><circle cx="263.8" cy="335.5" r="0.8"/><circle cx="256.4" cy="321.1" r="0.8"/><circle cx="256.0" cy="316.9" r="0.8"/><circle cx="256.3" cy="335.9" r="0.8"/><circle cx="260.6" cy="324.3" r="0.8"/><circle cx="263.7" cy="325.4" r="0.8"/><circle cx="254.6" cy="288.1" r="0.8"/><circle cx="260.3" cy="312.6" r="0.8"/><circle cx="260.0" cy="330.6" r="0.8"/><circle cx="262.1" cy="328.1" r="0.8"/><circle cx="260.8" cy="310.6" r="0.8"/><circle cx="263.4" cy="313.4" r="0.8"/><circle cx="255.2" cy="322.7" r="0.8"/><circle cx="254.9" cy="327.3" r="0.8"/><circle cx="261.1" cy="315.7" r="0.8"/><circle cx="263.8" cy="333.4" r="0.8"/><circle cx="253.8" cy="335.8" r="0.8"/><circle cx="259.7" cy="336.2" r="0.8"/><circle cx="255.3" cy="316.3" r="0.8"/><circle cx="253.1" cy="320.8" r="0.8"/><circle cx="262.2" cy="301.1" r="0.8"/><circle cx="264.0" cy="301.6" r="0.8"/><circle cx="255.2" cy="336.5" r="0.8"/><circle cx="259.9" cy="334.6" r="0.8"/><circle cx="256.0" cy="335.1" r="0.8"/><circle cx="252.9" cy="335.7" r="0.8"/><circle cx="256.7" cy="333.9" r="0.8"/><circle cx="256.0" cy="330.7" r="0.8"/><circle cx="262.0" cy="322.3" r="0.8"/><circle cx="263.3" cy="295.6" r="0.8"/><circle cx="254.7" cy="323.4" r="0.8"/><circle cx="253.3" cy="319.8" r="0.8"/><circle cx="253.2" cy="334.5" r="0.8"/><circle cx="259.7" cy="334.7" r="0.8"/><circle cx="253.3" cy="325.8" r="0.8"/><circle cx="254.0" cy="316.9" r="0.8"/><circle cx="261.8" cy="311.9" r="0.8"/><circle cx="255.4" cy="317.9" r="0.8"/><circle cx="263.4" cy="286.6" r="0.8"/><circle cx="254.9" cy="332.6" r="0.8"/><circle cx="255.1" cy="314.1" r="0.8"/><circle cx="252.9" cy="332.9" r="0.8"/><circle cx="261.8" cy="316.6" r="0.8"/><circle cx="255.6" cy="318.6" r="0.8"/><circle cx="255.0" cy="305.2" r="0.8"/><circle cx="255.8" cy="326.9" r="0.8"/><circle cx="253.7" cy="329.8" r="0.8"/><circle cx="263.7" cy="300.8" r="0.8"/><circle cx="261.4" cy="323.3" r="0.8"/><circle cx="261.8" cy="332.9" r="0.8"/><circle cx="262.0" cy="311.0" r="0.8"/><circle cx="255.5" cy="321.3" r="0.8"/><circle cx="253.0" cy="289.7" r="0.8"/><circle cx="255.7" cy="336.1" r="0.8"/><circle cx="259.7" cy="323.9" r="0.8"/><circle cx="262.1" cy="313.0" r="0.8"/><circle cx="262.9" cy="335.9" r="0.8"/><circle cx="260.6" cy="312.9" r="0.8"/><circle cx="261.7" cy="326.4" r="0.8"/><circle cx="263.0" cy="332.6" r="0.8"/><circle cx="263.9" cy="315.8" r="0.8"/><circle cx="263.8" cy="300.6" r="0.8"/><circle cx="261.8" cy="326.8" r="0.8"/><circle cx="260.9" cy="332.2" r="0.8"/><circle cx="263.2" cy="325.8" r="0.8"/><circle cx="252.9" cy="330.5" r="0.8"/><circle cx="256.3" cy="323.9" r="0.8"/><circle cx="256.2" cy="323.5" r="0.8"/><circle cx="252.7" cy="335.7" r="0.8"/><circle cx="263.9" cy="309.4" r="0.8"/><circle cx="254.5" cy="310.1" r="0.8"/><circle cx="261.6" cy="331.9" r="0.8"/><circle cx="254.2" cy="329.4" r="0.8"/><circle cx="261.4" cy="307.9" r="0.8"/><circle cx="261.5" cy="331.7" r="0.8"/><circle cx="257.2" cy="331.4" r="0.8"/><circle cx="253.0" cy="335.9" r="0.8"/><circle cx="252.8" cy="308.1" r="0.8"/><circle cx="262.2" cy="313.1" r="0.8"/><circle cx="255.3" cy="306.0" r="0.8"/><circle cx="254.8" cy="333.4" r="0.8"/><circle cx="261.7" cy="335.5" r="0.8"/><circle cx="261.5" cy="317.7" r="0.8"/><circle cx="260.6" cy="319.3" r="0.8"/><circle cx="254.9" cy="316.7" r="0.8"/><circle cx="260.9" cy="329.1" r="0.8"/><circle cx="263.8" cy="331.5" r="0.8"/><circle cx="260.1" cy="333.6" r="0.8"/><circle cx="263.4" cy="335.9" r="0.8"/><circle cx="260.1" cy="306.3" r="0.8"/><circle cx="254.6" cy="321.8" r="0.8"/><circle cx="259.9" cy="330.9" r="0.8"/><circle cx="259.8" cy="317.5" r="0.8"/><circle cx="260.6" cy="325.1" r="0.8"/><circle cx="253.7" cy="292.9" r="0.8"/><circle cx="261.8" cy="287.7" r="0.8"/><circle cx="252.9" cy="331.1" r="0.8"/><circle cx="262.2" cy="330.0" r="0.8"/><circle cx="260.6" cy="335.9" r="0.8"/><circle cx="252.8" cy="335.1" r="0.8"/><circle cx="253.6" cy="313.5" r="0.8"/><circle cx="252.8" cy="305.2" r="0.8"/><circle cx="261.1" cy="316.3" r="0.8"/><circle cx="261.0" cy="325.2" r="0.8"/><circle cx="255.8" cy="322.4" r="0.8"/><circle cx="253.9" cy="333.9" r="0.8"/><circle cx="262.6" cy="325.7" r="0.8"/><circle cx="256.3" cy="333.9" r="0.8"/><circle cx="260.7" cy="319.6" r="0.8"/><circle cx="256.4" cy="306.8" r="0.8"/><circle cx="263.1" cy="323.4" r="0.8"/><circle cx="252.7" cy="326.8" r="0.8"/><circle cx="256.6" cy="330.9" r="0.8"/><circle cx="261.2" cy="330.5" r="0.8"/><circle cx="252.8" cy="294.1" r="0.8"/><circle cx="264.0" cy="336.4" r="0.8"/><circle cx="262.1" cy="331.7" r="0.8"/><circle cx="253.6" cy="297.8" r="0.8"/><circle cx="253.7" cy="330.1" r="0.8"/><circle cx="262.3" cy="323.5" r="0.8"/><circle cx="261.7" cy="325.8" r="0.8"/><circle cx="260.6" cy="323.4" r="0.8"/><circle cx="255.4" cy="321.0" r="0.8"/><circle cx="255.1" cy="302.9" r="0.8"/><circle cx="256.3" cy="305.0" r="0.8"/><circle cx="256.5" cy="327.5" r="0.8"/><circle cx="253.5" cy="336.3" r="0.8"/><circle cx="260.2" cy="316.6" r="0.8"/><circle cx="261.2" cy="323.2" r="0.8"/><circle cx="255.3" cy="321.2" r="0.8"/><circle cx="262.6" cy="324.4" r="0.8"/><circle cx="263.5" cy="321.2" r="0.8"/><circle cx="263.9" cy="305.5" r="0.8"/><circle cx="256.5" cy="330.5" r="0.8"/><circle cx="262.9" cy="324.6" r="0.8"/><circle cx="263.8" cy="331.6" r="0.8"/><circle cx="261.2" cy="326.2" r="0.8"/><circle cx="252.7" cy="309.8" r="0.8"/><circle cx="263.9" cy="323.6" r="0.8"/><circle cx="261.5" cy="335.6" r="0.8"/><circle cx="260.3" cy="304.2" r="0.8"/><circle cx="261.1" cy="303.4" r="0.8"/><circle cx="257.1" cy="335.2" r="0.8"/><circle cx="254.9" cy="324.8" r="0.8"/><circle cx="260.1" cy="301.8" r="0.8"/><circle cx="261.5" cy="328.5" r="0.8"/><circle cx="254.3" cy="328.5" r="0.8"/><circle cx="257.5" cy="333.8" r="0.8"/><circle cx="256.6" cy="335.4" r="0.8"/><circle cx="261.6" cy="335.1" r="0.8"/><circle cx="254.5" cy="332.8" r="0.8"/><circle cx="263.2" cy="292.8" r="0.8"/><circle cx="254.6" cy="306.2" r="0.8"/><circle cx="254.5" cy="316.8" r="0.8"/><circle cx="254.3" cy="291.3" r="0.8"/><circle cx="262.5" cy="298.5" r="0.8"/><circle cx="254.3" cy="334.4" r="0.8"/><circle cx="253.5" cy="335.0" r="0.8"/><circle cx="263.3" cy="328.2" r="0.8"/><circle cx="260.1" cy="333.1" r="0.8"/><circle cx="262.3" cy="332.6" r="0.8"/><circle cx="262.3" cy="285.1" r="0.8"/><circle cx="257.0" cy="334.8" r="0.8"/><circle cx="260.5" cy="300.5" r="0.8"/><circle cx="263.6" cy="336.4" r="0.8"/><circle cx="253.3" cy="319.4" r="0.8"/><circle cx="263.5" cy="329.6" r="0.8"/><circle cx="260.5" cy="332.1" r="0.8"/><circle cx="256.9" cy="328.0" r="0.8"/><circle cx="254.3" cy="324.0" r="0.8"/><circle cx="253.4" cy="335.0" r="0.8"/><circle cx="261.3" cy="306.6" r="0.8"/><circle cx="255.8" cy="317.9" r="0.8"/><circle cx="254.3" cy="330.5" r="0.8"/><circle cx="261.1" cy="328.8" r="0.8"/><circle cx="254.5" cy="302.7" r="0.8"/><circle cx="262.6" cy="314.6" r="0.8"/><circle cx="256.1" cy="324.8" r="0.8"/><circle cx="259.9" cy="334.7" r="0.8"/><circle cx="263.5" cy="294.4" r="0.8"/><circle cx="255.5" cy="330.0" r="0.8"/><circle cx="256.0" cy="331.7" r="0.8"/><circle cx="256.2" cy="328.7" r="0.8"/><circle cx="259.6" cy="331.6" r="0.8"/><circle cx="255.7" cy="313.9" r="0.8"/><circle cx="255.8" cy="326.5" r="0.8"/><circle cx="253.3" cy="315.9" r="0.8"/><circle cx="256.2" cy="328.7" r="0.8"/><circle cx="262.5" cy="312.6" r="0.8"/><circle cx="254.1" cy="327.0" r="0.8"/><circle cx="256.7" cy="326.5" r="0.8"/><circle cx="262.0" cy="323.3" r="0.8"/><circle cx="262.1" cy="321.7" r="0.8"/><circle cx="260.7" cy="327.2" r="0.8"/><circle cx="261.6" cy="307.3" r="0.8"/><circle cx="256.5" cy="325.2" r="0.8"/><circle cx="254.3" cy="327.2" r="0.8"/><circle cx="253.2" cy="334.6" r="0.8"/><circle cx="253.2" cy="325.4" r="0.8"/><circle cx="259.6" cy="326.4" r="0.8"/><circle cx="254.1" cy="329.2" r="0.8"/><circle cx="262.4" cy="315.7" r="0.8"/><circle cx="262.2" cy="317.1" r="0.8"/><circle cx="263.7" cy="305.4" r="0.8"/><circle cx="261.6" cy="327.1" r="0.8"/><circle cx="255.8" cy="328.6" r="0.8"/><circle cx="262.9" cy="316.0" r="0.8"/><circle cx="255.5" cy="329.8" r="0.8"/><circle cx="254.3" cy="314.3" r="0.8"/><circle cx="262.2" cy="325.8" r="0.8"/><circle cx="254.2" cy="328.7" r="0.8"/><circle cx="254.5" cy="315.7" r="0.8"/><circle cx="254.5" cy="333.4" r="0.8"/><circle cx="263.4" cy="334.4" r="0.8"/><circle cx="261.0" cy="324.1" r="0.8"/><circle cx="260.7" cy="325.3" r="0.8"/><circle cx="252.8" cy="331.4" r="0.8"/><circle cx="260.3" cy="325.4" r="0.8"/><circle cx="255.8" cy="328.6" r="0.8"/><circle cx="253.8" cy="310.5" r="0.8"/><circle cx="263.1" cy="331.7" r="0.8"/><circle cx="256.3" cy="313.8" r="0.8"/><circle cx="255.7" cy="315.6" r="0.8"/><circle cx="255.4" cy="326.0" r="0.8"/><circle cx="256.6" cy="311.8" r="0.8"/><circle cx="255.2" cy="324.9" r="0.8"/><circle cx="262.3" cy="301.4" r="0.8"/><circle cx="263.9" cy="316.5" r="0.8"/><circle cx="262.1" cy="326.9" r="0.8"/><circle cx="260.4" cy="321.4" r="0.8"/><circle cx="262.5" cy="336.0" r="0.8"/><circle cx="254.7" cy="332.5" r="0.8"/><circle cx="261.7" cy="283.9" r="0.8"/><circle cx="260.7" cy="319.5" r="0.8"/><circle cx="254.8" cy="333.6" r="0.8"/><circle cx="256.2" cy="313.5" r="0.8"/><circle cx="255.8" cy="329.5" r="0.8"/><circle cx="253.1" cy="335.0" r="0.8"/><circle cx="253.9" cy="334.0" r="0.8"/><circle cx="262.9" cy="319.5" r="0.8"/><circle cx="261.0" cy="322.7" r="0.8"/><circle cx="256.5" cy="315.8" r="0.8"/><circle cx="260.6" cy="316.8" r="0.8"/><circle cx="263.3" cy="336.0" r="0.8"/><circle cx="253.4" cy="328.8" r="0.8"/><circle cx="263.7" cy="328.1" r="0.8"/><circle cx="254.7" cy="314.6" r="0.8"/><circle cx="255.4" cy="331.9" r="0.8"/><circle cx="261.4" cy="332.1" r="0.8"/><circle cx="254.5" cy="327.9" r="0.8"/><circle cx="260.1" cy="320.9" r="0.8"/><circle cx="260.7" cy="327.6" r="0.8"/><circle cx="262.6" cy="326.1" r="0.8"/><circle cx="254.6" cy="328.3" r="0.8"/><circle cx="263.2" cy="327.0" r="0.8"/><circle cx="261.9" cy="333.2" r="0.8"/><circle cx="255.0" cy="334.7" r="0.8"/><circle cx="256.1" cy="334.2" r="0.8"/><circle cx="260.2" cy="323.7" r="0.8"/><circle cx="263.2" cy="324.6" r="0.8"/><circle cx="259.8" cy="313.3" r="0.8"/><circle cx="257.1" cy="336.2" r="0.8"/><circle cx="263.6" cy="324.3" r="0.8"/><circle cx="260.9" cy="335.7" r="0.8"/><circle cx="263.1" cy="325.5" r="0.8"/><circle cx="262.7" cy="308.7" r="0.8"/><circle cx="256.7" cy="335.0" r="0.8"/><circle cx="256.5" cy="316.9" r="0.8"/><circle cx="254.0" cy="313.0" r="0.8"/><circle cx="261.9" cy="335.1" r="0.8"/><circle cx="255.4" cy="336.4" r="0.8"/><circle cx="255.0" cy="324.6" r="0.8"/><circle cx="261.8" cy="315.2" r="0.8"/><circle cx="255.5" cy="329.3" r="0.8"/><circle cx="263.1" cy="325.3" r="0.8"/><circle cx="255.1" cy="312.8" r="0.8"/><circle cx="263.8" cy="318.5" r="0.8"/><circle cx="253.7" cy="325.4" r="0.8"/><circle cx="252.6" cy="320.8" r="0.8"/><circle cx="260.6" cy="335.7" r="0.8"/><circle cx="254.0" cy="333.1" r="0.8"/><circle cx="261.5" cy="294.4" r="0.8"/><circle cx="261.8" cy="299.5" r="0.8"/><circle cx="263.1" cy="307.1" r="0.8"/><circle cx="263.6" cy="312.6" r="0.8"/><circle cx="256.4" cy="328.0" r="0.8"/><circle cx="253.8" cy="300.2" r="0.8"/><circle cx="254.1" cy="314.2" r="0.8"/><circle cx="261.4" cy="327.7" r="0.8"/><circle cx="262.5" cy="324.5" r="0.8"/><circle cx="254.0" cy="325.5" r="0.8"/><circle cx="255.8" cy="314.9" r="0.8"/><circle cx="252.7" cy="298.4" r="0.8"/><circle cx="256.6" cy="334.0" r="0.8"/><circle cx="262.2" cy="321.0" r="0.8"/><circle cx="261.6" cy="334.2" r="0.8"/><circle cx="253.9" cy="333.9" r="0.8"/><circle cx="261.3" cy="319.6" r="0.8"/><circle cx="255.8" cy="326.5" r="0.8"/><circle cx="261.0" cy="336.2" r="0.8"/><circle cx="255.7" cy="328.2" r="0.8"/><circle cx="260.6" cy="335.0" r="0.8"/><circle cx="260.6" cy="332.2" r="0.8"/><circle cx="262.5" cy="296.7" r="0.8"/><circle cx="254.2" cy="311.0" r="0.8"/><circle cx="263.3" cy="327.8" r="0.8"/><circle cx="253.6" cy="331.8" r="0.8"/><circle cx="253.3" cy="307.1" r="0.8"/><circle cx="260.3" cy="329.3" r="0.8"/><circle cx="254.4" cy="296.0" r="0.8"/><circle cx="260.8" cy="331.6" r="0.8"/><circle cx="254.9" cy="330.7" r="0.8"/><circle cx="262.6" cy="332.6" r="0.8"/><circle cx="262.8" cy="334.6" r="0.8"/><circle cx="255.4" cy="309.3" r="0.8"/><circle cx="257.3" cy="334.3" r="0.8"/><circle cx="262.6" cy="301.2" r="0.8"/><circle cx="256.6" cy="332.2" r="0.8"/><circle cx="255.1" cy="330.0" r="0.8"/><circle cx="259.4" cy="329.6" r="0.8"/><circle cx="264.0" cy="326.5" r="0.8"/><circle cx="256.6" cy="333.4" r="0.8"/><circle cx="260.8" cy="333.3" r="0.8"/><circle cx="253.1" cy="304.2" r="0.8"/><circle cx="262.8" cy="328.5" r="0.8"/><circle cx="262.0" cy="313.9" r="0.8"/><circle cx="259.4" cy="324.8" r="0.8"/><circle cx="260.3" cy="335.2" r="0.8"/><circle cx="256.3" cy="334.5" r="0.8"/><circle cx="261.4" cy="309.3" r="0.8"/><circle cx="253.3" cy="328.8" r="0.8"/><circle cx="252.7" cy="304.4" r="0.8"/><circle cx="260.2" cy="335.6" r="0.8"/><circle cx="261.4" cy="318.9" r="0.8"/><circle cx="252.6" cy="325.1" r="0.8"/><circle cx="256.3" cy="317.1" r="0.8"/><circle cx="255.7" cy="311.7" r="0.8"/><circle cx="254.0" cy="334.7" r="0.8"/><circle cx="257.2" cy="336.1" r="0.8"/><circle cx="254.6" cy="326.6" r="0.8"/><circle cx="254.8" cy="288.8" r="0.8"/><circle cx="263.1" cy="326.4" r="0.8"/><circle cx="253.1" cy="315.9" r="0.8"/><circle cx="255.7" cy="315.7" r="0.8"/><circle cx="253.8" cy="321.3" r="0.8"/><circle cx="262.7" cy="329.2" r="0.8"/><circle cx="263.4" cy="334.0" r="0.8"/><circle cx="253.6" cy="330.9" r="0.8"/><circle cx="261.7" cy="323.0" r="0.8"/><circle cx="261.0" cy="328.1" r="0.8"/><circle cx="255.6" cy="329.3" r="0.8"/><circle cx="262.9" cy="335.2" r="0.8"/><circle cx="263.8" cy="321.0" r="0.8"/><circle cx="252.9" cy="324.3" r="0.8"/><circle cx="254.1" cy="319.6" r="0.8"/><circle cx="254.0" cy="328.8" r="0.8"/><circle cx="262.5" cy="326.0" r="0.8"/><circle cx="263.1" cy="324.8" r="0.8"/><circle cx="260.3" cy="313.2" r="0.8"/><circle cx="263.2" cy="316.3" r="0.8"/><circle cx="256.1" cy="327.9" r="0.8"/><circle cx="252.8" cy="331.3" r="0.8"/><circle cx="260.2" cy="295.6" r="0.8"/><circle cx="254.2" cy="333.2" r="0.8"/><circle cx="255.7" cy="331.9" r="0.8"/><circle cx="257.1" cy="318.0" r="0.8"/><circle cx="262.4" cy="326.6" r="0.8"/><circle cx="263.3" cy="294.6" r="0.8"/><circle cx="262.3" cy="333.2" r="0.8"/><circle cx="261.3" cy="324.7" r="0.8"/><circle cx="255.4" cy="335.4" r="0.8"/><circle cx="263.3" cy="323.3" r="0.8"/><circle cx="260.2" cy="333.2" r="0.8"/><circle cx="262.2" cy="334.9" r="0.8"/><circle cx="257.4" cy="331.9" r="0.8"/><circle cx="260.3" cy="323.0" r="0.8"/><circle cx="255.4" cy="330.8" r="0.8"/><circle cx="262.5" cy="310.1" r="0.8"/><circle cx="262.6" cy="333.8" r="0.8"/><circle cx="263.7" cy="327.6" r="0.8"/><circle cx="252.7" cy="304.9" r="0.8"/><circle cx="261.3" cy="331.2" r="0.8"/><circle cx="255.2" cy="336.4" r="0.8"/><circle cx="263.0" cy="335.8" r="0.8"/><circle cx="259.9" cy="316.6" r="0.8"/><circle cx="260.4" cy="331.2" r="0.8"/><circle cx="263.6" cy="295.6" r="0.8"/><circle cx="253.7" cy="313.4" r="0.8"/><circle cx="253.6" cy="329.0" r="0.8"/><circle cx="262.9" cy="307.5" r="0.8"/><circle cx="256.0" cy="330.7" r="0.8"/><circle cx="255.3" cy="299.6" r="0.8"/><circle cx="260.4" cy="333.6" r="0.8"/><circle cx="263.9" cy="322.0" r="0.8"/><circle cx="263.6" cy="312.0" r="0.8"/><circle cx="263.3" cy="333.4" r="0.8"/><circle cx="260.3" cy="312.0" r="0.8"/><circle cx="256.0" cy="328.4" r="0.8"/><circle cx="263.4" cy="312.2" r="0.8"/><circle cx="263.3" cy="329.0" r="0.8"/><circle cx="262.7" cy="315.9" r="0.8"/><circle cx="253.9" cy="311.0" r="0.8"/><circle cx="263.9" cy="324.0" r="0.8"/><circle cx="262.9" cy="329.9" r="0.8"/><circle cx="262.6" cy="332.9" r="0.8"/><circle cx="254.6" cy="332.4" r="0.8"/><circle cx="261.7" cy="328.5" r="0.8"/><circle cx="252.7" cy="318.5" r="0.8"/><circle cx="254.0" cy="334.5" r="0.8"/><circle cx="252.8" cy="321.6" r="0.8"/><circle cx="261.5" cy="306.3" r="0.8"/><circle cx="255.8" cy="329.0" r="0.8"/><circle cx="263.3" cy="290.4" r="0.8"/><circle cx="262.2" cy="317.3" r="0.8"/><circle cx="259.7" cy="333.5" r="0.8"/><circle cx="252.7" cy="307.1" r="0.8"/><circle cx="254.3" cy="317.4" r="0.8"/><circle cx="254.1" cy="326.8" r="0.8"/><circle cx="261.3" cy="330.1" r="0.8"/><circle cx="263.5" cy="297.4" r="0.8"/><circle cx="256.7" cy="325.8" r="0.8"/><circle cx="255.8" cy="331.5" r="0.8"/><circle cx="254.3" cy="335.3" r="0.8"/><circle cx="254.3" cy="329.2" r="0.8"/><circle cx="263.5" cy="319.6" r="0.8"/><circle cx="252.7" cy="335.7" r="0.8"/><circle cx="254.2" cy="336.5" r="0.8"/><circle cx="255.9" cy="318.3" r="0.8"/><circle cx="256.4" cy="333.4" r="0.8"/><circle cx="253.3" cy="326.1" r="0.8"/><circle cx="263.1" cy="332.6" r="0.8"/><circle cx="253.8" cy="334.6" r="0.8"/><circle cx="262.7" cy="322.4" r="0.8"/><circle cx="254.6" cy="304.1" r="0.8"/><circle cx="259.6" cy="335.0" r="0.8"/><circle cx="256.3" cy="325.1" r="0.8"/><circle cx="260.8" cy="332.2" r="0.8"/><circle cx="253.0" cy="299.0" r="0.8"/><circle cx="263.3" cy="332.0" r="0.8"/><circle cx="254.1" cy="329.0" r="0.8"/><circle cx="255.0" cy="333.6" r="0.8"/><circle cx="253.1" cy="311.3" r="0.8"/><circle cx="254.1" cy="303.2" r="0.8"/><circle cx="254.1" cy="300.7" r="0.8"/><circle cx="255.6" cy="327.0" r="0.8"/><circle cx="260.7" cy="326.6" r="0.8"/><circle cx="255.9" cy="327.6" r="0.8"/><circle cx="260.7" cy="299.2" r="0.8"/><circle cx="259.5" cy="325.7" r="0.8"/><circle cx="254.5" cy="328.2" r="0.8"/><circle cx="256.1" cy="301.9" r="0.8"/><circle cx="253.2" cy="291.2" r="0.8"/><circle cx="263.2" cy="333.2" r="0.8"/><circle cx="262.1" cy="307.2" r="0.8"/><circle cx="260.1" cy="315.9" r="0.8"/><circle cx="262.7" cy="295.7" r="0.8"/><circle cx="261.0" cy="335.5" r="0.8"/><circle cx="259.9" cy="335.3" r="0.8"/><circle cx="262.7" cy="302.5" r="0.8"/><circle cx="263.0" cy="303.4" r="0.8"/><circle cx="261.2" cy="328.2" r="0.8"/><circle cx="261.0" cy="304.6" r="0.8"/><circle cx="263.2" cy="313.4" r="0.8"/><circle cx="260.2" cy="330.4" r="0.8"/><circle cx="254.7" cy="331.5" r="0.8"/><circle cx="255.1" cy="324.3" r="0.8"/><circle cx="262.8" cy="320.2" r="0.8"/><circle cx="261.7" cy="332.8" r="0.8"/><circle cx="263.2" cy="318.0" r="0.8"/><circle cx="255.9" cy="307.8" r="0.8"/><circle cx="255.6" cy="316.7" r="0.8"/><circle cx="261.4" cy="324.4" r="0.8"/><circle cx="263.0" cy="315.5" r="0.8"/><circle cx="263.9" cy="324.2" r="0.8"/><circle cx="260.0" cy="323.4" r="0.8"/><circle cx="263.6" cy="306.7" r="0.8"/><circle cx="262.3" cy="335.1" r="0.8"/><circle cx="261.0" cy="331.4" r="0.8"/><circle cx="260.4" cy="326.1" r="0.8"/><circle cx="262.8" cy="334.6" r="0.8"/><circle cx="260.9" cy="332.5" r="0.8"/><circle cx="262.8" cy="313.5" r="0.8"/><circle cx="254.3" cy="330.6" r="0.8"/><circle cx="257.1" cy="333.0" r="0.8"/><circle cx="262.4" cy="327.4" r="0.8"/><circle cx="263.1" cy="328.5" r="0.8"/><circle cx="255.3" cy="333.7" r="0.8"/><circle cx="260.6" cy="301.6" r="0.8"/><circle cx="254.1" cy="333.2" r="0.8"/><circle cx="263.6" cy="334.5" r="0.8"/><circle cx="262.8" cy="295.1" r="0.8"/><circle cx="254.0" cy="330.2" r="0.8"/><circle cx="261.3" cy="321.3" r="0.8"/><circle cx="262.8" cy="336.5" r="0.8"/><circle cx="263.7" cy="335.9" r="0.8"/><circle cx="253.4" cy="336.4" r="0.8"/><circle cx="254.7" cy="321.6" r="0.8"/><circle cx="263.4" cy="327.8" r="0.8"/><circle cx="254.0" cy="330.4" r="0.8"/><circle cx="263.0" cy="331.7" r="0.8"/><circle cx="253.2" cy="334.8" r="0.8"/><circle cx="255.9" cy="331.7" r="0.8"/><circle cx="263.1" cy="329.8" r="0.8"/><circle cx="252.8" cy="335.7" r="0.8"/><circle cx="262.6" cy="329.4" r="0.8"/><circle cx="260.7" cy="315.7" r="0.8"/><circle cx="260.9" cy="305.4" r="0.8"/><circle cx="262.0" cy="285.2" r="0.8"/><circle cx="253.0" cy="329.6" r="0.8"/><circle cx="255.5" cy="333.2" r="0.8"/><circle cx="256.8" cy="333.2" r="0.8"/><circle cx="262.5" cy="325.6" r="0.8"/><circle cx="255.0" cy="323.9" r="0.8"/><circle cx="253.0" cy="332.9" r="0.8"/><circle cx="261.2" cy="322.3" r="0.8"/><circle cx="256.0" cy="318.8" r="0.8"/><circle cx="253.7" cy="319.6" r="0.8"/><circle cx="254.9" cy="302.3" r="0.8"/><circle cx="256.3" cy="309.5" r="0.8"/><circle cx="263.0" cy="303.7" r="0.8"/><circle cx="263.7" cy="331.7" r="0.8"/><circle cx="263.9" cy="335.7" r="0.8"/><circle cx="261.2" cy="328.6" r="0.8"/><circle cx="253.2" cy="321.8" r="0.8"/><circle cx="253.7" cy="315.4" r="0.8"/><circle cx="260.6" cy="331.4" r="0.8"/><circle cx="253.8" cy="326.4" r="0.8"/><circle cx="263.9" cy="307.9" r="0.8"/><circle cx="255.3" cy="324.2" r="0.8"/><circle cx="259.6" cy="333.8" r="0.8"/><circle cx="253.0" cy="320.3" r="0.8"/><circle cx="260.4" cy="330.3" r="0.8"/><circle cx="252.7" cy="326.5" r="0.8"/><circle cx="262.3" cy="330.0" r="0.8"/><circle cx="263.5" cy="324.1" r="0.8"/><circle cx="253.4" cy="327.0" r="0.8"/><circle cx="255.9" cy="332.0" r="0.8"/><circle cx="254.7" cy="334.6" r="0.8"/><circle cx="263.4" cy="325.0" r="0.8"/><circle cx="261.5" cy="330.8" r="0.8"/><circle cx="256.2" cy="313.4" r="0.8"/><circle cx="253.7" cy="327.0" r="0.8"/><circle cx="260.6" cy="333.5" r="0.8"/><circle cx="262.8" cy="329.7" r="0.8"/><circle cx="257.5" cy="335.5" r="0.8"/><circle cx="261.4" cy="305.9" r="0.8"/><circle cx="252.9" cy="284.4" r="0.8"/><circle cx="253.7" cy="329.1" r="0.8"/><circle cx="254.2" cy="333.3" r="0.8"/><circle cx="255.0" cy="335.2" r="0.8"/><circle cx="256.3" cy="311.6" r="0.8"/><circle cx="262.2" cy="311.4" r="0.8"/><circle cx="254.5" cy="336.1" r="0.8"/><circle cx="262.6" cy="307.7" r="0.8"/><circle cx="253.6" cy="318.6" r="0.8"/><circle cx="260.4" cy="324.7" r="0.8"/><circle cx="255.4" cy="329.5" r="0.8"/><circle cx="262.0" cy="336.1" r="0.8"/><circle cx="257.2" cy="330.1" r="0.8"/><circle cx="253.5" cy="322.8" r="0.8"/><circle cx="261.8" cy="323.6" r="0.8"/><circle cx="259.8" cy="330.6" r="0.8"/><circle cx="255.3" cy="330.9" r="0.8"/><circle cx="252.9" cy="331.0" r="0.8"/><circle cx="253.1" cy="318.4" r="0.8"/><circle cx="259.8" cy="325.4" r="0.8"/><circle cx="262.3" cy="336.3" r="0.8"/><circle cx="262.8" cy="330.9" r="0.8"/><circle cx="261.7" cy="328.4" r="0.8"/><circle cx="253.2" cy="319.2" r="0.8"/><circle cx="256.1" cy="327.1" r="0.8"/><circle cx="261.2" cy="331.6" r="0.8"/><circle cx="261.9" cy="332.9" r="0.8"/><circle cx="261.5" cy="311.6" r="0.8"/><circle cx="257.3" cy="329.9" r="0.8"/><circle cx="259.7" cy="336.2" r="0.8"/><circle cx="263.3" cy="321.2" r="0.8"/><circle cx="256.4" cy="326.8" r="0.8"/><circle cx="263.3" cy="316.0" r="0.8"/><circle cx="253.0" cy="333.2" r="0.8"/><circle cx="254.2" cy="310.0" r="0.8"/><circle cx="261.2" cy="317.2" r="0.8"/><circle cx="262.3" cy="332.5" r="0.8"/><circle cx="262.7" cy="329.1" r="0.8"/><circle cx="255.1" cy="323.4" r="0.8"/><circle cx="263.6" cy="328.8" r="0.8"/><circle cx="263.0" cy="319.6" r="0.8"/><circle cx="261.8" cy="327.2" r="0.8"/><circle cx="256.4" cy="316.0" r="0.8"/><circle cx="261.6" cy="336.3" r="0.8"/><circle cx="261.7" cy="303.8" r="0.8"/><circle cx="260.5" cy="292.0" r="0.8"/><circle cx="257.0" cy="331.5" r="0.8"/><circle cx="261.3" cy="335.7" r="0.8"/><circle cx="259.4" cy="323.6" r="0.8"/><circle cx="255.1" cy="305.4" r="0.8"/><circle cx="263.7" cy="319.7" r="0.8"/><circle cx="254.2" cy="322.3" r="0.8"/><circle cx="263.1" cy="329.9" r="0.8"/><circle cx="263.7" cy="332.7" r="0.8"/><circle cx="254.7" cy="331.9" r="0.8"/><circle cx="256.0" cy="309.8" r="0.8"/><circle cx="263.0" cy="310.8" r="0.8"/><circle cx="254.6" cy="326.1" r="0.8"/><circle cx="255.0" cy="325.5" r="0.8"/><circle cx="261.0" cy="328.4" r="0.8"/><circle cx="253.1" cy="335.8" r="0.8"/><circle cx="253.7" cy="335.2" r="0.8"/><circle cx="260.9" cy="297.6" r="0.8"/><circle cx="253.3" cy="328.2" r="0.8"/><circle cx="263.7" cy="315.2" r="0.8"/><circle cx="254.2" cy="326.9" r="0.8"/><circle cx="262.4" cy="334.3" r="0.8"/><circle cx="253.9" cy="328.9" r="0.8"/><circle cx="254.7" cy="322.4" r="0.8"/><circle cx="263.7" cy="322.7" r="0.8"/><circle cx="253.3" cy="319.4" r="0.8"/><circle cx="261.0" cy="336.5" r="0.8"/><circle cx="262.4" cy="319.5" r="0.8"/><circle cx="260.8" cy="334.0" r="0.8"/><circle cx="260.0" cy="331.6" r="0.8"/><circle cx="255.2" cy="324.3" r="0.8"/><circle cx="263.2" cy="321.1" r="0.8"/><circle cx="254.6" cy="330.3" r="0.8"/><circle cx="253.6" cy="336.2" r="0.8"/><circle cx="262.2" cy="323.7" r="0.8"/><circle cx="252.6" cy="334.4" r="0.8"/><circle cx="263.4" cy="332.6" r="0.8"/><circle cx="261.5" cy="318.5" r="0.8"/><circle cx="260.2" cy="313.8" r="0.8"/><circle cx="262.1" cy="283.3" r="0.8"/><circle cx="262.0" cy="312.3" r="0.8"/><circle cx="263.0" cy="312.1" r="0.8"/><circle cx="253.4" cy="312.5" r="0.8"/><circle cx="256.1" cy="329.4" r="0.8"/><circle cx="255.5" cy="313.9" r="0.8"/><circle cx="261.2" cy="329.9" r="0.8"/><circle cx="262.8" cy="303.3" r="0.8"/><circle cx="263.9" cy="295.9" r="0.8"/><circle cx="263.0" cy="328.4" r="0.8"/><circle cx="262.8" cy="323.0" r="0.8"/><circle cx="256.0" cy="295.0" r="0.8"/><circle cx="256.5" cy="323.0" r="0.8"/><circle cx="263.1" cy="328.5" r="0.8"/><circle cx="254.4" cy="331.1" r="0.8"/><circle cx="263.2" cy="334.8" r="0.8"/><circle cx="262.9" cy="321.4" r="0.8"/><circle cx="257.2" cy="324.9" r="0.8"/><circle cx="261.3" cy="333.0" r="0.8"/><circle cx="262.8" cy="319.6" r="0.8"/><circle cx="262.8" cy="333.7" r="0.8"/><circle cx="255.1" cy="293.8" r="0.8"/><circle cx="253.3" cy="324.6" r="0.8"/><circle cx="263.0" cy="320.5" r="0.8"/><circle cx="263.2" cy="329.8" r="0.8"/><circle cx="253.9" cy="335.9" r="0.8"/><circle cx="253.9" cy="302.2" r="0.8"/><circle cx="256.1" cy="302.0" r="0.8"/><circle cx="260.8" cy="320.5" r="0.8"/><circle cx="253.3" cy="299.7" r="0.8"/><circle cx="253.2" cy="325.6" r="0.8"/><circle cx="254.6" cy="335.9" r="0.8"/><circle cx="252.7" cy="323.7" r="0.8"/><circle cx="255.0" cy="318.9" r="0.8"/><circle cx="260.5" cy="336.1" r="0.8"/><circle cx="262.7" cy="319.1" r="0.8"/><circle cx="262.1" cy="305.1" r="0.8"/><circle cx="263.9" cy="313.9" r="0.8"/><circle cx="254.9" cy="315.6" r="0.8"/><circle cx="253.2" cy="322.0" r="0.8"/><circle cx="257.2" cy="328.6" r="0.8"/><circle cx="255.7" cy="307.6" r="0.8"/><circle cx="263.8" cy="298.3" r="0.8"/><circle cx="260.6" cy="334.0" r="0.8"/><circle cx="260.2" cy="324.0" r="0.8"/><circle cx="252.8" cy="318.5" r="0.8"/><circle cx="253.3" cy="330.8" r="0.8"/><circle cx="261.8" cy="336.2" r="0.8"/><circle cx="254.6" cy="294.6" r="0.8"/><circle cx="255.9" cy="336.2" r="0.8"/><circle cx="260.9" cy="335.2" r="0.8"/><circle cx="263.8" cy="329.4" r="0.8"/><circle cx="260.0" cy="332.3" r="0.8"/><circle cx="254.6" cy="332.1" r="0.8"/><circle cx="263.7" cy="332.6" r="0.8"/><circle cx="252.7" cy="332.4" r="0.8"/><circle cx="255.3" cy="316.5" r="0.8"/><circle cx="263.8" cy="333.2" r="0.8"/><circle cx="252.7" cy="326.2" r="0.8"/><circle cx="262.2" cy="333.0" r="0.8"/><circle cx="261.4" cy="329.5" r="0.8"/><circle cx="255.5" cy="335.9" r="0.8"/><circle cx="263.2" cy="336.5" r="0.8"/><circle cx="254.2" cy="335.1" r="0.8"/><circle cx="259.7" cy="334.1" r="0.8"/><circle cx="254.3" cy="288.3" r="0.8"/><circle cx="260.1" cy="321.3" r="0.8"/><circle cx="255.2" cy="304.4" r="0.8"/><circle cx="262.5" cy="311.9" r="0.8"/><circle cx="253.8" cy="321.2" r="0.8"/><circle cx="261.7" cy="331.1" r="0.8"/><circle cx="263.5" cy="297.6" r="0.8"/><circle cx="254.3" cy="333.2" r="0.8"/><circle cx="254.7" cy="333.1" r="0.8"/><circle cx="262.8" cy="323.7" r="0.8"/><circle cx="255.4" cy="303.0" r="0.8"/><circle cx="263.8" cy="295.1" r="0.8"/><circle cx="256.0" cy="332.7" r="0.8"/><circle cx="260.9" cy="331.0" r="0.8"/><circle cx="255.8" cy="336.1" r="0.8"/><circle cx="262.1" cy="323.5" r="0.8"/><circle cx="261.5" cy="323.5" r="0.8"/><circle cx="253.6" cy="316.8" r="0.8"/><circle cx="255.3" cy="327.8" r="0.8"/><circle cx="255.1" cy="315.7" r="0.8"/><circle cx="255.6" cy="317.7" r="0.8"/><circle cx="263.9" cy="294.0" r="0.8"/><circle cx="256.5" cy="334.5" r="0.8"/><circle cx="253.2" cy="320.3" r="0.8"/><circle cx="261.3" cy="314.5" r="0.8"/><circle cx="253.3" cy="309.3" r="0.8"/><circle cx="261.1" cy="333.7" r="0.8"/><circle cx="263.8" cy="333.2" r="0.8"/><circle cx="254.0" cy="324.4" r="0.8"/><circle cx="252.8" cy="331.4" r="0.8"/><circle cx="263.6" cy="329.0" r="0.8"/><circle cx="262.7" cy="312.2" r="0.8"/><circle cx="261.2" cy="328.3" r="0.8"/><circle cx="261.7" cy="333.4" r="0.8"/><circle cx="261.8" cy="302.5" r="0.8"/><circle cx="254.1" cy="316.9" r="0.8"/><circle cx="252.6" cy="326.3" r="0.8"/><circle cx="260.5" cy="335.2" r="0.8"/><circle cx="255.6" cy="330.6" r="0.8"/><circle cx="263.2" cy="333.0" r="0.8"/><circle cx="259.7" cy="328.9" r="0.8"/><circle cx="262.8" cy="333.4" r="0.8"/><circle cx="263.3" cy="306.3" r="0.8"/><circle cx="263.3" cy="325.6" r="0.8"/><circle cx="263.0" cy="321.2" r="0.8"/><circle cx="252.8" cy="334.6" r="0.8"/><circle cx="254.1" cy="313.0" r="0.8"/><circle cx="263.3" cy="319.1" r="0.8"/><circle cx="256.6" cy="330.6" r="0.8"/><circle cx="260.2" cy="315.3" r="0.8"/><circle cx="263.5" cy="328.0" r="0.8"/><circle cx="256.6" cy="311.7" r="0.8"/><circle cx="263.6" cy="320.8" r="0.8"/><circle cx="262.2" cy="323.5" r="0.8"/><circle cx="256.0" cy="309.6" r="0.8"/><circle cx="262.5" cy="290.2" r="0.8"/><circle cx="261.0" cy="321.6" r="0.8"/><circle cx="262.7" cy="330.8" r="0.8"/><circle cx="254.7" cy="332.2" r="0.8"/><circle cx="255.3" cy="326.7" r="0.8"/><circle cx="260.2" cy="316.5" r="0.8"/><circle cx="254.8" cy="326.9" r="0.8"/><circle cx="255.5" cy="314.2" r="0.8"/><circle cx="254.3" cy="316.4" r="0.8"/><circle cx="259.6" cy="336.4" r="0.8"/><circle cx="256.2" cy="329.9" r="0.8"/><circle cx="263.5" cy="331.7" r="0.8"/><circle cx="256.4" cy="328.5" r="0.8"/><circle cx="252.8" cy="322.4" r="0.8"/><circle cx="254.5" cy="334.6" r="0.8"/><circle cx="253.8" cy="335.4" r="0.8"/><circle cx="253.5" cy="310.8" r="0.8"/><circle cx="261.7" cy="323.4" r="0.8"/><circle cx="257.2" cy="336.1" r="0.8"/><circle cx="255.1" cy="317.5" r="0.8"/><circle cx="254.1" cy="317.1" r="0.8"/><circle cx="263.5" cy="334.4" r="0.8"/><circle cx="253.2" cy="326.6" r="0.8"/><circle cx="262.6" cy="331.7" r="0.8"/><circle cx="262.7" cy="309.9" r="0.8"/><circle cx="256.3" cy="335.0" r="0.8"/><circle cx="253.9" cy="331.5" r="0.8"/><circle cx="263.2" cy="325.5" r="0.8"/><circle cx="254.8" cy="316.6" r="0.8"/><circle cx="262.0" cy="327.9" r="0.8"/><circle cx="261.2" cy="320.0" r="0.8"/><circle cx="262.5" cy="317.2" r="0.8"/><circle cx="252.8" cy="327.4" r="0.8"/><circle cx="262.6" cy="288.8" r="0.8"/><circle cx="261.9" cy="326.6" r="0.8"/><circle cx="256.3" cy="336.4" r="0.8"/><circle cx="260.4" cy="322.7" r="0.8"/><circle cx="256.0" cy="323.3" r="0.8"/><circle cx="253.4" cy="311.7" r="0.8"/><circle cx="253.1" cy="304.5" r="0.8"/><circle cx="253.7" cy="303.5" r="0.8"/><circle cx="253.1" cy="323.1" r="0.8"/><circle cx="256.2" cy="324.5" r="0.8"/><circle cx="262.1" cy="318.8" r="0.8"/><circle cx="256.0" cy="307.8" r="0.8"/><circle cx="260.1" cy="331.8" r="0.8"/><circle cx="261.7" cy="314.8" r="0.8"/><circle cx="254.0" cy="318.9" r="0.8"/><circle cx="256.2" cy="305.6" r="0.8"/><circle cx="254.6" cy="325.3" r="0.8"/><circle cx="261.8" cy="334.7" r="0.8"/><circle cx="259.6" cy="328.6" r="0.8"/><circle cx="255.1" cy="335.3" r="0.8"/><circle cx="263.5" cy="301.8" r="0.8"/><circle cx="256.4" cy="312.7" r="0.8"/><circle cx="255.3" cy="327.8" r="0.8"/><circle cx="254.4" cy="321.9" r="0.8"/><circle cx="261.3" cy="329.7" r="0.8"/><circle cx="253.6" cy="307.3" r="0.8"/><circle cx="255.0" cy="333.0" r="0.8"/><circle cx="260.1" cy="334.5" r="0.8"/><circle cx="254.8" cy="329.0" r="0.8"/><circle cx="260.4" cy="292.7" r="0.8"/><circle cx="263.6" cy="310.4" r="0.8"/><circle cx="261.1" cy="313.1" r="0.8"/><circle cx="263.8" cy="329.3" r="0.8"/><circle cx="255.0" cy="326.3" r="0.8"/><circle cx="259.2" cy="332.1" r="0.8"/><circle cx="255.1" cy="331.1" r="0.8"/><circle cx="260.7" cy="336.1" r="0.8"/><circle cx="255.9" cy="334.7" r="0.8"/><circle cx="254.5" cy="323.0" r="0.8"/><circle cx="255.3" cy="329.2" r="0.8"/><circle cx="256.2" cy="330.8" r="0.8"/><circle cx="256.8" cy="318.7" r="0.8"/><circle cx="254.4" cy="321.1" r="0.8"/><circle cx="257.2" cy="335.1" r="0.8"/><circle cx="262.8" cy="335.9" r="0.8"/><circle cx="261.8" cy="318.1" r="0.8"/><circle cx="262.1" cy="302.8" r="0.8"/><circle cx="261.8" cy="333.0" r="0.8"/><circle cx="256.3" cy="324.4" r="0.8"/><circle cx="254.3" cy="326.0" r="0.8"/><circle cx="263.3" cy="316.3" r="0.8"/><circle cx="260.7" cy="300.2" r="0.8"/><circle cx="262.0" cy="309.9" r="0.8"/><circle cx="261.9" cy="289.1" r="0.8"/><circle cx="255.1" cy="320.9" r="0.8"/><circle cx="259.2" cy="332.4" r="0.8"/><circle cx="255.6" cy="329.1" r="0.8"/><circle cx="257.5" cy="335.6" r="0.8"/><circle cx="262.4" cy="327.2" r="0.8"/><circle cx="261.3" cy="330.4" r="0.8"/><circle cx="254.7" cy="333.9" r="0.8"/><circle cx="263.4" cy="313.7" r="0.8"/><circle cx="255.1" cy="336.3" r="0.8"/><circle cx="253.7" cy="319.8" r="0.8"/><circle cx="261.8" cy="287.6" r="0.8"/><circle cx="262.1" cy="335.4" r="0.8"/><circle cx="256.6" cy="315.7" r="0.8"/><circle cx="261.1" cy="333.8" r="0.8"/><circle cx="259.9" cy="335.5" r="0.8"/><circle cx="253.5" cy="311.3" r="0.8"/><circle cx="252.9" cy="293.7" r="0.8"/><circle cx="260.6" cy="322.3" r="0.8"/><circle cx="261.3" cy="331.9" r="0.8"/><circle cx="253.8" cy="336.4" r="0.8"/><circle cx="256.3" cy="327.8" r="0.8"/><circle cx="254.0" cy="312.3" r="0.8"/><circle cx="261.0" cy="314.6" r="0.8"/><circle cx="263.9" cy="306.0" r="0.8"/><circle cx="253.0" cy="336.5" r="0.8"/><circle cx="253.4" cy="331.0" r="0.8"/><circle cx="254.9" cy="324.6" r="0.8"/><circle cx="255.0" cy="311.0" r="0.8"/><circle cx="253.2" cy="335.6" r="0.8"/><circle cx="256.1" cy="301.6" r="0.8"/><circle cx="253.4" cy="324.6" r="0.8"/><circle cx="263.9" cy="331.0" r="0.8"/><circle cx="254.5" cy="336.0" r="0.8"/><circle cx="255.6" cy="334.9" r="0.8"/><circle cx="253.9" cy="336.4" r="0.8"/><circle cx="260.9" cy="334.1" r="0.8"/><circle cx="263.2" cy="316.3" r="0.8"/><circle cx="263.1" cy="329.8" r="0.8"/><circle cx="256.0" cy="316.3" r="0.8"/><circle cx="253.8" cy="316.0" r="0.8"/><circle cx="253.8" cy="332.5" r="0.8"/><circle cx="256.0" cy="333.1" r="0.8"/><circle cx="263.0" cy="302.3" r="0.8"/><circle cx="254.2" cy="334.3" r="0.8"/><circle cx="255.2" cy="328.9" r="0.8"/><circle cx="262.6" cy="328.2" r="0.8"/><circle cx="254.3" cy="291.4" r="0.8"/><circle cx="263.4" cy="292.2" r="0.8"/><circle cx="254.7" cy="311.9" r="0.8"/><circle cx="253.3" cy="335.4" r="0.8"/><circle cx="253.0" cy="305.6" r="0.8"/><circle cx="264.0" cy="328.2" r="0.8"/><circle cx="256.2" cy="299.8" r="0.8"/><circle cx="254.4" cy="336.1" r="0.8"/><circle cx="253.1" cy="304.8" r="0.8"/><circle cx="253.4" cy="327.0" r="0.8"/><circle cx="262.5" cy="303.4" r="0.8"/><circle cx="262.2" cy="324.7" r="0.8"/><circle cx="260.7" cy="310.5" r="0.8"/><circle cx="255.6" cy="323.5" r="0.8"/><circle cx="255.3" cy="327.2" r="0.8"/><circle cx="261.1" cy="321.2" r="0.8"/><circle cx="255.2" cy="312.5" r="0.8"/><circle cx="254.6" cy="326.9" r="0.8"/><circle cx="262.7" cy="319.1" r="0.8"/><circle cx="263.2" cy="336.5" r="0.8"/><circle cx="261.5" cy="332.4" r="0.8"/><circle cx="256.6" cy="326.2" r="0.8"/></g>
<g fill="#2b62c0"><circle cx="246.4" cy="332.3" r="0.8"/><circle cx="240.0" cy="321.0" r="0.8"/><circle cx="248.0" cy="334.9" r="0.8"/><circle cx="250.7" cy="320.6" r="0.8"/><circle cx="240.9" cy="334.9" r="0.8"/><circle cx="252.0" cy="336.6" r="0.8"/><circle cx="240.4" cy="333.9" r="0.8"/><circle cx="246.9" cy="331.2" r="0.8"/><circle cx="236.5" cy="326.8" r="0.8"/><circle cx="250.8" cy="336.0" r="0.8"/><circle cx="242.8" cy="330.1" r="0.8"/><circle cx="247.3" cy="334.8" r="0.8"/><circle cx="252.0" cy="326.0" r="0.8"/><circle cx="252.1" cy="331.5" r="0.8"/><circle cx="252.5" cy="306.2" r="0.8"/><circle cx="244.4" cy="334.4" r="0.8"/><circle cx="244.8" cy="333.3" r="0.8"/><circle cx="236.3" cy="331.3" r="0.8"/><circle cx="247.5" cy="326.0" r="0.8"/><circle cx="246.5" cy="334.1" r="0.8"/><circle cx="237.7" cy="317.9" r="0.8"/><circle cx="243.4" cy="321.2" r="0.8"/><circle cx="243.2" cy="302.3" r="0.8"/><circle cx="235.0" cy="326.6" r="0.8"/><circle cx="243.6" cy="317.0" r="0.8"/><circle cx="235.8" cy="316.6" r="0.8"/><circle cx="247.5" cy="332.2" r="0.8"/><circle cx="246.1" cy="318.8" r="0.8"/><circle cx="245.0" cy="331.1" r="0.8"/><circle cx="249.9" cy="335.6" r="0.8"/><circle cx="240.5" cy="333.0" r="0.8"/><circle cx="249.4" cy="336.5" r="0.8"/><circle cx="248.3" cy="327.5" r="0.8"/><circle cx="223.7" cy="300.5" r="0.8"/><circle cx="251.3" cy="332.1" r="0.8"/><circle cx="231.2" cy="304.8" r="0.8"/><circle cx="252.1" cy="327.4" r="0.8"/><circle cx="243.7" cy="336.4" r="0.8"/><circle cx="244.6" cy="322.0" r="0.8"/><circle cx="249.3" cy="331.5" r="0.8"/><circle cx="247.0" cy="330.7" r="0.8"/><circle cx="246.1" cy="324.7" r="0.8"/><circle cx="250.1" cy="331.4" r="0.8"/><circle cx="233.9" cy="323.0" r="0.8"/><circle cx="241.5" cy="334.0" r="0.8"/><circle cx="249.4" cy="323.5" r="0.8"/><circle cx="240.6" cy="334.7" r="0.8"/><circle cx="251.6" cy="334.5" r="0.8"/><circle cx="241.2" cy="335.4" r="0.8"/><circle cx="252.6" cy="330.6" r="0.8"/><circle cx="245.6" cy="332.4" r="0.8"/><circle cx="251.0" cy="328.5" r="0.8"/><circle cx="236.8" cy="312.9" r="0.8"/><circle cx="248.8" cy="332.5" r="0.8"/><circle cx="252.5" cy="332.9" r="0.8"/><circle cx="248.8" cy="324.7" r="0.8"/><circle cx="236.3" cy="323.0" r="0.8"/><circle cx="249.2" cy="331.7" r="0.8"/><circle cx="246.0" cy="330.8" r="0.8"/><circle cx="248.2" cy="336.0" r="0.8"/><circle cx="251.6" cy="331.8" r="0.8"/><circle cx="237.1" cy="314.0" r="0.8"/><circle cx="251.9" cy="328.1" r="0.8"/><circle cx="246.2" cy="320.2" r="0.8"/><circle cx="237.3" cy="309.8" r="0.8"/><circle cx="241.6" cy="333.1" r="0.8"/><circle cx="247.4" cy="325.3" r="0.8"/><circle cx="246.8" cy="316.6" r="0.8"/><circle cx="252.3" cy="334.6" r="0.8"/><circle cx="248.8" cy="324.6" r="0.8"/><circle cx="252.3" cy="334.4" r="0.8"/><circle cx="248.0" cy="317.9" r="0.8"/><circle cx="230.6" cy="312.0" r="0.8"/><circle cx="248.9" cy="315.2" r="0.8"/><circle cx="235.7" cy="300.6" r="0.8"/><circle cx="230.6" cy="313.0" r="0.8"/><circle cx="247.8" cy="331.7" r="0.8"/><circle cx="246.9" cy="308.0" r="0.8"/><circle cx="252.4" cy="335.2" r="0.8"/><circle cx="248.3" cy="326.4" r="0.8"/><circle cx="252.5" cy="299.8" r="0.8"/><circle cx="241.5" cy="330.2" r="0.8"/><circle cx="237.1" cy="324.8" r="0.8"/><circle cx="235.6" cy="323.4" r="0.8"/><circle cx="224.6" cy="293.4" r="0.8"/><circle cx="246.5" cy="325.0" r="0.8"/><circle cx="249.8" cy="327.1" r="0.8"/><circle cx="245.6" cy="332.9" r="0.8"/><circle cx="247.3" cy="329.3" r="0.8"/><circle cx="238.3" cy="335.4" r="0.8"/><circle cx="246.0" cy="331.5" r="0.8"/><circle cx="244.7" cy="331.2" r="0.8"/><circle cx="231.6" cy="317.5" r="0.8"/><circle cx="234.7" cy="324.9" r="0.8"/><circle cx="246.0" cy="330.8" r="0.8"/><circle cx="236.8" cy="331.4" r="0.8"/><circle cx="250.3" cy="334.8" r="0.8"/><circle cx="248.9" cy="318.2" r="0.8"/><circle cx="248.5" cy="335.7" r="0.8"/><circle cx="246.0" cy="328.7" r="0.8"/><circle cx="248.4" cy="333.2" r="0.8"/><circle cx="250.8" cy="332.3" r="0.8"/><circle cx="249.8" cy="327.7" r="0.8"/><circle cx="238.6" cy="333.9" r="0.8"/><circle cx="244.7" cy="309.2" r="0.8"/><circle cx="251.6" cy="327.1" r="0.8"/><circle cx="246.4" cy="336.3" r="0.8"/><circle cx="251.4" cy="300.1" r="0.8"/><circle cx="239.4" cy="328.9" r="0.8"/><circle cx="245.3" cy="336.4" r="0.8"/><circle cx="241.4" cy="332.7" r="0.8"/><circle cx="232.0" cy="314.8" r="0.8"/><circle cx="251.6" cy="317.5" r="0.8"/><circle cx="242.8" cy="323.1" r="0.8"/><circle cx="250.5" cy="332.1" r="0.8"/><circle cx="246.6" cy="328.5" r="0.8"/><circle cx="236.5" cy="330.0" r="0.8"/><circle cx="239.7" cy="333.3" r="0.8"/><circle cx="243.2" cy="334.6" r="0.8"/><circle cx="247.2" cy="329.2" r="0.8"/><circle cx="251.2" cy="328.4" r="0.8"/><circle cx="247.5" cy="333.4" r="0.8"/><circle cx="240.1" cy="333.9" r="0.8"/><circle cx="240.9" cy="321.8" r="0.8"/><circle cx="250.5" cy="321.6" r="0.8"/><circle cx="252.0" cy="336.4" r="0.8"/><circle cx="241.9" cy="309.5" r="0.8"/><circle cx="244.1" cy="291.0" r="0.8"/><circle cx="242.8" cy="330.4" r="0.8"/><circle cx="244.0" cy="313.0" r="0.8"/><circle cx="247.7" cy="328.3" r="0.8"/><circle cx="238.7" cy="333.1" r="0.8"/><circle cx="242.8" cy="307.0" r="0.8"/><circle cx="240.0" cy="334.7" r="0.8"/><circle cx="240.3" cy="328.7" r="0.8"/><circle cx="251.9" cy="329.8" r="0.8"/><circle cx="251.3" cy="319.4" r="0.8"/><circle cx="249.4" cy="301.8" r="0.8"/><circle cx="252.6" cy="331.3" r="0.8"/><circle cx="243.5" cy="333.4" r="0.8"/><circle cx="251.7" cy="335.3" r="0.8"/><circle cx="252.6" cy="335.8" r="0.8"/><circle cx="249.8" cy="327.5" r="0.8"/><circle cx="239.0" cy="319.0" r="0.8"/><circle cx="236.1" cy="327.7" r="0.8"/><circle cx="244.8" cy="292.5" r="0.8"/><circle cx="238.3" cy="317.8" r="0.8"/><circle cx="241.3" cy="334.0" r="0.8"/><circle cx="243.9" cy="336.1" r="0.8"/><circle cx="236.5" cy="306.9" r="0.8"/><circle cx="240.2" cy="321.5" r="0.8"/><circle cx="251.5" cy="329.9" r="0.8"/><circle cx="248.7" cy="330.6" r="0.8"/><circle cx="232.4" cy="315.5" r="0.8"/><circle cx="244.0" cy="292.8" r="0.8"/><circle cx="228.9" cy="308.4" r="0.8"/><circle cx="245.9" cy="336.3" r="0.8"/><circle cx="252.0" cy="335.3" r="0.8"/><circle cx="241.3" cy="329.2" r="0.8"/><circle cx="248.9" cy="334.1" r="0.8"/><circle cx="244.2" cy="328.3" r="0.8"/><circle cx="251.0" cy="334.9" r="0.8"/><circle cx="249.2" cy="336.4" r="0.8"/><circle cx="241.8" cy="334.0" r="0.8"/><circle cx="235.9" cy="323.4" r="0.8"/><circle cx="251.9" cy="316.1" r="0.8"/><circle cx="239.5" cy="331.5" r="0.8"/><circle cx="236.1" cy="323.5" r="0.8"/><circle cx="241.1" cy="336.1" r="0.8"/><circle cx="240.0" cy="330.2" r="0.8"/><circle cx="247.4" cy="325.6" r="0.8"/><circle cx="252.4" cy="327.2" r="0.8"/><circle cx="227.4" cy="302.1" r="0.8"/><circle cx="240.9" cy="323.4" r="0.8"/><circle cx="244.8" cy="319.8" r="0.8"/><circle cx="243.4" cy="333.1" r="0.8"/><circle cx="233.2" cy="311.1" r="0.8"/><circle cx="249.1" cy="334.3" r="0.8"/><circle cx="244.8" cy="332.4" r="0.8"/><circle cx="237.6" cy="307.5" r="0.8"/><circle cx="246.0" cy="325.5" r="0.8"/><circle cx="249.7" cy="334.1" r="0.8"/><circle cx="236.4" cy="306.6" r="0.8"/><circle cx="249.4" cy="322.0" r="0.8"/><circle cx="252.5" cy="336.3" r="0.8"/><circle cx="250.7" cy="336.3" r="0.8"/><circle cx="249.8" cy="325.7" r="0.8"/><circle cx="252.5" cy="335.4" r="0.8"/><circle cx="251.5" cy="336.4" r="0.8"/><circle cx="251.0" cy="331.4" r="0.8"/><circle cx="243.9" cy="333.3" r="0.8"/><circle cx="251.4" cy="334.8" r="0.8"/><circle cx="248.0" cy="318.0" r="0.8"/><circle cx="248.5" cy="324.1" r="0.8"/><circle cx="252.6" cy="321.6" r="0.8"/><circle cx="239.3" cy="332.6" r="0.8"/><circle cx="243.4" cy="332.2" r="0.8"/><circle cx="251.7" cy="333.6" r="0.8"/><circle cx="246.1" cy="329.6" r="0.8"/><circle cx="246.2" cy="336.1" r="0.8"/><circle cx="247.8" cy="329.6" r="0.8"/><circle cx="233.4" cy="318.7" r="0.8"/><circle cx="248.8" cy="330.0" r="0.8"/><circle cx="236.7" cy="318.1" r="0.8"/><circle cx="242.7" cy="327.5" r="0.8"/><circle cx="241.6" cy="331.3" r="0.8"/><circle cx="236.8" cy="325.7" r="0.8"/><circle cx="252.1" cy="332.1" r="0.8"/><circle cx="239.5" cy="311.4" r="0.8"/><circle cx="236.4" cy="316.2" r="0.8"/><circle cx="246.3" cy="318.0" r="0.8"/><circle cx="238.6" cy="311.4" r="0.8"/><circle cx="250.8" cy="330.0" r="0.8"/><circle cx="250.3" cy="335.3" r="0.8"/><circle cx="248.5" cy="331.7" r="0.8"/><circle cx="233.9" cy="324.4" r="0.8"/><circle cx="241.3" cy="326.1" r="0.8"/><circle cx="243.6" cy="336.4" r="0.8"/><circle cx="239.1" cy="327.0" r="0.8"/><circle cx="243.0" cy="331.2" r="0.8"/><circle cx="239.2" cy="327.6" r="0.8"/><circle cx="238.9" cy="329.4" r="0.8"/><circle cx="241.0" cy="311.0" r="0.8"/><circle cx="240.9" cy="327.8" r="0.8"/><circle cx="235.0" cy="327.4" r="0.8"/><circle cx="240.2" cy="302.4" r="0.8"/><circle cx="251.4" cy="321.9" r="0.8"/><circle cx="237.5" cy="307.1" r="0.8"/><circle cx="252.6" cy="336.2" r="0.8"/><circle cx="234.4" cy="313.1" r="0.8"/><circle cx="246.3" cy="324.5" r="0.8"/><circle cx="246.3" cy="333.1" r="0.8"/><circle cx="237.1" cy="306.7" r="0.8"/><circle cx="250.6" cy="336.0" r="0.8"/><circle cx="240.4" cy="335.4" r="0.8"/><circle cx="230.0" cy="313.0" r="0.8"/><circle cx="248.5" cy="329.5" r="0.8"/><circle cx="250.0" cy="335.8" r="0.8"/><circle cx="247.5" cy="331.3" r="0.8"/><circle cx="241.5" cy="331.4" r="0.8"/><circle cx="245.1" cy="312.0" r="0.8"/><circle cx="247.5" cy="315.2" r="0.8"/><circle cx="240.6" cy="332.7" r="0.8"/><circle cx="252.1" cy="335.4" r="0.8"/><circle cx="246.8" cy="328.6" r="0.8"/><circle cx="233.1" cy="318.0" r="0.8"/><circle cx="239.8" cy="330.7" r="0.8"/><circle cx="239.7" cy="334.8" r="0.8"/><circle cx="247.4" cy="329.8" r="0.8"/><circle cx="252.1" cy="336.4" r="0.8"/><circle cx="251.5" cy="330.3" r="0.8"/><circle cx="232.4" cy="323.0" r="0.8"/><circle cx="241.3" cy="332.3" r="0.8"/><circle cx="242.1" cy="325.5" r="0.8"/><circle cx="243.4" cy="317.7" r="0.8"/><circle cx="250.2" cy="314.4" r="0.8"/><circle cx="243.3" cy="322.2" r="0.8"/><circle cx="250.2" cy="333.8" r="0.8"/><circle cx="235.0" cy="299.5" r="0.8"/><circle cx="245.0" cy="327.9" r="0.8"/><circle cx="238.5" cy="312.8" r="0.8"/><circle cx="238.2" cy="333.4" r="0.8"/><circle cx="234.3" cy="312.8" r="0.8"/><circle cx="239.7" cy="321.0" r="0.8"/><circle cx="236.7" cy="331.6" r="0.8"/><circle cx="250.4" cy="320.9" r="0.8"/><circle cx="244.5" cy="315.7" r="0.8"/><circle cx="240.2" cy="335.8" r="0.8"/><circle cx="247.3" cy="333.3" r="0.8"/><circle cx="246.1" cy="335.3" r="0.8"/><circle cx="238.1" cy="326.9" r="0.8"/><circle cx="225.4" cy="298.0" r="0.8"/><circle cx="246.1" cy="322.7" r="0.8"/><circle cx="247.9" cy="301.5" r="0.8"/><circle cx="244.6" cy="331.8" r="0.8"/><circle cx="244.4" cy="330.8" r="0.8"/><circle cx="250.1" cy="335.0" r="0.8"/><circle cx="247.7" cy="336.3" r="0.8"/><circle cx="240.4" cy="333.1" r="0.8"/><circle cx="250.6" cy="332.8" r="0.8"/><circle cx="249.9" cy="320.7" r="0.8"/><circle cx="241.5" cy="313.6" r="0.8"/><circle cx="243.0" cy="334.6" r="0.8"/><circle cx="244.8" cy="331.9" r="0.8"/><circle cx="235.1" cy="326.6" r="0.8"/><circle cx="248.3" cy="335.8" r="0.8"/><circle cx="244.7" cy="315.9" r="0.8"/><circle cx="243.7" cy="327.6" r="0.8"/><circle cx="252.4" cy="336.4" r="0.8"/><circle cx="244.1" cy="308.0" r="0.8"/><circle cx="244.2" cy="329.2" r="0.8"/><circle cx="233.5" cy="319.1" r="0.8"/><circle cx="244.4" cy="335.5" r="0.8"/><circle cx="246.0" cy="336.5" r="0.8"/><circle cx="243.2" cy="315.3" r="0.8"/><circle cx="238.8" cy="330.8" r="0.8"/><circle cx="233.9" cy="321.7" r="0.8"/><circle cx="248.3" cy="326.8" r="0.8"/><circle cx="244.1" cy="321.7" r="0.8"/><circle cx="251.5" cy="336.5" r="0.8"/><circle cx="233.9" cy="296.5" r="0.8"/><circle cx="242.6" cy="336.1" r="0.8"/><circle cx="252.1" cy="318.8" r="0.8"/><circle cx="246.1" cy="334.2" r="0.8"/><circle cx="243.9" cy="320.9" r="0.8"/><circle cx="246.0" cy="331.2" r="0.8"/><circle cx="233.9" cy="324.0" r="0.8"/><circle cx="226.7" cy="309.9" r="0.8"/><circle cx="243.3" cy="316.0" r="0.8"/><circle cx="237.8" cy="331.1" r="0.8"/><circle cx="246.2" cy="304.6" r="0.8"/><circle cx="246.5" cy="317.2" r="0.8"/><circle cx="247.0" cy="335.8" r="0.8"/><circle cx="240.2" cy="307.8" r="0.8"/><circle cx="233.5" cy="315.4" r="0.8"/><circle cx="247.5" cy="316.5" r="0.8"/><circle cx="251.4" cy="306.2" r="0.8"/><circle cx="251.8" cy="327.7" r="0.8"/><circle cx="238.1" cy="330.5" r="0.8"/><circle cx="229.1" cy="315.5" r="0.8"/><circle cx="244.3" cy="326.2" r="0.8"/></g>
<g fill="#e8191f"><circle cx="268.1" cy="333.9" r="0.8"/><circle cx="267.6" cy="302.0" r="0.8"/><circle cx="266.7" cy="308.5" r="0.8"/><circle cx="265.1" cy="313.0" r="0.8"/><circle cx="264.6" cy="288.3" r="0.8"/><circle cx="269.3" cy="335.3" r="0.8"/><circle cx="274.7" cy="314.7" r="0.8"/><circle cx="272.7" cy="329.0" r="0.8"/><circle cx="266.1" cy="333.2" r="0.8"/><circle cx="265.1" cy="331.6" r="0.8"/><circle cx="265.0" cy="335.9" r="0.8"/><circle cx="271.0" cy="325.2" r="0.8"/><circle cx="270.5" cy="330.6" r="0.8"/><circle cx="274.5" cy="330.7" r="0.8"/><circle cx="272.7" cy="336.4" r="0.8"/><circle cx="272.8" cy="303.0" r="0.8"/><circle cx="280.8" cy="321.8" r="0.8"/><circle cx="264.2" cy="334.3" r="0.8"/><circle cx="273.3" cy="326.2" r="0.8"/><circle cx="268.8" cy="325.4" r="0.8"/><circle cx="268.2" cy="328.3" r="0.8"/><circle cx="264.2" cy="306.0" r="0.8"/><circle cx="264.3" cy="321.0" r="0.8"/><circle cx="266.1" cy="309.5" r="0.8"/><circle cx="266.8" cy="313.2" r="0.8"/><circle cx="269.5" cy="321.9" r="0.8"/><circle cx="271.1" cy="291.0" r="0.8"/><circle cx="269.0" cy="326.1" r="0.8"/><circle cx="277.1" cy="332.4" r="0.8"/><circle cx="264.6" cy="330.4" r="0.8"/><circle cx="272.2" cy="333.2" r="0.8"/><circle cx="273.2" cy="302.5" r="0.8"/><circle cx="266.0" cy="290.9" r="0.8"/><circle cx="277.9" cy="304.9" r="0.8"/><circle cx="264.2" cy="333.0" r="0.8"/><circle cx="267.5" cy="328.5" r="0.8"/><circle cx="273.2" cy="326.7" r="0.8"/><circle cx="265.4" cy="332.8" r="0.8"/><circle cx="264.6" cy="330.7" r="0.8"/><circle cx="270.6" cy="328.1" r="0.8"/><circle cx="264.5" cy="331.9" r="0.8"/><circle cx="264.3" cy="317.5" r="0.8"/><circle cx="273.1" cy="308.1" r="0.8"/><circle cx="264.0" cy="332.8" r="0.8"/><circle cx="264.0" cy="309.4" r="0.8"/><circle cx="270.5" cy="316.1" r="0.8"/><circle cx="265.1" cy="319.5" r="0.8"/><circle cx="265.8" cy="317.4" r="0.8"/><circle cx="279.9" cy="323.6" r="0.8"/><circle cx="264.7" cy="323.3" r="0.8"/><circle cx="267.1" cy="332.5" r="0.8"/><circle cx="277.8" cy="310.7" r="0.8"/><circle cx="270.2" cy="329.3" r="0.8"/><circle cx="268.5" cy="330.2" r="0.8"/><circle cx="277.6" cy="331.0" r="0.8"/><circle cx="266.1" cy="329.8" r="0.8"/><circle cx="265.3" cy="322.4" r="0.8"/><circle cx="267.5" cy="334.8" r="0.8"/><circle cx="267.6" cy="311.0" r="0.8"/><circle cx="265.8" cy="331.7" r="0.8"/><circle cx="265.8" cy="323.1" r="0.8"/><circle cx="269.2" cy="325.4" r="0.8"/><circle cx="266.0" cy="336.0" r="0.8"/><circle cx="265.4" cy="311.5" r="0.8"/><circle cx="264.2" cy="316.3" r="0.8"/><circle cx="267.7" cy="326.8" r="0.8"/><circle cx="264.0" cy="321.2" r="0.8"/><circle cx="267.0" cy="334.7" r="0.8"/><circle cx="271.1" cy="300.1" r="0.8"/><circle cx="271.2" cy="307.8" r="0.8"/><circle cx="274.8" cy="335.4" r="0.8"/><circle cx="265.1" cy="332.2" r="0.8"/><circle cx="267.7" cy="325.7" r="0.8"/><circle cx="277.8" cy="296.6" r="0.8"/><circle cx="265.2" cy="332.4" r="0.8"/><circle cx="266.2" cy="328.1" r="0.8"/><circle cx="264.9" cy="332.9" r="0.8"/><circle cx="265.8" cy="332.1" r="0.8"/><circle cx="265.9" cy="334.9" r="0.8"/><circle cx="282.5" cy="292.4" r="0.8"/><circle cx="279.9" cy="322.5" r="0.8"/><circle cx="264.4" cy="295.8" r="0.8"/><circle cx="266.1" cy="335.9" r="0.8"/><circle cx="280.3" cy="325.5" r="0.8"/><circle cx="271.4" cy="336.2" r="0.8"/><circle cx="266.0" cy="313.6" r="0.8"/><circle cx="279.0" cy="315.3" r="0.8"/><circle cx="270.8" cy="335.1" r="0.8"/><circle cx="274.2" cy="327.2" r="0.8"/><circle cx="271.0" cy="334.2" r="0.8"/><circle cx="264.0" cy="336.4" r="0.8"/><circle cx="266.6" cy="328.3" r="0.8"/><circle cx="265.1" cy="328.3" r="0.8"/><circle cx="268.7" cy="328.7" r="0.8"/><circle cx="276.2" cy="330.1" r="0.8"/><circle cx="276.5" cy="333.9" r="0.8"/><circle cx="275.4" cy="333.5" r="0.8"/><circle cx="270.5" cy="328.4" r="0.8"/><circle cx="274.3" cy="332.6" r="0.8"/><circle cx="273.6" cy="332.9" r="0.8"/><circle cx="278.7" cy="320.9" r="0.8"/><circle cx="265.0" cy="313.0" r="0.8"/><circle cx="264.4" cy="311.9" r="0.8"/><circle cx="281.3" cy="312.3" r="0.8"/><circle cx="264.0" cy="334.4" r="0.8"/><circle cx="267.3" cy="312.3" r="0.8"/><circle cx="276.7" cy="320.0" r="0.8"/><circle cx="272.0" cy="295.1" r="0.8"/><circle cx="281.5" cy="309.6" r="0.8"/><circle cx="267.5" cy="315.1" r="0.8"/><circle cx="269.2" cy="300.4" r="0.8"/><circle cx="268.3" cy="302.8" r="0.8"/><circle cx="264.0" cy="326.9" r="0.8"/><circle cx="276.2" cy="334.9" r="0.8"/><circle cx="273.2" cy="327.7" r="0.8"/><circle cx="273.2" cy="327.2" r="0.8"/><circle cx="264.6" cy="325.7" r="0.8"/><circle cx="270.9" cy="331.0" r="0.8"/><circle cx="276.8" cy="334.1" r="0.8"/><circle cx="269.2" cy="335.6" r="0.8"/><circle cx="276.5" cy="306.7" r="0.8"/><circle cx="264.3" cy="334.3" r="0.8"/><circle cx="267.9" cy="318.7" r="0.8"/><circle cx="264.4" cy="335.1" r="0.8"/><circle cx="264.0" cy="320.6" r="0.8"/><circle cx="277.3" cy="331.6" r="0.8"/><circle cx="275.1" cy="332.3" r="0.8"/><circle cx="264.8" cy="336.2" r="0.8"/><circle cx="272.0" cy="335.8" r="0.8"/><circle cx="274.6" cy="324.3" r="0.8"/><circle cx="275.5" cy="312.0" r="0.8"/><circle cx="267.7" cy="334.9" r="0.8"/><circle cx="273.2" cy="336.1" r="0.8"/><circle cx="268.1" cy="329.7" r="0.8"/><circle cx="285.7" cy="304.1" r="0.8"/><circle cx="267.4" cy="323.0" r="0.8"/><circle cx="280.0" cy="306.5" r="0.8"/><circle cx="267.7" cy="333.0" r="0.8"/><circle cx="288.1" cy="293.4" r="0.8"/><circle cx="270.7" cy="300.8" r="0.8"/><circle cx="275.6" cy="334.0" r="0.8"/><circle cx="270.0" cy="333.2" r="0.8"/><circle cx="275.6" cy="329.4" r="0.8"/><circle cx="266.9" cy="329.9" r="0.8"/><circle cx="276.0" cy="309.1" r="0.8"/><circle cx="264.4" cy="334.7" r="0.8"/><circle cx="269.4" cy="320.1" r="0.8"/><circle cx="270.0" cy="303.9" r="0.8"/><circle cx="267.8" cy="335.8" r="0.8"/><circle cx="274.0" cy="332.4" r="0.8"/><circle cx="279.4" cy="312.5" r="0.8"/><circle cx="269.2" cy="334.9" r="0.8"/><circle cx="277.8" cy="333.3" r="0.8"/><circle cx="270.8" cy="334.2" r="0.8"/><circle cx="265.2" cy="318.1" r="0.8"/><circle cx="264.4" cy="323.8" r="0.8"/><circle cx="265.6" cy="335.8" r="0.8"/><circle cx="267.4" cy="335.4" r="0.8"/><circle cx="279.6" cy="320.0" r="0.8"/><circle cx="268.1" cy="332.1" r="0.8"/><circle cx="266.5" cy="319.5" r="0.8"/><circle cx="266.7" cy="331.2" r="0.8"/><circle cx="267.6" cy="310.4" r="0.8"/><circle cx="264.7" cy="315.2" r="0.8"/><circle cx="265.8" cy="331.2" r="0.8"/><circle cx="264.6" cy="332.8" r="0.8"/><circle cx="274.8" cy="329.2" r="0.8"/><circle cx="281.4" cy="320.8" r="0.8"/><circle cx="265.9" cy="331.0" r="0.8"/><circle cx="268.3" cy="332.5" r="0.8"/><circle cx="273.6" cy="334.6" r="0.8"/><circle cx="264.0" cy="328.5" r="0.8"/><circle cx="267.8" cy="326.3" r="0.8"/><circle cx="265.8" cy="333.4" r="0.8"/><circle cx="281.7" cy="320.4" r="0.8"/><circle cx="265.7" cy="323.1" r="0.8"/><circle cx="266.0" cy="336.1" r="0.8"/><circle cx="267.3" cy="332.6" r="0.8"/><circle cx="265.8" cy="327.8" r="0.8"/><circle cx="276.5" cy="333.9" r="0.8"/><circle cx="278.3" cy="293.4" r="0.8"/><circle cx="273.0" cy="298.1" r="0.8"/><circle cx="268.6" cy="316.8" r="0.8"/><circle cx="277.3" cy="320.7" r="0.8"/><circle cx="276.3" cy="318.7" r="0.8"/><circle cx="266.8" cy="322.7" r="0.8"/><circle cx="280.4" cy="312.9" r="0.8"/><circle cx="264.6" cy="332.7" r="0.8"/><circle cx="265.2" cy="336.4" r="0.8"/><circle cx="264.9" cy="333.6" r="0.8"/><circle cx="266.0" cy="333.9" r="0.8"/><circle cx="277.2" cy="333.9" r="0.8"/><circle cx="264.0" cy="335.5" r="0.8"/><circle cx="268.5" cy="299.4" r="0.8"/><circle cx="266.7" cy="316.4" r="0.8"/><circle cx="264.0" cy="336.4" r="0.8"/><circle cx="264.1" cy="299.2" r="0.8"/><circle cx="265.6" cy="328.0" r="0.8"/><circle cx="267.3" cy="321.5" r="0.8"/><circle cx="265.4" cy="312.5" r="0.8"/><circle cx="279.9" cy="325.3" r="0.8"/><circle cx="279.1" cy="325.5" r="0.8"/><circle cx="275.0" cy="335.8" r="0.8"/><circle cx="279.3" cy="329.3" r="0.8"/><circle cx="265.7" cy="319.0" r="0.8"/><circle cx="264.9" cy="315.2" r="0.8"/><circle cx="273.8" cy="325.6" r="0.8"/><circle cx="264.1" cy="333.9" r="0.8"/><circle cx="265.2" cy="309.8" r="0.8"/><circle cx="269.2" cy="315.7" r="0.8"/><circle cx="275.1" cy="333.4" r="0.8"/><circle cx="265.5" cy="329.8" r="0.8"/><circle cx="285.8" cy="303.2" r="0.8"/><circle cx="278.4" cy="330.7" r="0.8"/><circle cx="273.4" cy="334.9" r="0.8"/><circle cx="265.5" cy="323.7" r="0.8"/><circle cx="266.2" cy="329.2" r="0.8"/><circle cx="268.1" cy="320.2" r="0.8"/><circle cx="271.8" cy="328.4" r="0.8"/><circle cx="264.2" cy="330.3" r="0.8"/><circle cx="276.6" cy="326.6" r="0.8"/><circle cx="265.5" cy="332.6" r="0.8"/><circle cx="265.0" cy="300.9" r="0.8"/><circle cx="267.4" cy="289.8" r="0.8"/><circle cx="272.3" cy="333.1" r="0.8"/><circle cx="270.0" cy="304.3" r="0.8"/><circle cx="264.4" cy="332.0" r="0.8"/><circle cx="271.4" cy="336.4" r="0.8"/><circle cx="266.6" cy="316.9" r="0.8"/><circle cx="274.1" cy="327.2" r="0.8"/><circle cx="273.4" cy="319.1" r="0.8"/><circle cx="266.0" cy="300.1" r="0.8"/><circle cx="266.4" cy="322.2" r="0.8"/><circle cx="266.3" cy="319.9" r="0.8"/><circle cx="275.1" cy="328.8" r="0.8"/><circle cx="272.2" cy="312.6" r="0.8"/><circle cx="279.5" cy="312.6" r="0.8"/><circle cx="264.2" cy="329.4" r="0.8"/><circle cx="264.2" cy="295.4" r="0.8"/><circle cx="264.3" cy="328.0" r="0.8"/><circle cx="274.8" cy="325.3" r="0.8"/><circle cx="268.1" cy="336.0" r="0.8"/><circle cx="271.8" cy="329.0" r="0.8"/><circle cx="275.3" cy="303.2" r="0.8"/><circle cx="266.3" cy="335.6" r="0.8"/><circle cx="264.7" cy="327.4" r="0.8"/><circle cx="267.7" cy="308.0" r="0.8"/><circle cx="265.1" cy="330.1" r="0.8"/><circle cx="275.4" cy="325.3" r="0.8"/><circle cx="268.2" cy="334.8" r="0.8"/><circle cx="264.1" cy="331.4" r="0.8"/><circle cx="271.1" cy="329.2" r="0.8"/><circle cx="281.0" cy="322.7" r="0.8"/><circle cx="280.0" cy="318.9" r="0.8"/><circle cx="273.7" cy="317.6" r="0.8"/><circle cx="281.4" cy="303.2" r="0.8"/><circle cx="266.8" cy="316.1" r="0.8"/><circle cx="275.5" cy="331.7" r="0.8"/><circle cx="266.7" cy="336.2" r="0.8"/><circle cx="266.5" cy="310.0" r="0.8"/><circle cx="266.6" cy="326.5" r="0.8"/><circle cx="276.6" cy="321.7" r="0.8"/><circle cx="267.0" cy="335.7" r="0.8"/><circle cx="268.6" cy="308.3" r="0.8"/><circle cx="268.6" cy="331.9" r="0.8"/><circle cx="275.2" cy="333.8" r="0.8"/><circle cx="275.5" cy="327.0" r="0.8"/><circle cx="265.8" cy="319.6" r="0.8"/><circle cx="264.2" cy="308.6" r="0.8"/><circle cx="279.5" cy="298.7" r="0.8"/><circle cx="269.7" cy="332.5" r="0.8"/><circle cx="268.1" cy="330.3" r="0.8"/><circle cx="270.4" cy="293.4" r="0.8"/><circle cx="264.0" cy="323.9" r="0.8"/><circle cx="267.9" cy="335.7" r="0.8"/><circle cx="277.9" cy="328.6" r="0.8"/><circle cx="277.7" cy="324.2" r="0.8"/><circle cx="278.8" cy="324.1" r="0.8"/><circle cx="264.0" cy="330.9" r="0.8"/><circle cx="273.1" cy="316.2" r="0.8"/><circle cx="265.0" cy="333.4" r="0.8"/><circle cx="277.3" cy="327.3" r="0.8"/><circle cx="268.2" cy="320.4" r="0.8"/><circle cx="266.7" cy="324.2" r="0.8"/><circle cx="264.8" cy="329.2" r="0.8"/><circle cx="264.0" cy="319.2" r="0.8"/><circle cx="264.2" cy="325.7" r="0.8"/><circle cx="272.8" cy="334.3" r="0.8"/><circle cx="270.7" cy="307.6" r="0.8"/><circle cx="278.5" cy="288.7" r="0.8"/><circle cx="271.0" cy="325.3" r="0.8"/><circle cx="264.2" cy="336.4" r="0.8"/><circle cx="267.5" cy="316.4" r="0.8"/><circle cx="265.7" cy="332.2" r="0.8"/><circle cx="276.7" cy="333.1" r="0.8"/><circle cx="265.6" cy="325.0" r="0.8"/><circle cx="269.5" cy="335.6" r="0.8"/><circle cx="274.5" cy="336.3" r="0.8"/><circle cx="272.9" cy="334.0" r="0.8"/><circle cx="266.5" cy="307.6" r="0.8"/><circle cx="272.9" cy="323.7" r="0.8"/><circle cx="267.5" cy="327.7" r="0.8"/><circle cx="266.1" cy="305.2" r="0.8"/><circle cx="264.0" cy="324.4" r="0.8"/><circle cx="279.9" cy="324.3" r="0.8"/><circle cx="273.1" cy="329.2" r="0.8"/><circle cx="266.8" cy="330.8" r="0.8"/><circle cx="276.4" cy="329.3" r="0.8"/><circle cx="264.0" cy="330.8" r="0.8"/><circle cx="270.6" cy="325.0" r="0.8"/><circle cx="268.7" cy="323.0" r="0.8"/><circle cx="272.4" cy="331.4" r="0.8"/><circle cx="265.5" cy="332.4" r="0.8"/><circle cx="264.1" cy="333.7" r="0.8"/><circle cx="271.3" cy="333.2" r="0.8"/><circle cx="268.0" cy="329.2" r="0.8"/><circle cx="265.4" cy="332.7" r="0.8"/><circle cx="280.1" cy="319.6" r="0.8"/><circle cx="271.5" cy="334.4" r="0.8"/><circle cx="273.2" cy="289.5" r="0.8"/><circle cx="265.2" cy="303.8" r="0.8"/><circle cx="264.4" cy="314.2" r="0.8"/><circle cx="264.2" cy="333.0" r="0.8"/><circle cx="272.4" cy="336.5" r="0.8"/><circle cx="266.7" cy="330.3" r="0.8"/><circle cx="265.7" cy="317.3" r="0.8"/><circle cx="265.2" cy="308.0" r="0.8"/><circle cx="270.5" cy="306.6" r="0.8"/><circle cx="282.0" cy="296.5" r="0.8"/><circle cx="267.1" cy="292.4" r="0.8"/><circle cx="266.0" cy="328.8" r="0.8"/><circle cx="269.8" cy="328.0" r="0.8"/><circle cx="267.1" cy="308.0" r="0.8"/><circle cx="265.8" cy="324.7" r="0.8"/><circle cx="264.1" cy="328.0" r="0.8"/><circle cx="271.2" cy="325.2" r="0.8"/><circle cx="277.3" cy="323.5" r="0.8"/><circle cx="265.8" cy="325.8" r="0.8"/><circle cx="269.3" cy="292.9" r="0.8"/><circle cx="268.5" cy="333.4" r="0.8"/><circle cx="265.9" cy="318.9" r="0.8"/><circle cx="264.2" cy="332.7" r="0.8"/><circle cx="267.1" cy="324.7" r="0.8"/><circle cx="264.8" cy="313.4" r="0.8"/><circle cx="264.6" cy="322.8" r="0.8"/><circle cx="264.3" cy="333.3" r="0.8"/><circle cx="274.2" cy="321.4" r="0.8"/><circle cx="275.3" cy="328.2" r="0.8"/><circle cx="279.4" cy="313.0" r="0.8"/><circle cx="268.4" cy="321.5" r="0.8"/><circle cx="274.5" cy="328.7" r="0.8"/><circle cx="265.3" cy="331.5" r="0.8"/><circle cx="275.6" cy="296.7" r="0.8"/><circle cx="264.1" cy="310.5" r="0.8"/><circle cx="271.9" cy="314.9" r="0.8"/><circle cx="265.7" cy="331.5" r="0.8"/><circle cx="279.3" cy="320.1" r="0.8"/><circle cx="264.1" cy="316.6" r="0.8"/><circle cx="266.6" cy="323.7" r="0.8"/><circle cx="264.1" cy="332.8" r="0.8"/><circle cx="265.8" cy="323.9" r="0.8"/><circle cx="268.6" cy="330.6" r="0.8"/><circle cx="266.5" cy="303.4" r="0.8"/><circle cx="272.0" cy="324.1" r="0.8"/><circle cx="278.2" cy="316.1" r="0.8"/><circle cx="275.3" cy="332.8" r="0.8"/><circle cx="267.6" cy="335.4" r="0.8"/><circle cx="279.5" cy="317.2" r="0.8"/><circle cx="271.8" cy="330.3" r="0.8"/><circle cx="264.1" cy="319.0" r="0.8"/><circle cx="277.9" cy="316.3" r="0.8"/><circle cx="266.0" cy="334.4" r="0.8"/><circle cx="278.0" cy="328.3" r="0.8"/><circle cx="265.4" cy="290.6" r="0.8"/><circle cx="264.4" cy="329.2" r="0.8"/><circle cx="265.0" cy="335.8" r="0.8"/><circle cx="284.2" cy="296.6" r="0.8"/><circle cx="270.4" cy="333.3" r="0.8"/><circle cx="268.4" cy="321.8" r="0.8"/><circle cx="264.3" cy="309.2" r="0.8"/><circle cx="264.3" cy="331.9" r="0.8"/><circle cx="279.5" cy="301.4" r="0.8"/><circle cx="264.2" cy="327.8" r="0.8"/><circle cx="277.6" cy="308.6" r="0.8"/><circle cx="283.2" cy="306.9" r="0.8"/><circle cx="269.2" cy="320.6" r="0.8"/><circle cx="264.6" cy="313.0" r="0.8"/><circle cx="266.7" cy="310.0" r="0.8"/><circle cx="276.4" cy="328.1" r="0.8"/><circle cx="266.1" cy="336.5" r="0.8"/><circle cx="268.2" cy="312.0" r="0.8"/><circle cx="276.7" cy="302.5" r="0.8"/><circle cx="268.3" cy="332.8" r="0.8"/><circle cx="271.5" cy="330.2" r="0.8"/><circle cx="269.6" cy="318.4" r="0.8"/><circle cx="274.7" cy="335.4" r="0.8"/><circle cx="270.5" cy="333.7" r="0.8"/><circle cx="269.3" cy="311.2" r="0.8"/><circle cx="268.9" cy="335.8" r="0.8"/><circle cx="264.7" cy="335.0" r="0.8"/><circle cx="264.7" cy="333.2" r="0.8"/><circle cx="274.3" cy="324.0" r="0.8"/><circle cx="278.5" cy="328.1" r="0.8"/><circle cx="266.1" cy="335.5" r="0.8"/><circle cx="269.2" cy="330.9" r="0.8"/><circle cx="266.0" cy="320.4" r="0.8"/><circle cx="267.0" cy="328.5" r="0.8"/><circle cx="264.1" cy="330.5" r="0.8"/><circle cx="264.0" cy="316.5" r="0.8"/><circle cx="265.2" cy="328.6" r="0.8"/><circle cx="272.5" cy="328.6" r="0.8"/><circle cx="279.4" cy="313.2" r="0.8"/><circle cx="266.0" cy="322.2" r="0.8"/><circle cx="264.5" cy="336.4" r="0.8"/><circle cx="268.2" cy="305.1" r="0.8"/><circle cx="266.6" cy="329.6" r="0.8"/><circle cx="264.9" cy="330.6" r="0.8"/><circle cx="268.1" cy="331.7" r="0.8"/><circle cx="264.1" cy="327.7" r="0.8"/><circle cx="264.0" cy="334.8" r="0.8"/><circle cx="271.6" cy="327.3" r="0.8"/><circle cx="268.5" cy="305.5" r="0.8"/><circle cx="275.3" cy="323.0" r="0.8"/><circle cx="269.7" cy="325.4" r="0.8"/><circle cx="271.3" cy="334.2" r="0.8"/><circle cx="266.4" cy="317.6" r="0.8"/><circle cx="265.2" cy="320.8" r="0.8"/><circle cx="266.1" cy="334.9" r="0.8"/><circle cx="267.3" cy="325.0" r="0.8"/><circle cx="277.7" cy="332.3" r="0.8"/><circle cx="266.1" cy="319.0" r="0.8"/><circle cx="271.8" cy="335.5" r="0.8"/><circle cx="277.3" cy="299.3" r="0.8"/><circle cx="280.9" cy="319.7" r="0.8"/><circle cx="264.5" cy="319.2" r="0.8"/><circle cx="267.3" cy="327.3" r="0.8"/><circle cx="264.7" cy="324.0" r="0.8"/><circle cx="273.5" cy="322.2" r="0.8"/><circle cx="270.6" cy="331.9" r="0.8"/><circle cx="271.7" cy="330.4" r="0.8"/><circle cx="278.8" cy="327.4" r="0.8"/><circle cx="264.0" cy="327.4" r="0.8"/><circle cx="271.3" cy="335.5" r="0.8"/><circle cx="272.8" cy="335.1" r="0.8"/><circle cx="266.6" cy="326.6" r="0.8"/><circle cx="275.6" cy="328.9" r="0.8"/><circle cx="267.7" cy="325.2" r="0.8"/><circle cx="270.3" cy="327.3" r="0.8"/><circle cx="272.8" cy="327.7" r="0.8"/><circle cx="265.8" cy="328.9" r="0.8"/><circle cx="267.6" cy="334.7" r="0.8"/><circle cx="264.9" cy="333.6" r="0.8"/><circle cx="266.4" cy="333.8" r="0.8"/><circle cx="271.2" cy="301.5" r="0.8"/><circle cx="268.1" cy="331.8" r="0.8"/><circle cx="264.1" cy="327.6" r="0.8"/><circle cx="270.2" cy="312.5" r="0.8"/><circle cx="265.5" cy="321.9" r="0.8"/><circle cx="264.6" cy="334.8" r="0.8"/><circle cx="264.6" cy="334.3" r="0.8"/><circle cx="275.7" cy="334.5" r="0.8"/><circle cx="268.1" cy="334.3" r="0.8"/><circle cx="265.9" cy="334.3" r="0.8"/><circle cx="266.5" cy="335.2" r="0.8"/><circle cx="272.5" cy="331.7" r="0.8"/><circle cx="267.9" cy="333.5" r="0.8"/><circle cx="280.8" cy="322.5" r="0.8"/><circle cx="270.7" cy="335.6" r="0.8"/><circle cx="268.8" cy="329.0" r="0.8"/><circle cx="273.7" cy="319.0" r="0.8"/><circle cx="274.8" cy="329.4" r="0.8"/><circle cx="265.4" cy="323.9" r="0.8"/><circle cx="264.9" cy="333.4" r="0.8"/><circle cx="279.5" cy="312.2" r="0.8"/><circle cx="269.8" cy="334.0" r="0.8"/><circle cx="264.1" cy="335.4" r="0.8"/><circle cx="270.6" cy="319.9" r="0.8"/><circle cx="267.8" cy="328.4" r="0.8"/><circle cx="267.0" cy="327.7" r="0.8"/><circle cx="277.2" cy="331.7" r="0.8"/><circle cx="269.6" cy="335.5" r="0.8"/><circle cx="266.5" cy="333.7" r="0.8"/><circle cx="264.5" cy="335.9" r="0.8"/><circle cx="264.0" cy="322.8" r="0.8"/><circle cx="270.7" cy="328.7" r="0.8"/><circle cx="264.3" cy="324.2" r="0.8"/><circle cx="266.3" cy="328.6" r="0.8"/><circle cx="279.4" cy="312.8" r="0.8"/><circle cx="275.2" cy="323.5" r="0.8"/><circle cx="278.9" cy="328.8" r="0.8"/><circle cx="279.0" cy="318.2" r="0.8"/><circle cx="271.6" cy="333.9" r="0.8"/><circle cx="273.5" cy="320.4" r="0.8"/><circle cx="265.8" cy="303.9" r="0.8"/><circle cx="269.2" cy="334.7" r="0.8"/><circle cx="277.7" cy="332.9" r="0.8"/><circle cx="270.5" cy="301.1" r="0.8"/><circle cx="272.6" cy="312.5" r="0.8"/><circle cx="272.3" cy="300.9" r="0.8"/><circle cx="278.2" cy="333.2" r="0.8"/><circle cx="264.3" cy="332.0" r="0.8"/><circle cx="273.3" cy="314.5" r="0.8"/><circle cx="265.6" cy="307.4" r="0.8"/><circle cx="281.0" cy="299.1" r="0.8"/><circle cx="264.0" cy="321.6" r="0.8"/><circle cx="267.5" cy="315.5" r="0.8"/><circle cx="266.1" cy="334.4" r="0.8"/><circle cx="267.5" cy="293.6" r="0.8"/><circle cx="277.3" cy="327.5" r="0.8"/><circle cx="267.4" cy="318.4" r="0.8"/><circle cx="269.4" cy="330.6" r="0.8"/><circle cx="273.5" cy="325.3" r="0.8"/><circle cx="264.9" cy="321.5" r="0.8"/><circle cx="278.7" cy="306.4" r="0.8"/><circle cx="264.6" cy="326.4" r="0.8"/><circle cx="276.3" cy="327.8" r="0.8"/><circle cx="266.1" cy="331.9" r="0.8"/><circle cx="274.8" cy="319.4" r="0.8"/><circle cx="268.2" cy="310.6" r="0.8"/><circle cx="265.5" cy="317.3" r="0.8"/><circle cx="271.2" cy="335.8" r="0.8"/><circle cx="275.6" cy="332.6" r="0.8"/><circle cx="266.4" cy="330.8" r="0.8"/><circle cx="264.0" cy="309.3" r="0.8"/><circle cx="264.0" cy="330.7" r="0.8"/><circle cx="264.4" cy="330.6" r="0.8"/><circle cx="268.5" cy="332.3" r="0.8"/><circle cx="264.9" cy="324.6" r="0.8"/><circle cx="264.3" cy="334.3" r="0.8"/><circle cx="264.0" cy="332.0" r="0.8"/><circle cx="264.9" cy="305.9" r="0.8"/><circle cx="270.0" cy="336.3" r="0.8"/><circle cx="264.4" cy="330.5" r="0.8"/><circle cx="264.9" cy="327.3" r="0.8"/><circle cx="268.3" cy="335.4" r="0.8"/><circle cx="266.4" cy="332.6" r="0.8"/><circle cx="279.9" cy="326.6" r="0.8"/><circle cx="270.5" cy="322.9" r="0.8"/><circle cx="268.0" cy="331.3" r="0.8"/><circle cx="275.0" cy="332.1" r="0.8"/><circle cx="281.5" cy="297.8" r="0.8"/><circle cx="272.8" cy="328.8" r="0.8"/><circle cx="274.0" cy="331.4" r="0.8"/><circle cx="265.2" cy="292.6" r="0.8"/><circle cx="277.7" cy="335.3" r="0.8"/><circle cx="275.1" cy="324.2" r="0.8"/><circle cx="278.3" cy="309.1" r="0.8"/><circle cx="265.3" cy="335.0" r="0.8"/><circle cx="276.1" cy="329.8" r="0.8"/><circle cx="265.4" cy="317.4" r="0.8"/><circle cx="273.5" cy="334.4" r="0.8"/><circle cx="264.0" cy="306.2" r="0.8"/><circle cx="264.3" cy="330.7" r="0.8"/><circle cx="264.0" cy="328.4" r="0.8"/><circle cx="264.7" cy="329.4" r="0.8"/><circle cx="277.0" cy="335.7" r="0.8"/><circle cx="276.4" cy="334.2" r="0.8"/><circle cx="267.0" cy="317.7" r="0.8"/><circle cx="266.8" cy="329.7" r="0.8"/><circle cx="269.7" cy="331.9" r="0.8"/><circle cx="269.7" cy="334.5" r="0.8"/><circle cx="264.9" cy="326.7" r="0.8"/><circle cx="267.0" cy="290.8" r="0.8"/><circle cx="273.9" cy="322.1" r="0.8"/><circle cx="271.3" cy="317.0" r="0.8"/><circle cx="267.7" cy="327.6" r="0.8"/><circle cx="264.1" cy="317.0" r="0.8"/><circle cx="276.3" cy="324.5" r="0.8"/><circle cx="268.6" cy="327.8" r="0.8"/><circle cx="275.9" cy="319.5" r="0.8"/><circle cx="270.3" cy="330.8" r="0.8"/><circle cx="272.7" cy="311.9" r="0.8"/><circle cx="278.3" cy="333.1" r="0.8"/><circle cx="271.2" cy="330.4" r="0.8"/><circle cx="271.1" cy="335.8" r="0.8"/><circle cx="278.0" cy="324.8" r="0.8"/><circle cx="264.0" cy="332.7" r="0.8"/><circle cx="267.5" cy="330.7" r="0.8"/><circle cx="266.4" cy="319.7" r="0.8"/><circle cx="278.5" cy="315.1" r="0.8"/><circle cx="277.3" cy="336.1" r="0.8"/><circle cx="265.4" cy="335.6" r="0.8"/><circle cx="273.4" cy="335.3" r="0.8"/><circle cx="266.7" cy="292.1" r="0.8"/><circle cx="279.7" cy="324.3" r="0.8"/></g>
<line x1="212.60" y1="335.50" x2="314.30" y2="335.50" stroke="#555" stroke-width="0.55" stroke-dasharray="1.9 1.3"/>
<line x1="252.50" y1="212.50" x2="252.50" y2="363.40" stroke="#666" stroke-width="0.5" stroke-dasharray="1.6 1.2"/>
<line x1="263.80" y1="212.50" x2="263.80" y2="363.40" stroke="#666" stroke-width="0.5" stroke-dasharray="1.6 1.2"/>
<g fill="#2b62c0"><circle cx="248.8" cy="242.5" r="0.8"/><circle cx="232.0" cy="267.0" r="0.8"/><circle cx="236.5" cy="289.7" r="0.8"/><circle cx="227.5" cy="291.0" r="0.8"/><circle cx="250.8" cy="291.5" r="0.8"/><circle cx="252.0" cy="293.5" r="0.8"/></g>
<g fill="#e8191f"><circle cx="264.6" cy="252.0" r="0.8"/><circle cx="268.2" cy="258.3" r="0.8"/><circle cx="265.8" cy="273.6" r="0.8"/><circle cx="268.6" cy="276.5" r="0.8"/><circle cx="274.2" cy="275.8" r="0.8"/><circle cx="278.3" cy="273.8" r="0.8"/><circle cx="280.8" cy="288.5" r="0.8"/><circle cx="271.7" cy="289.0" r="0.8"/><circle cx="274.3" cy="292.6" r="0.8"/></g>
<g stroke="#000" stroke-width="0.95"><line x1="246.5" y1="226.0" x2="248.8" y2="242.5"/><line x1="256.0" y1="246.8" x2="254.5" y2="266.0"/><line x1="250.5" y1="265.0" x2="253.0" y2="275.0"/><line x1="258.2" y1="268.0" x2="257.5" y2="272.0"/><line x1="251.0" y1="279.0" x2="247.0" y2="283.0"/><line x1="253.5" y1="279.0" x2="256.0" y2="289.0"/><line x1="268.2" y1="258.3" x2="272.7" y2="260.2"/><line x1="272.0" y1="276.0" x2="279.5" y2="283.7"/><line x1="275.5" y1="271.0" x2="276.5" y2="274.0"/><line x1="283.0" y1="277.0" x2="285.5" y2="279.5"/></g>
<rect x="237.7" y="223.3" width="8.90" height="4.40" rx="0.8" fill="#fafafa" stroke="#9a9a9a" stroke-width="0.5"/><text class="s" x="242.15" y="226.40" font-size="2.6" text-anchor="middle" fill="#555">Chst9</text><rect x="251.5" y="222.0" width="11.00" height="4.20" rx="0.8" fill="#fafafa" stroke="#9a9a9a" stroke-width="0.5"/><text class="s" x="257.00" y="225.00" font-size="2.6" text-anchor="middle" fill="#555">Arhgef7</text><rect x="241.5" y="230.9" width="14.00" height="3.80" rx="0.8" fill="#fafafa" stroke="#9a9a9a" stroke-width="0.5"/><text class="s" x="248.50" y="233.70" font-size="2.6" text-anchor="middle" fill="#555">Hmx1c1b</text><rect x="249.8" y="243.0" width="12.70" height="3.80" rx="0.8" fill="#fafafa" stroke="#9a9a9a" stroke-width="0.5"/><text class="s" x="256.15" y="245.80" font-size="2.6" text-anchor="middle" fill="#555">Mapk8ip</text><rect x="263.2" y="246.8" width="10.80" height="3.80" rx="0.8" fill="#fafafa" stroke="#9a9a9a" stroke-width="0.5"/><text class="s" x="268.60" y="249.60" font-size="2.6" text-anchor="middle" fill="#555">Fgf1</text><rect x="255.5" y="251.3" width="7.00" height="3.20" rx="0.8" fill="#fafafa" stroke="#9a9a9a" stroke-width="0.5"/><text class="s" x="259.00" y="253.80" font-size="2.6" text-anchor="middle" fill="#555">Bud3</text><rect x="256.8" y="257.6" width="5.10" height="3.90" rx="0.8" fill="#fafafa" stroke="#9a9a9a" stroke-width="0.5"/><text class="s" x="259.35" y="260.45" font-size="2.6" text-anchor="middle" fill="#555">Tp</text><rect x="272.7" y="258.3" width="12.80" height="3.80" rx="0.8" fill="#fafafa" stroke="#9a9a9a" stroke-width="0.5"/><text class="s" x="279.10" y="261.10" font-size="2.6" text-anchor="middle" fill="#555">Pgs1rnb</text><rect x="243.5" y="262.1" width="8.90" height="3.80" rx="0.8" fill="#fafafa" stroke="#9a9a9a" stroke-width="0.5"/><text class="s" x="247.95" y="264.90" font-size="2.6" text-anchor="middle" fill="#555">Lats1</text><rect x="261.9" y="265.3" width="9.60" height="3.20" rx="0.8" fill="#fafafa" stroke="#9a9a9a" stroke-width="0.5"/><text class="s" x="266.70" y="267.80" font-size="2.6" text-anchor="middle" fill="#555">Magmc</text><rect x="230.1" y="269.1" width="10.80" height="3.80" rx="0.8" fill="#fafafa" stroke="#9a9a9a" stroke-width="0.5"/><text class="s" x="235.50" y="271.90" font-size="2.6" text-anchor="middle" fill="#555">Rbp1b</text><rect x="247.9" y="269.1" width="10.80" height="3.80" rx="0.8" fill="#fafafa" stroke="#9a9a9a" stroke-width="0.5"/><text class="s" x="253.30" y="271.90" font-size="2.6" text-anchor="middle" fill="#555">Sthr1</text><rect x="262.5" y="271.6" width="7.70" height="3.20" rx="0.8" fill="#fafafa" stroke="#9a9a9a" stroke-width="0.5"/><text class="s" x="266.35" y="274.10" font-size="2.6" text-anchor="middle" fill="#555">Lgi1</text><rect x="275.9" y="269.7" width="10.80" height="3.80" rx="0.8" fill="#fafafa" stroke="#9a9a9a" stroke-width="0.5"/><text class="s" x="281.30" y="272.50" font-size="2.6" text-anchor="middle" fill="#555">Slc15a4</text><rect x="240.3" y="275.5" width="10.80" height="3.80" rx="0.8" fill="#fafafa" stroke="#9a9a9a" stroke-width="0.5"/><text class="s" x="245.70" y="278.30" font-size="2.6" text-anchor="middle" fill="#555">Gabra1</text><rect x="283.5" y="278.0" width="9.60" height="3.80" rx="0.8" fill="#fafafa" stroke="#9a9a9a" stroke-width="0.5"/><text class="s" x="288.30" y="280.80" font-size="2.6" text-anchor="middle" fill="#555">Syn1</text><rect x="235.2" y="282.5" width="21.60" height="3.80" rx="0.8" fill="#fafafa" stroke="#9a9a9a" stroke-width="0.5"/><text class="s" x="246.00" y="285.30" font-size="2.6" text-anchor="middle" fill="#555">AC103996.1-Gtl2</text><rect x="257.5" y="282.5" width="9.50" height="3.80" rx="0.8" fill="#fafafa" stroke="#9a9a9a" stroke-width="0.5"/><text class="s" x="262.25" y="285.30" font-size="2.6" text-anchor="middle" fill="#555">Nrxn1</text><rect x="276.5" y="283.7" width="10.20" height="3.80" rx="0.8" fill="#fafafa" stroke="#9a9a9a" stroke-width="0.5"/><text class="s" x="281.60" y="286.50" font-size="2.6" text-anchor="middle" fill="#555">Mtss1l</text><rect x="258.7" y="290.1" width="14.70" height="3.20" rx="0.8" fill="#fafafa" stroke="#9a9a9a" stroke-width="0.5"/><text class="s" x="266.05" y="292.60" font-size="2.6" text-anchor="middle" fill="#555">Tmem132c</text>
<circle cx="328.2" cy="266.4" r="1.45" fill="#2b62c0"/>
<text class="s" x="333.60" y="268.00" font-size="4.6" fill="#222" stroke="#222" stroke-width="0.12">down</text>
<circle cx="328.2" cy="271.0" r="1.45" fill="#6a6a6a"/>
<text class="s" x="333.60" y="272.60" font-size="4.6" fill="#222" stroke="#222" stroke-width="0.12">NS</text>
<circle cx="328.2" cy="275.6" r="1.45" fill="#e8191f"/>
<text class="s" x="333.60" y="277.20" font-size="4.6" fill="#222" stroke="#222" stroke-width="0.12">up</text>
<path d="M326.9 298.30L329.3 300.70M329.3 298.30L326.9 300.70" stroke="#555" stroke-width="0.55" fill="none"/>
<text class="s" x="334.20" y="301.10" font-size="4.5" fill="#222" stroke="#222" stroke-width="0.12">pvalue &gt;= 0.05 and |log2FC| &lt; 0.58496</text>
<path d="M326.7 303.13H329.5L328.1 305.63Z" stroke="#555" stroke-width="0.55" fill="none"/>
<text class="s" x="334.20" y="305.83" font-size="4.5" fill="#222" stroke="#222" stroke-width="0.12">|log2FC| &gt;= 0.58496 but pvalue &gt;= 0.05</text>
<path d="M326.7 310.16H329.5L328.1 307.66Z" stroke="#555" stroke-width="0.55" fill="none"/>
<text class="s" x="334.20" y="310.56" font-size="4.5" fill="#222" stroke="#222" stroke-width="0.12">pvalue &lt; 0.05 but |log2FC| &lt; 0.58496</text>
<circle cx="328.1" cy="313.69" r="1.25" fill="#111"/>
<text class="s" x="334.20" y="315.29" font-size="4.5" fill="#222" stroke="#222" stroke-width="0.12">pvalue &lt; 0.05 and |log2FC| &gt;= 0.58496</text>
<rect x="457.10" y="289.28" width="16.20" height="89.52" fill="#2b5fb5"/>
<rect x="473.30" y="234.80" width="16.60" height="144.00" fill="#e8191f"/>
<line x1="440.80" y1="221.30" x2="440.80" y2="379.50" stroke="#111" stroke-width="1.2"/>
<line x1="440.20" y1="378.90" x2="506.80" y2="378.90" stroke="#111" stroke-width="1.2"/>
<line x1="438.80" y1="378.80" x2="440.80" y2="378.80" stroke="#333" stroke-width="0.6"/>
<text class="s" x="437.60" y="379.90" font-size="3.1" text-anchor="end" fill="#555" stroke="#555" stroke-width="0.12">0</text>
<line x1="438.80" y1="323.20" x2="440.80" y2="323.20" stroke="#333" stroke-width="0.6"/>
<text class="s" x="437.60" y="324.30" font-size="3.1" text-anchor="end" fill="#555" stroke="#555" stroke-width="0.12">100</text>
<line x1="438.80" y1="267.60" x2="440.80" y2="267.60" stroke="#333" stroke-width="0.6"/>
<text class="s" x="437.60" y="268.70" font-size="3.1" text-anchor="end" fill="#555" stroke="#555" stroke-width="0.12">200</text>
<line x1="473.30" y1="378.90" x2="473.30" y2="381.00" stroke="#333" stroke-width="0.6"/>
<text class="s" x="465.20" y="288.50" font-size="5.0" text-anchor="middle" fill="#111" stroke="#111" stroke-width="0.12">161</text>
<text class="s" x="481.60" y="234.60" font-size="5.0" text-anchor="middle" fill="#111" stroke="#111" stroke-width="0.12">259</text>
<text class="s" x="431.40" y="300.00" font-size="4.0" text-anchor="middle" fill="#333" transform="rotate(-90 431.40 300.00)" stroke="#333" stroke-width="0.12">Number of genes</text>
<text class="s" x="473.30" y="385.80" font-size="4.2" text-anchor="middle" fill="#444" stroke="#444" stroke-width="0.12">CUMS_Noise vs Control</text>
<rect x="513.20" y="294.70" width="5.70" height="5.80" fill="#2b5fb5"/>
<rect x="513.20" y="301.10" width="5.70" height="5.80" fill="#e8191f"/>
<text class="s" x="520.60" y="298.80" font-size="3.2" fill="#222" stroke="#222" stroke-width="0.12">down</text>
<text class="s" x="520.60" y="305.20" font-size="3.2" fill="#222" stroke="#222" stroke-width="0.12">up</text>
<rect x="134.40" y="408.10" width="80.00" height="202.50" fill="#fff"/>
<line x1="139.90" y1="408.1" x2="139.90" y2="610.6" stroke="#ebebeb" stroke-width="0.4"/><line x1="147.65" y1="408.1" x2="147.65" y2="610.6" stroke="#ebebeb" stroke-width="0.75"/><line x1="155.40" y1="408.1" x2="155.40" y2="610.6" stroke="#ebebeb" stroke-width="0.4"/><line x1="163.15" y1="408.1" x2="163.15" y2="610.6" stroke="#ebebeb" stroke-width="0.75"/><line x1="170.90" y1="408.1" x2="170.90" y2="610.6" stroke="#ebebeb" stroke-width="0.4"/><line x1="178.65" y1="408.1" x2="178.65" y2="610.6" stroke="#ebebeb" stroke-width="0.75"/><line x1="186.40" y1="408.1" x2="186.40" y2="610.6" stroke="#ebebeb" stroke-width="0.4"/><line x1="194.15" y1="408.1" x2="194.15" y2="610.6" stroke="#ebebeb" stroke-width="0.75"/><line x1="201.90" y1="408.1" x2="201.90" y2="610.6" stroke="#ebebeb" stroke-width="0.4"/><line x1="209.65" y1="408.1" x2="209.65" y2="610.6" stroke="#ebebeb" stroke-width="0.75"/><line x1="134.4" y1="414.20" x2="214.4" y2="414.20" stroke="#ebebeb" stroke-width="0.75"/><line x1="134.4" y1="424.19" x2="214.4" y2="424.19" stroke="#ebebeb" stroke-width="0.75"/><line x1="134.4" y1="434.18" x2="214.4" y2="434.18" stroke="#ebebeb" stroke-width="0.75"/><line x1="134.4" y1="444.17" x2="214.4" y2="444.17" stroke="#ebebeb" stroke-width="0.75"/><line x1="134.4" y1="454.16" x2="214.4" y2="454.16" stroke="#ebebeb" stroke-width="0.75"/><line x1="134.4" y1="464.15" x2="214.4" y2="464.15" stroke="#ebebeb" stroke-width="0.75"/><line x1="134.4" y1="474.14" x2="214.4" y2="474.14" stroke="#ebebeb" stroke-width="0.75"/><line x1="134.4" y1="484.13" x2="214.4" y2="484.13" stroke="#ebebeb" stroke-width="0.75"/><line x1="134.4" y1="494.12" x2="214.4" y2="494.12" stroke="#ebebeb" stroke-width="0.75"/><line x1="134.4" y1="504.11" x2="214.4" y2="504.11" stroke="#ebebeb" stroke-width="0.75"/><line x1="134.4" y1="514.10" x2="214.4" y2="514.10" stroke="#ebebeb" stroke-width="0.75"/><line x1="134.4" y1="524.09" x2="214.4" y2="524.09" stroke="#ebebeb" stroke-width="0.75"/><line x1="134.4" y1="534.08" x2="214.4" y2="534.08" stroke="#ebebeb" stroke-width="0.75"/><line x1="134.4" y1="544.07" x2="214.4" y2="544.07" stroke="#ebebeb" stroke-width="0.75"/><line x1="134.4" y1="554.06" x2="214.4" y2="554.06" stroke="#ebebeb" stroke-width="0.75"/><line x1="134.4" y1="564.05" x2="214.4" y2="564.05" stroke="#ebebeb" stroke-width="0.75"/><line x1="134.4" y1="574.04" x2="214.4" y2="574.04" stroke="#ebebeb" stroke-width="0.75"/><line x1="134.4" y1="584.03" x2="214.4" y2="584.03" stroke="#ebebeb" stroke-width="0.75"/><line x1="134.4" y1="594.02" x2="214.4" y2="594.02" stroke="#ebebeb" stroke-width="0.75"/><line x1="134.4" y1="604.01" x2="214.4" y2="604.01" stroke="#ebebeb" stroke-width="0.75"/>
<circle cx="171.7" cy="414.20" r="3.15" fill="#e81c25"/>
<circle cx="168.1" cy="424.19" r="2.95" fill="#dd7a1c"/>
<circle cx="142.6" cy="434.18" r="3.70" fill="#c9a01e"/>
<circle cx="161.1" cy="444.17" r="3.00" fill="#c9a01e"/>
<circle cx="138.2" cy="454.16" r="3.90" fill="#c4a21d"/>
<circle cx="143.4" cy="464.15" r="3.45" fill="#adb820"/>
<circle cx="165.7" cy="474.14" r="2.55" fill="#a6bc24"/>
<circle cx="150.9" cy="484.13" r="3.10" fill="#a6bc24"/>
<circle cx="168.9" cy="494.12" r="2.45" fill="#a0be26"/>
<circle cx="150.9" cy="504.11" r="3.00" fill="#a4bc24"/>
<circle cx="210.6" cy="514.10" r="1.30" fill="#8cc12f"/>
<circle cx="146.1" cy="524.09" r="3.15" fill="#93c02d"/>
<circle cx="150.9" cy="534.08" r="2.70" fill="#8dc130"/>
<circle cx="155.0" cy="544.07" r="2.55" fill="#8cc131"/>
<circle cx="149.6" cy="554.06" r="2.65" fill="#88c232"/>
<circle cx="143.4" cy="564.05" r="3.00" fill="#86c233"/>
<circle cx="147.2" cy="574.04" r="2.70" fill="#82c334"/>
<circle cx="187.1" cy="584.03" r="1.45" fill="#7ec336"/>
<circle cx="154.5" cy="594.02" r="2.55" fill="#7cc437"/>
<circle cx="148.5" cy="604.01" r="2.55" fill="#7ac437"/>
<rect x="134.4" y="408.1" width="80.0" height="202.5" fill="none" stroke="#444" stroke-width="0.75"/>
<line x1="132.60" y1="414.20" x2="134.40" y2="414.20" stroke="#333" stroke-width="0.6"/>
<text class="r" x="131.20" y="416.00" font-size="5.42" text-anchor="end" fill="#1a1a1a" stroke="#1a1a1a" stroke-width="0.07">Glutamatergic synapse</text>
<line x1="132.60" y1="424.19" x2="134.40" y2="424.19" stroke="#333" stroke-width="0.6"/>
<text class="r" x="131.20" y="425.99" font-size="5.42" text-anchor="end" fill="#1a1a1a" stroke="#1a1a1a" stroke-width="0.07">Aldosterone synthesis and secretion</text>
<line x1="132.60" y1="434.18" x2="134.40" y2="434.18" stroke="#333" stroke-width="0.6"/>
<text class="r" x="131.20" y="435.98" font-size="5.42" text-anchor="end" fill="#1a1a1a" stroke="#1a1a1a" stroke-width="0.07">MAPK signaling pathway</text>
<line x1="132.60" y1="444.17" x2="134.40" y2="444.17" stroke="#333" stroke-width="0.6"/>
<text class="r" x="131.20" y="445.97" font-size="5.42" text-anchor="end" fill="#1a1a1a" stroke="#1a1a1a" stroke-width="0.07">Growth hormone synthesis, secretion and action</text>
<line x1="132.60" y1="454.16" x2="134.40" y2="454.16" stroke="#333" stroke-width="0.6"/>
<text class="r" x="131.20" y="455.96" font-size="5.42" text-anchor="end" fill="#1a1a1a" stroke="#1a1a1a" stroke-width="0.07">Neuroactive ligand−receptor interaction</text>
<line x1="132.60" y1="464.15" x2="134.40" y2="464.15" stroke="#333" stroke-width="0.6"/>
<text class="r" x="131.20" y="465.95" font-size="5.42" text-anchor="end" fill="#1a1a1a" stroke="#1a1a1a" stroke-width="0.07">Calcium signaling pathway</text>
<line x1="132.60" y1="474.14" x2="134.40" y2="474.14" stroke="#333" stroke-width="0.6"/>
<text class="r" x="131.20" y="475.94" font-size="5.42" text-anchor="end" fill="#1a1a1a" stroke="#1a1a1a" stroke-width="0.07">Salivary secretion</text>
<line x1="132.60" y1="484.13" x2="134.40" y2="484.13" stroke="#333" stroke-width="0.6"/>
<text class="r" x="131.20" y="485.93" font-size="5.42" text-anchor="end" fill="#1a1a1a" stroke="#1a1a1a" stroke-width="0.07">Oxytocin signaling pathway</text>
<line x1="132.60" y1="494.12" x2="134.40" y2="494.12" stroke="#333" stroke-width="0.6"/>
<text class="r" x="131.20" y="495.92" font-size="5.42" text-anchor="end" fill="#1a1a1a" stroke="#1a1a1a" stroke-width="0.07">Thyroid hormone synthesis</text>
<line x1="132.60" y1="504.11" x2="134.40" y2="504.11" stroke="#333" stroke-width="0.6"/>
<text class="r" x="131.20" y="505.91" font-size="5.42" text-anchor="end" fill="#1a1a1a" stroke="#1a1a1a" stroke-width="0.07">Retrograde endocannabinoid signaling</text>
<line x1="132.60" y1="514.10" x2="134.40" y2="514.10" stroke="#333" stroke-width="0.6"/>
<text class="r" x="131.20" y="515.90" font-size="5.42" text-anchor="end" fill="#1a1a1a" stroke="#1a1a1a" stroke-width="0.07">Glycosphingolipid biosynthesis − lacto and neolacto series</text>
<line x1="132.60" y1="524.09" x2="134.40" y2="524.09" stroke="#333" stroke-width="0.6"/>
<text class="r" x="131.20" y="525.89" font-size="5.42" text-anchor="end" fill="#1a1a1a" stroke="#1a1a1a" stroke-width="0.07">Axon guidance</text>
<line x1="132.60" y1="534.08" x2="134.40" y2="534.08" stroke="#333" stroke-width="0.6"/>
<text class="r" x="131.20" y="535.88" font-size="5.42" text-anchor="end" fill="#1a1a1a" stroke="#1a1a1a" stroke-width="0.07">Relaxin signaling pathway</text>
<line x1="132.60" y1="544.07" x2="134.40" y2="544.07" stroke="#333" stroke-width="0.6"/>
<text class="r" x="131.20" y="545.87" font-size="5.42" text-anchor="end" fill="#1a1a1a" stroke="#1a1a1a" stroke-width="0.07">Circadian entrainment</text>
<line x1="132.60" y1="554.06" x2="134.40" y2="554.06" stroke="#333" stroke-width="0.6"/>
<text class="r" x="131.20" y="555.86" font-size="5.42" text-anchor="end" fill="#1a1a1a" stroke="#1a1a1a" stroke-width="0.07">Oocyte meiosis</text>
<line x1="132.60" y1="564.05" x2="134.40" y2="564.05" stroke="#333" stroke-width="0.6"/>
<text class="r" x="131.20" y="565.85" font-size="5.42" text-anchor="end" fill="#1a1a1a" stroke="#1a1a1a" stroke-width="0.07">cGMP−PKG signaling pathway</text>
<line x1="132.60" y1="574.04" x2="134.40" y2="574.04" stroke="#333" stroke-width="0.6"/>
<text class="r" x="131.20" y="575.84" font-size="5.42" text-anchor="end" fill="#1a1a1a" stroke="#1a1a1a" stroke-width="0.07">Apoptosis</text>
<line x1="132.60" y1="584.03" x2="134.40" y2="584.03" stroke="#333" stroke-width="0.6"/>
<text class="r" x="131.20" y="585.83" font-size="5.42" text-anchor="end" fill="#1a1a1a" stroke="#1a1a1a" stroke-width="0.07">Apoptosis − multiple species</text>
<line x1="132.60" y1="594.02" x2="134.40" y2="594.02" stroke="#333" stroke-width="0.6"/>
<text class="r" x="131.20" y="595.82" font-size="5.42" text-anchor="end" fill="#1a1a1a" stroke="#1a1a1a" stroke-width="0.07">GABAergic synapse</text>
<line x1="132.60" y1="604.01" x2="134.40" y2="604.01" stroke="#333" stroke-width="0.6"/>
<text class="r" x="131.20" y="605.81" font-size="5.42" text-anchor="end" fill="#1a1a1a" stroke="#1a1a1a" stroke-width="0.07">TNF signaling pathway</text>
<line x1="147.70" y1="610.60" x2="147.70" y2="612.20" stroke="#333" stroke-width="0.6"/>
<text class="r" x="147.70" y="617.10" font-size="5.4" text-anchor="middle" fill="#333" stroke="#333" stroke-width="0.12">2.0</text>
<line x1="163.20" y1="610.60" x2="163.20" y2="612.20" stroke="#333" stroke-width="0.6"/>
<text class="r" x="163.20" y="617.10" font-size="5.4" text-anchor="middle" fill="#333" stroke="#333" stroke-width="0.12">2.5</text>
<line x1="178.70" y1="610.60" x2="178.70" y2="612.20" stroke="#333" stroke-width="0.6"/>
<text class="r" x="178.70" y="617.10" font-size="5.4" text-anchor="middle" fill="#333" stroke="#333" stroke-width="0.12">3.0</text>
<line x1="194.20" y1="610.60" x2="194.20" y2="612.20" stroke="#333" stroke-width="0.6"/>
<text class="r" x="194.20" y="617.10" font-size="5.4" text-anchor="middle" fill="#333" stroke="#333" stroke-width="0.12">3.5</text>
<line x1="209.70" y1="610.60" x2="209.70" y2="612.20" stroke="#333" stroke-width="0.6"/>
<text class="r" x="209.70" y="617.10" font-size="5.4" text-anchor="middle" fill="#333" stroke="#333" stroke-width="0.12">4.0</text>
<text class="r" x="174.40" y="625.10" font-size="7.85" text-anchor="middle" fill="#2a2a2a" stroke="#2a2a2a" stroke-width="0.18">Enrichiment</text>
<text class="r" x="223.2" y="446.7" font-size="6.6" fill="#111" stroke="#111" stroke-width="0.05">−log<tspan font-size="4.4" dy="1.5">10</tspan><tspan dy="-1.5">(pvalue)</tspan></text>
<defs><linearGradient id="gF" x1="0" y1="0" x2="0" y2="1"><stop offset="0" stop-color="#e8272b"/><stop offset="0.18" stop-color="#e0621f"/><stop offset="0.5" stop-color="#c9a01e"/><stop offset="0.78" stop-color="#98bf2a"/><stop offset="1.0" stop-color="#66b82f"/></linearGradient></defs>
<rect x="223.40" y="452.00" width="9.20" height="46.50" fill="url(#gF)"/>
<line x1="223.40" y1="462.50" x2="225.30" y2="462.50" stroke="#fff" stroke-width="0.7"/>
<line x1="230.70" y1="462.50" x2="232.60" y2="462.50" stroke="#fff" stroke-width="0.7"/>
<text class="r" x="237.00" y="464.40" font-size="5.5" fill="#222" stroke="#222" stroke-width="0.12">6</text>
<line x1="223.40" y1="475.10" x2="225.30" y2="475.10" stroke="#fff" stroke-width="0.7"/>
<line x1="230.70" y1="475.10" x2="232.60" y2="475.10" stroke="#fff" stroke-width="0.7"/>
<text class="r" x="237.00" y="477.00" font-size="5.5" fill="#222" stroke="#222" stroke-width="0.12">5</text>
<line x1="223.40" y1="487.00" x2="225.30" y2="487.00" stroke="#fff" stroke-width="0.7"/>
<line x1="230.70" y1="487.00" x2="232.60" y2="487.00" stroke="#fff" stroke-width="0.7"/>
<text class="r" x="237.00" y="488.90" font-size="5.5" fill="#222" stroke="#222" stroke-width="0.12">4</text>
<text class="r" x="223.30" y="515.60" font-size="6.0" fill="#111" stroke="#111" stroke-width="0.12">count</text>
<circle cx="228.2" cy="524.6" r="1.5" fill="#000"/>
<text class="r" x="236.60" y="526.50" font-size="5.5" fill="#222" stroke="#222" stroke-width="0.12">10</text>
<circle cx="228.2" cy="534.0" r="2.5" fill="#000"/>
<text class="r" x="236.60" y="535.90" font-size="5.5" fill="#222" stroke="#222" stroke-width="0.12">20</text>
<circle cx="228.2" cy="543.6" r="3.0" fill="#000"/>
<text class="r" x="236.60" y="545.50" font-size="5.5" fill="#222" stroke="#222" stroke-width="0.12">30</text>
<circle cx="228.2" cy="553.0" r="3.35" fill="#000"/>
<text class="r" x="236.60" y="554.90" font-size="5.5" fill="#222" stroke="#222" stroke-width="0.12">40</text>
<circle cx="228.2" cy="562.4" r="3.6" fill="#000"/>
<text class="r" x="236.60" y="564.30" font-size="5.5" fill="#222" stroke="#222" stroke-width="0.12">50</text>
<circle cx="228.2" cy="572.0" r="3.85" fill="#000"/>
<text class="r" x="236.60" y="573.90" font-size="5.5" fill="#222" stroke="#222" stroke-width="0.12">60</text>
<rect x="267.20" y="421.10" width="169.80" height="55.20" fill="#deece6"/>
<rect x="267.20" y="478.70" width="169.80" height="55.30" fill="#dcdcea"/>
<rect x="267.20" y="536.10" width="169.80" height="55.60" fill="#fbe8e0"/>
<g><rect x="437.30" y="420.80" width="49.00" height="4.6" fill="#1f9a7f"/><rect x="437.30" y="426.51" width="47.90" height="4.6" fill="#1f9a7f"/><rect x="437.30" y="432.22" width="45.70" height="4.6" fill="#1f9a7f"/><rect x="437.30" y="437.93" width="43.30" height="4.6" fill="#1f9a7f"/><rect x="437.30" y="443.64" width="34.20" height="4.6" fill="#1f9a7f"/><rect x="437.30" y="449.35" width="33.30" height="4.6" fill="#1f9a7f"/><rect x="437.30" y="455.06" width="32.60" height="4.6" fill="#1f9a7f"/><rect x="437.30" y="460.77" width="29.80" height="4.6" fill="#1f9a7f"/><rect x="437.30" y="466.48" width="29.40" height="4.6" fill="#1f9a7f"/><rect x="437.30" y="472.19" width="28.30" height="4.6" fill="#1f9a7f"/><rect x="437.30" y="477.90" width="88.70" height="4.6" fill="#2e4a8c"/><rect x="437.30" y="483.61" width="78.50" height="4.6" fill="#2e4a8c"/><rect x="437.30" y="489.32" width="74.10" height="4.6" fill="#2e4a8c"/><rect x="437.30" y="495.03" width="68.60" height="4.6" fill="#2e4a8c"/><rect x="437.30" y="500.74" width="66.50" height="4.6" fill="#2e4a8c"/><rect x="437.30" y="506.45" width="47.20" height="4.6" fill="#2e4a8c"/><rect x="437.30" y="512.16" width="39.80" height="4.6" fill="#2e4a8c"/><rect x="437.30" y="517.87" width="39.60" height="4.6" fill="#2e4a8c"/><rect x="437.30" y="523.58" width="39.20" height="4.6" fill="#2e4a8c"/><rect x="437.30" y="529.29" width="38.50" height="4.6" fill="#2e4a8c"/><rect x="437.30" y="535.00" width="58.60" height="4.6" fill="#ec9478"/><rect x="437.30" y="540.71" width="38.50" height="4.6" fill="#ec9478"/><rect x="437.30" y="546.42" width="38.50" height="4.6" fill="#ec9478"/><rect x="437.30" y="552.13" width="35.70" height="4.6" fill="#ec9478"/><rect x="437.30" y="557.84" width="33.10" height="4.6" fill="#ec9478"/><rect x="437.30" y="563.55" width="32.00" height="4.6" fill="#ec9478"/><rect x="437.30" y="569.26" width="25.40" height="4.6" fill="#ec9478"/><rect x="437.30" y="574.97" width="24.30" height="4.6" fill="#ec9478"/><rect x="437.30" y="580.68" width="24.30" height="4.6" fill="#ec9478"/><rect x="437.30" y="586.39" width="24.30" height="4.6" fill="#ec9478"/></g>
<g class="s" font-size="4.3" fill="#333" transform="scale(0.9 1)"><text x="541.11" y="424.70">38</text><text x="539.89" y="430.41">60</text><text x="537.44" y="436.12">65</text><text x="534.78" y="441.83">70</text><text x="524.67" y="447.54">21</text><text x="523.67" y="453.25">37</text><text x="522.89" y="458.96">22</text><text x="519.78" y="464.67">35</text><text x="519.33" y="470.38">44</text><text x="518.11" y="476.09">30</text><text x="585.22" y="481.80">70</text><text x="573.89" y="487.51">90</text><text x="569.00" y="493.22">48</text><text x="562.89" y="498.93">35</text><text x="560.56" y="504.64">73</text><text x="539.11" y="510.35">34</text><text x="530.89" y="516.06">33</text><text x="530.67" y="521.77">31</text><text x="530.22" y="527.48">20</text><text x="529.44" y="533.19">51</text><text x="551.78" y="538.90">43</text><text x="529.44" y="544.61">12</text><text x="529.44" y="550.32">17</text><text x="526.33" y="556.03">41</text><text x="523.44" y="561.74">10</text><text x="522.22" y="567.45">27</text><text x="514.89" y="573.16">15</text><text x="513.67" y="578.87">59</text><text x="513.67" y="584.58">14</text><text x="513.67" y="590.29">12</text></g>
<g class="s" font-size="4.5" font-weight="bold" fill="#000" text-anchor="end" transform="scale(0.82 1)"><text x="530.37" y="425.30">chemical synaptic transmission</text><text x="530.37" y="431.01">ion transmembrane transport</text><text x="530.37" y="436.72">intracellular signal transduction</text><text x="530.37" y="442.43">nervous system development</text><text x="530.37" y="448.14">positive regulation of synapse assembly</text><text x="530.37" y="453.85">axon guidance</text><text x="530.37" y="459.56">protein glycosylation</text><text x="530.37" y="465.27">positive regulation of neuron projection development</text><text x="530.37" y="470.98">positive regulation of protein phosphorylation</text><text x="530.37" y="476.69">rhythmic process</text><text x="530.37" y="482.40">postsynaptic membrane</text><text x="530.37" y="488.11">axon</text><text x="530.37" y="493.82">presynaptic membrane</text><text x="530.37" y="499.53">postsynaptic density membrane</text><text x="530.37" y="505.24">neuron projection</text><text x="530.37" y="510.95">GABA-ergic synapse</text><text x="530.37" y="516.66">Schaffer collateral - CA1 synapse</text><text x="530.37" y="522.37">synaptic vesicle membrane</text><text x="530.37" y="528.08">presynaptic active zone membrane</text><text x="530.37" y="533.79">postsynaptic density</text><text x="530.37" y="539.50">ion channel activity</text><text x="530.37" y="545.21">ligand-gated ion channel activity involved in regulation of presynaptic membrane potential</text><text x="530.37" y="550.92">transmitter-gated ion channel activity involved in regulation of postsynaptic membrane potential</text><text x="530.37" y="556.63">transferase activity, transferring glycosyl groups</text><text x="530.37" y="562.34">phosphorus-oxygen lyase activity</text><text x="530.37" y="568.05">PDZ domain binding</text><text x="530.37" y="573.76">transcription coactivator binding</text><text x="530.37" y="579.47">protein serine/threonine kinase activity</text><text x="530.37" y="585.18">ionotropic glutamate receptor binding</text><text x="530.37" y="590.89">extracellular ligand-gated ion channel activity</text></g>
<line x1="436.90" y1="420.00" x2="436.90" y2="593.80" stroke="#222" stroke-width="0.8"/>
<line x1="436.50" y1="593.30" x2="530.90" y2="593.30" stroke="#111" stroke-width="1.1"/>
<line x1="438.10" y1="593.30" x2="438.10" y2="594.80" stroke="#222" stroke-width="0.6"/>
<line x1="452.02" y1="593.30" x2="452.02" y2="594.80" stroke="#222" stroke-width="0.6"/>
<line x1="465.94" y1="593.30" x2="465.94" y2="594.80" stroke="#222" stroke-width="0.6"/>
<line x1="479.86" y1="593.30" x2="479.86" y2="594.80" stroke="#222" stroke-width="0.6"/>
<line x1="493.78" y1="593.30" x2="493.78" y2="594.80" stroke="#222" stroke-width="0.6"/>
<line x1="507.70" y1="593.30" x2="507.70" y2="594.80" stroke="#222" stroke-width="0.6"/>
<line x1="521.62" y1="593.30" x2="521.62" y2="594.80" stroke="#222" stroke-width="0.6"/>
<g class="s" font-size="4.4" fill="#333" stroke="#333" stroke-width="0.05" text-anchor="middle" transform="scale(0.85 1)"><text x="515.41" y="598.3">0.0</text><text x="531.79" y="598.3">2.5</text><text x="548.16" y="598.3">5.0</text><text x="564.54" y="598.3">7.5</text><text x="580.92" y="598.3">10.0</text><text x="597.29" y="598.3">12.5</text><text x="613.67" y="598.3">15.0</text></g>
<text class="s" x="562.21" y="603.4" font-size="5.0" text-anchor="middle" fill="#222" transform="scale(0.86 1)">-log<tspan font-size="3.3" dy="1.1">10</tspan><tspan dy="-1.1">(pvalue)</tspan></text>
<rect x="527.10" y="565.40" width="8.10" height="3.40" fill="#1f9a7f"/>
<text class="s" x="537.50" y="568.50" font-size="4.5" fill="#333" stroke="#333" stroke-width="0.12">BP</text>
<rect x="527.10" y="572.10" width="8.10" height="3.40" fill="#2e4a8c"/>
<text class="s" x="537.50" y="575.20" font-size="4.5" fill="#333" stroke="#333" stroke-width="0.12">CC</text>
<rect x="527.10" y="578.50" width="8.10" height="3.40" fill="#ec9478"/>
<text class="s" x="537.50" y="581.60" font-size="4.5" fill="#333" stroke="#333" stroke-width="0.12">MF</text>
</svg>
</body></html>
